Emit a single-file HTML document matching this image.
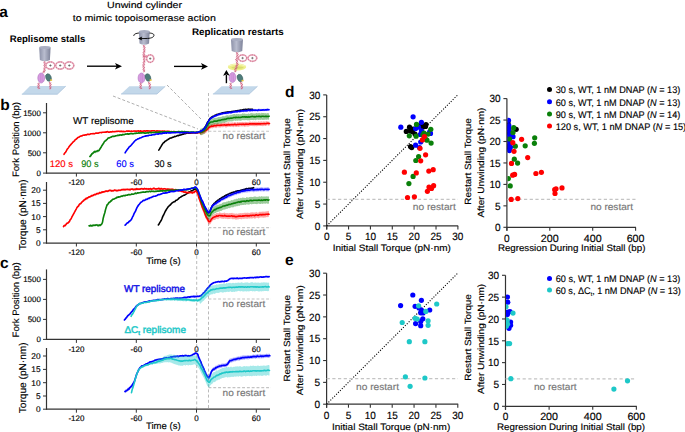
<!DOCTYPE html><html><head><meta charset="utf-8"><style>html,body{margin:0;padding:0;background:#fff;width:685px;height:432px;overflow:hidden}svg{display:block}text{font-family:"Liberation Sans",sans-serif;text-rendering:geometricPrecision;stroke-width:0.15px}</style></head><body>
<svg width="685" height="432" viewBox="0 0 685 432">
<defs><linearGradient id="cyl" x1="0" x2="1" y1="0" y2="0"><stop offset="0" stop-color="#8c91a8"/><stop offset="0.45" stop-color="#b9bdcf"/><stop offset="1" stop-color="#7d8299"/></linearGradient><clipPath id="cdR"><rect x="507.5" y="80" width="180" height="170"/></clipPath><clipPath id="ceR"><rect x="506.1" y="260" width="180" height="170"/></clipPath></defs>
<text x="-0.80" y="16.90" font-size="15.5" font-weight="bold">a</text>
<text x="107.10" y="7.80" font-size="9.1" stroke="#000" textLength="74.90" lengthAdjust="spacingAndGlyphs">Unwind cylinder</text>
<text x="72.70" y="21.00" font-size="9.1" stroke="#000" textLength="143.20" lengthAdjust="spacingAndGlyphs">to mimic topoisomerase action</text>
<text x="9.80" y="42.00" font-size="9.6" font-weight="bold" textLength="75.40" lengthAdjust="spacingAndGlyphs">Replisome stalls</text>
<text x="192.00" y="35.00" font-size="9.6" font-weight="bold" textLength="91.80" lengthAdjust="spacingAndGlyphs">Replication restarts</text>
<path d="M30,86.1 L65.8,86.1 L57.3,94.2 L21.8,94.2 Z" fill="#c3d8ea"/>
<path d="M21.8,94.2 L57.3,94.2 L65.8,86.1" fill="none" stroke="#a8c2da" stroke-width="0.8"/>
<path d="M39.00,83.00 L39.57,83.59 L39.72,84.07 L39.30,84.43 L38.50,84.69 L37.76,84.97 L37.49,85.36 L37.79,86.12 L38.60,86.38 L39.30,86.67 L39.49,87.08 L39.13,87.61 L38.50,88.21 L38.06,88.77 L38.14,89.20" fill="none" stroke="#e690aa" stroke-width="0.83"/>
<path d="M39.00,83.00 L38.23,83.27 L37.88,83.64 L38.10,84.15 L38.70,84.74 L39.24,85.32 L39.31,85.78 L38.81,85.88 L38.20,86.48 L37.70,87.04 L37.71,87.49 L38.27,87.81 L39.10,88.07 L39.74,88.37 L39.86,88.80" fill="none" stroke="#c8486a" stroke-width="0.83"/>
<path d="M50.00,82.00 L50.69,82.32 L51.04,82.68 L50.89,83.11 L50.35,83.58 L49.73,84.06 L49.38,84.51 L49.52,84.90 L50.10,85.24 L50.84,85.55 L51.36,86.14 L51.29,86.57 L50.70,86.91 L49.89,87.22 L49.33,87.57 L49.31,88.00 L49.80,88.53 L50.45,89.08" fill="none" stroke="#e690aa" stroke-width="0.83"/>
<path d="M50.00,82.00 L49.41,82.48 L49.16,82.92 L49.41,83.29 L50.05,83.62 L50.77,83.94 L51.22,84.29 L51.18,84.70 L50.70,85.16 L50.06,85.65 L49.64,85.86 L49.56,86.28 L50.02,86.80 L50.68,87.35 L51.10,87.86 L50.98,88.28 L50.35,88.62 L49.55,88.92" fill="none" stroke="#c8486a" stroke-width="0.83"/>
<path d="M44.60,61.30 L45.29,61.70 L45.59,62.11 L45.32,62.55 L44.65,63.01 L44.00,63.47 L43.76,63.90 L44.08,64.32 L44.78,64.72 L45.46,65.12 L45.73,65.53 L45.43,66.03 L44.77,66.40 L44.11,66.77 L43.79,67.15 L43.97,67.56 L44.54,67.99 L45.19,68.43 L45.58,68.85 L45.48,69.24 L44.95,69.62 L44.26,69.88 L43.60,70.12 L43.50,70.57 L43.93,71.21 L44.49,71.90 L44.70,72.47 L44.32,72.81 L43.49,73.00" fill="none" stroke="#e690aa" stroke-width="0.83"/>
<path d="M44.60,61.30 L43.94,61.76 L43.69,62.19 L43.99,62.61 L44.69,63.01 L45.38,63.41 L45.66,63.82 L45.37,64.26 L44.71,64.72 L44.06,65.18 L43.83,65.61 L44.17,65.97 L44.79,66.40 L45.41,66.83 L45.69,67.25 L45.47,67.64 L44.86,68.01 L44.17,68.37 L43.74,68.75 L43.80,69.16 L44.29,69.58 L44.94,70.12 L45.28,70.74 L45.07,71.14 L44.33,71.36 L43.45,71.52 L42.93,71.82 L43.00,72.33 L43.51,73.00" fill="none" stroke="#c8486a" stroke-width="0.83"/>
<ellipse cx="50.4" cy="65.5" rx="4.5" ry="3.6" fill="#fff" stroke="#eab4c4" stroke-width="1.7"/>
<ellipse cx="50.4" cy="65.5" rx="4.5" ry="3.6" fill="none" stroke="#cc5577" stroke-width="0.8" stroke-dasharray="1.2 1.2"/>
<line x1="49.20" y1="65.50" x2="51.60" y2="65.50" stroke="#444" stroke-width="0.6" />
<line x1="50.40" y1="64.30" x2="50.40" y2="66.70" stroke="#444" stroke-width="0.6" />
<ellipse cx="60.2" cy="65.5" rx="4.5" ry="3.6" fill="#fff" stroke="#eab4c4" stroke-width="1.7"/>
<ellipse cx="60.2" cy="65.5" rx="4.5" ry="3.6" fill="none" stroke="#cc5577" stroke-width="0.8" stroke-dasharray="1.2 1.2"/>
<line x1="59.00" y1="65.50" x2="61.40" y2="65.50" stroke="#444" stroke-width="0.6" />
<line x1="60.20" y1="64.30" x2="60.20" y2="66.70" stroke="#444" stroke-width="0.6" />
<ellipse cx="69.3" cy="65.5" rx="4.5" ry="3.6" fill="#fff" stroke="#eab4c4" stroke-width="1.7"/>
<ellipse cx="69.3" cy="65.5" rx="4.5" ry="3.6" fill="none" stroke="#cc5577" stroke-width="0.8" stroke-dasharray="1.2 1.2"/>
<line x1="68.10" y1="65.50" x2="70.50" y2="65.50" stroke="#444" stroke-width="0.6" />
<line x1="69.30" y1="64.30" x2="69.30" y2="66.70" stroke="#444" stroke-width="0.6" />
<ellipse cx="41.2" cy="78" rx="3.4" ry="5" fill="#d79be0" stroke="#b070c0" stroke-width="0.6"/>
<line x1="40.60" y1="74.00" x2="40.60" y2="82.00" stroke="#c080cc" stroke-width="0.5" />
<line x1="42.20" y1="74.00" x2="42.20" y2="82.00" stroke="#c080cc" stroke-width="0.5" />
<ellipse cx="48.5" cy="77.5" rx="2.7" ry="3.9" fill="#4f7c7a" stroke="#3a6060" stroke-width="0.5" transform="rotate(-20 48.5 77.5)"/>
<ellipse cx="51.1" cy="80.1" rx="1.2" ry="0.9" fill="#e8c840"/>
<path d="M39.2,47.5 L39.884,60 Q44.900000000000006,62.5 49.916000000000004,60 L50.6,47.5 Z" fill="url(#cyl)"/>
<ellipse cx="44.900000000000006" cy="47.5" rx="5.699999999999999" ry="1.6" fill="#a9aec2"/>
<line x1="87.00" y1="66.20" x2="117.00" y2="66.20" stroke="#000" stroke-width="1.35" />
<path d="M122,66.2 L115,62.900000000000006 L116.7,66.2 L115,69.5 Z" fill="#000"/>
<path d="M129.4,86.3 L165.3,86.3 L156.9,94 L121,94 Z" fill="#c3d8ea"/>
<path d="M121,94 L156.9,94 L165.3,86.3" fill="none" stroke="#a8c2da" stroke-width="0.8"/>
<path d="M144.00,45.00 L144.70,45.35 L145.03,45.74 L144.82,46.18 L144.21,46.66 L143.58,47.15 L143.31,47.59 L143.57,47.99 L144.25,48.34 L144.97,48.69 L145.36,49.07 L145.21,49.51 L144.63,50.03 L143.86,50.30 L143.41,50.65 L143.51,51.10 L144.04,51.64 L144.64,52.20 L144.92,52.68 L144.66,53.07 L143.96,53.36 L143.19,53.64 L142.74,53.98 L142.84,54.43 L143.37,55.03 L144.14,55.30 L144.59,55.65 L144.49,56.10 L143.96,56.64 L143.36,57.20 L143.08,57.68 L143.34,58.07 L144.04,58.36 L144.81,58.64 L145.26,58.98 L145.16,59.43 L144.63,60.03 L143.86,60.30 L143.41,60.65 L143.50,61.10 L144.03,61.64 L144.64,62.19 L144.92,62.68 L144.66,63.07 L143.97,63.36 L143.19,63.64 L142.74,63.98 L142.84,64.43 L143.36,65.01 L144.08,65.37 L144.49,65.76 L144.38,66.18 L143.84,66.63 L143.17,67.09 L142.77,67.54 L142.87,67.94 L143.43,68.32 L144.17,68.68 L144.68,69.05 L144.70,69.47 L144.23,69.91 L143.56,70.38 L143.06,70.83 L143.04,71.24 L143.51,71.62 L144.24,71.98" fill="none" stroke="#e690aa" stroke-width="0.83"/>
<path d="M144.00,45.00 L143.38,45.48 L143.14,45.93 L143.43,46.32 L144.12,46.67 L144.84,47.02 L145.19,47.41 L145.01,47.84 L144.42,48.32 L143.78,48.81 L143.48,49.26 L143.71,49.66 L144.37,49.97 L144.98,50.53 L145.26,51.02 L144.99,51.40 L144.30,51.69 L143.52,51.97 L143.08,52.32 L143.17,52.77 L143.70,53.31 L144.31,53.86 L144.59,54.35 L144.33,54.73 L143.63,54.97 L143.02,55.53 L142.74,56.02 L143.01,56.40 L143.70,56.69 L144.48,56.97 L144.92,57.32 L144.83,57.77 L144.30,58.31 L143.69,58.86 L143.41,59.35 L143.67,59.73 L144.37,59.97 L144.98,60.53 L145.26,61.02 L145.00,61.40 L144.30,61.69 L143.53,61.97 L143.08,62.32 L143.17,62.77 L143.70,63.31 L144.31,63.86 L144.59,64.35 L144.33,64.73 L143.64,64.99 L142.98,65.45 L142.63,65.89 L142.79,66.29 L143.40,66.66 L144.12,67.02 L144.59,67.41 L144.54,67.82 L144.04,68.27 L143.36,68.73 L142.91,69.18 L142.95,69.59 L143.47,69.97 L144.21,70.33 L144.76,70.70 L144.85,71.11 L144.43,71.56 L143.76,72.02" fill="none" stroke="#c8486a" stroke-width="0.83"/>
<ellipse cx="150.2" cy="58.6" rx="3.6" ry="3.8" fill="#fff" stroke="#eab4c4" stroke-width="1.7"/>
<ellipse cx="150.2" cy="58.6" rx="3.6" ry="3.8" fill="none" stroke="#cc5577" stroke-width="0.8" stroke-dasharray="1.2 1.2"/>
<line x1="149.00" y1="58.60" x2="151.40" y2="58.60" stroke="#444" stroke-width="0.6" />
<line x1="150.20" y1="57.40" x2="150.20" y2="59.80" stroke="#444" stroke-width="0.6" />
<path d="M144.20,55.50 L144.93,55.09 L145.45,55.10 L145.66,55.65 L145.71,56.53 L145.81,57.30 L146.17,57.58 L146.82,57.34" fill="none" stroke="#e690aa" stroke-width="0.68"/>
<path d="M144.20,55.50 L144.27,56.34 L144.55,56.76 L145.14,56.63 L145.89,56.18 L146.59,55.84 L147.03,55.99 L147.18,56.66" fill="none" stroke="#c8486a" stroke-width="0.68"/>
<ellipse cx="141.5" cy="78" rx="3.4" ry="5" fill="#d79be0" stroke="#b070c0" stroke-width="0.6"/>
<line x1="140.90" y1="74.00" x2="140.90" y2="82.00" stroke="#c080cc" stroke-width="0.5" />
<line x1="142.50" y1="74.00" x2="142.50" y2="82.00" stroke="#c080cc" stroke-width="0.5" />
<ellipse cx="148" cy="77.5" rx="2.7" ry="3.9" fill="#4f7c7a" stroke="#3a6060" stroke-width="0.5" transform="rotate(-20 148 77.5)"/>
<ellipse cx="150.6" cy="80.1" rx="1.2" ry="0.9" fill="#e8c840"/>
<path d="M141.00,83.00 L141.60,83.54 L141.79,84.01 L141.41,84.39 L140.65,84.70 L139.92,85.02 L139.64,85.42 L139.92,86.10 L140.70,86.41 L141.40,86.73 L141.64,87.13 L141.31,87.63 L140.66,88.18 L140.13,88.70 L140.09,89.15" fill="none" stroke="#e690aa" stroke-width="0.83"/>
<path d="M141.00,83.00 L140.25,83.32 L139.92,83.70 L140.16,84.18 L140.78,84.73 L141.36,85.26 L141.50,85.73 L141.08,85.90 L140.44,86.45 L139.88,86.98 L139.79,87.44 L140.26,87.80 L141.05,88.11 L141.72,88.44 L141.91,88.85" fill="none" stroke="#c8486a" stroke-width="0.83"/>
<path d="M149.00,82.00 L149.74,82.24 L150.12,82.57 L150.00,83.03 L149.49,83.58 L148.93,84.14 L148.69,84.63 L148.95,84.99 L149.63,85.24 L150.40,85.47 L150.91,86.15 L150.72,86.56 L150.04,86.89 L149.25,87.20 L148.79,87.56 L148.89,88.02 L149.45,88.55 L150.08,89.10" fill="none" stroke="#e690aa" stroke-width="0.83"/>
<path d="M149.00,82.00 L148.46,82.56 L148.28,83.03 L148.60,83.37 L149.31,83.62 L150.07,83.86 L150.51,84.17 L150.45,84.61 L149.97,85.16 L149.40,85.73 L149.09,85.85 L149.14,86.30 L149.67,86.83 L150.32,87.37 L150.64,87.87 L150.40,88.27 L149.69,88.59 L148.92,88.90" fill="none" stroke="#c8486a" stroke-width="0.83"/>
<path d="M133.9,36 C133.4,34.2 136,33.2 139.5,33 L149,33 C152.5,33.1 154.4,34.2 153.9,35.7" fill="none" stroke="#000" stroke-width="0.9"/>
<path d="M138.9,31.5 L139.548,43.6 Q144.3,46.1 149.052,43.6 L149.7,31.5 Z" fill="url(#cyl)"/>
<ellipse cx="144.3" cy="31.5" rx="5.3999999999999915" ry="1.6" fill="#a9aec2"/>
<path d="M153.9,35.7 C153.4,37.6 150.5,38.4 146,38.5 L141,38.6" fill="none" stroke="#000" stroke-width="0.9"/>
<path d="M138,38.6 L142.2,36.6 L141.3,38.6 L142.2,40.6 Z" fill="#000"/>
<line x1="174.00" y1="66.40" x2="203.00" y2="66.40" stroke="#000" stroke-width="1.35" />
<path d="M208,66.4 L201,63.10000000000001 L202.7,66.4 L201,69.7 Z" fill="#000"/>
<path d="M221.6,86.3 L257.5,86.3 L249.2,94 L212.9,94 Z" fill="#c3d8ea"/>
<path d="M212.9,94 L249.2,94 L257.5,86.3" fill="none" stroke="#a8c2da" stroke-width="0.8"/>
<ellipse cx="237" cy="67" rx="9.2" ry="3.4" fill="#eef08a"/>
<ellipse cx="237.5" cy="67.6" rx="6.2" ry="1.3" fill="#d8dc70"/>
<path d="M228.5,66 Q237,62.5 245.5,66" fill="none" stroke="#f6f8c0" stroke-width="1"/>
<path d="M237.00,52.00 L237.69,52.32 L238.04,52.68 L237.89,53.11 L237.35,53.58 L236.73,54.06 L236.38,54.51 L236.52,54.90 L237.10,55.24 L237.84,55.55 L238.35,56.21 L238.26,56.62 L237.70,56.90 L236.92,57.13 L236.29,57.40 L236.11,57.78 L236.42,58.28 L237.00,58.85 L237.46,59.39 L237.51,59.83 L237.05,59.86 L236.49,60.43 L235.99,60.98 L235.88,61.43 L236.28,61.75 L237.03,61.99 L237.76,62.24 L238.12,62.57 L237.98,63.03 L237.46,63.59 L236.93,63.79 L236.46,64.07 L236.52,64.55 L236.98,65.17 L237.48,65.82 L237.64,66.33 L237.27,66.65 L236.50,66.82 L235.71,66.98 L235.26,67.27 L235.32,67.83 L235.83,68.38 L236.39,68.95 L236.62,69.43 L236.34,69.78 L235.65,70.04 L234.88,70.27 L234.40,70.57 L234.41,71.00 L234.86,71.54 L235.44,72.11" fill="none" stroke="#e690aa" stroke-width="0.83"/>
<path d="M237.00,52.00 L236.41,52.48 L236.16,52.92 L236.41,53.29 L237.05,53.62 L237.77,53.94 L238.22,54.29 L238.18,54.70 L237.70,55.16 L237.06,55.65 L236.65,55.79 L236.54,56.18 L236.90,56.70 L237.48,57.27 L237.91,57.80 L237.89,58.22 L237.38,58.52 L236.60,58.75 L235.94,59.01 L235.69,59.37 L235.95,60.14 L236.71,60.37 L237.41,60.62 L237.72,60.97 L237.52,61.45 L236.97,62.01 L236.44,62.56 L236.28,63.03 L236.62,63.37 L237.34,63.61 L238.07,64.21 L238.24,64.73 L237.88,65.05 L237.12,65.23 L236.32,65.38 L235.86,65.67 L235.93,66.15 L236.40,66.78 L236.89,67.42 L237.04,67.93 L236.68,68.17 L235.97,68.42 L235.21,68.65 L234.78,68.97 L234.86,69.42 L235.35,69.96 L235.92,70.53 L236.20,71.03 L235.99,71.40 L235.34,71.66 L234.56,71.89" fill="none" stroke="#c8486a" stroke-width="0.83"/>
<ellipse cx="242.6" cy="58.1" rx="4.2" ry="3.2" fill="#fff" stroke="#eab4c4" stroke-width="1.7"/>
<ellipse cx="242.6" cy="58.1" rx="4.2" ry="3.2" fill="none" stroke="#cc5577" stroke-width="0.8" stroke-dasharray="1.2 1.2"/>
<line x1="241.40" y1="58.10" x2="243.80" y2="58.10" stroke="#444" stroke-width="0.6" />
<line x1="242.60" y1="56.90" x2="242.60" y2="59.30" stroke="#444" stroke-width="0.6" />
<ellipse cx="252.4" cy="58.1" rx="4.4" ry="3.2" fill="#fff" stroke="#eab4c4" stroke-width="1.7"/>
<ellipse cx="252.4" cy="58.1" rx="4.4" ry="3.2" fill="none" stroke="#cc5577" stroke-width="0.8" stroke-dasharray="1.2 1.2"/>
<line x1="251.20" y1="58.10" x2="253.60" y2="58.10" stroke="#444" stroke-width="0.6" />
<line x1="252.40" y1="56.90" x2="252.40" y2="59.30" stroke="#444" stroke-width="0.6" />
<ellipse cx="232.5" cy="77.5" rx="3.4" ry="5" fill="#d79be0" stroke="#b070c0" stroke-width="0.6"/>
<line x1="231.90" y1="73.50" x2="231.90" y2="81.50" stroke="#c080cc" stroke-width="0.5" />
<line x1="233.50" y1="73.50" x2="233.50" y2="81.50" stroke="#c080cc" stroke-width="0.5" />
<ellipse cx="240" cy="78" rx="2.7" ry="3.9" fill="#4f7c7a" stroke="#3a6060" stroke-width="0.5" transform="rotate(-20 240 78)"/>
<ellipse cx="242.6" cy="80.6" rx="1.2" ry="0.9" fill="#e8c840"/>
<path d="M231.00,83.00 L231.60,83.54 L231.79,84.01 L231.41,84.39 L230.65,84.70 L229.92,85.02 L229.64,85.42 L229.92,86.10 L230.70,86.41 L231.40,86.73 L231.64,87.13 L231.31,87.63 L230.66,88.18 L230.13,88.70 L230.09,89.15" fill="none" stroke="#e690aa" stroke-width="0.83"/>
<path d="M231.00,83.00 L230.25,83.32 L229.92,83.70 L230.16,84.18 L230.78,84.73 L231.36,85.26 L231.50,85.73 L231.08,85.90 L230.44,86.45 L229.88,86.98 L229.79,87.44 L230.26,87.80 L231.05,88.11 L231.72,88.44 L231.91,88.85" fill="none" stroke="#c8486a" stroke-width="0.83"/>
<path d="M241.00,82.00 L241.74,82.24 L242.12,82.57 L242.00,83.03 L241.49,83.58 L240.93,84.14 L240.69,84.63 L240.95,84.99 L241.63,85.24 L242.40,85.47 L242.91,86.15 L242.72,86.56 L242.04,86.89 L241.25,87.20 L240.79,87.56 L240.89,88.02 L241.45,88.55 L242.08,89.10" fill="none" stroke="#e690aa" stroke-width="0.83"/>
<path d="M241.00,82.00 L240.46,82.56 L240.28,83.03 L240.60,83.37 L241.31,83.62 L242.07,83.86 L242.51,84.17 L242.45,84.61 L241.97,85.16 L241.40,85.73 L241.09,85.85 L241.14,86.30 L241.67,86.83 L242.32,87.37 L242.64,87.87 L242.40,88.27 L241.69,88.59 L240.92,88.90" fill="none" stroke="#c8486a" stroke-width="0.83"/>
<path d="M231,39.5 L231.72,51 Q237.0,53.5 242.28,51 L243,39.5 Z" fill="url(#cyl)"/>
<ellipse cx="237.0" cy="39.5" rx="6.0" ry="1.6" fill="#a9aec2"/>
<line x1="226.40" y1="83.20" x2="226.40" y2="75.00" stroke="#000" stroke-width="1.4" />
<path d="M226.4,70 L223.1,75.8 L226.4,74.6 L229.7,75.8 Z" fill="#000"/>
<line x1="113.00" y1="96.00" x2="198.00" y2="129.00" stroke="#9a9a9a" stroke-width="0.8" stroke-dasharray="3 2"/>
<line x1="167.00" y1="85.00" x2="202.00" y2="120.00" stroke="#9a9a9a" stroke-width="0.8" stroke-dasharray="3 2"/>
<line x1="208.50" y1="93.00" x2="208.50" y2="409.00" stroke="#a8a8a8" stroke-width="0.8" stroke-dasharray="3 2.2"/>
<line x1="196.70" y1="131.00" x2="196.70" y2="409.00" stroke="#a8a8a8" stroke-width="0.8" stroke-dasharray="3 2.2"/>
<line x1="46.50" y1="103.00" x2="46.50" y2="173.60" stroke="#333333" stroke-width="1.2" />
<line x1="46.00" y1="173.10" x2="270.00" y2="173.10" stroke="#333333" stroke-width="1.25" />
<line x1="43.00" y1="112.80" x2="46.50" y2="112.80" stroke="#333333" stroke-width="1" />
<text x="40.80" y="115.64" font-size="7.9" stroke="#000" text-anchor="end">1500</text>
<line x1="43.00" y1="132.80" x2="46.50" y2="132.80" stroke="#333333" stroke-width="1" />
<text x="40.80" y="135.64" font-size="7.9" stroke="#000" text-anchor="end">1000</text>
<line x1="43.00" y1="152.80" x2="46.50" y2="152.80" stroke="#333333" stroke-width="1" />
<text x="40.80" y="155.64" font-size="7.9" stroke="#000" text-anchor="end">500</text>
<line x1="43.00" y1="173.10" x2="46.50" y2="173.10" stroke="#333333" stroke-width="1" />
<text x="40.80" y="175.94" font-size="7.9" stroke="#000" text-anchor="end">0</text>
<line x1="76.40" y1="173.10" x2="76.40" y2="176.60" stroke="#333333" stroke-width="1" />
<text x="76.40" y="185.00" font-size="8.0" stroke="#000" text-anchor="middle">-120</text>
<line x1="136.30" y1="173.10" x2="136.30" y2="176.60" stroke="#333333" stroke-width="1" />
<text x="136.30" y="185.00" font-size="8.0" stroke="#000" text-anchor="middle">-60</text>
<line x1="196.50" y1="173.10" x2="196.50" y2="176.60" stroke="#333333" stroke-width="1" />
<text x="196.50" y="185.00" font-size="8.0" stroke="#000" text-anchor="middle">0</text>
<line x1="256.30" y1="173.10" x2="256.30" y2="176.60" stroke="#333333" stroke-width="1" />
<text x="256.30" y="185.00" font-size="8.0" stroke="#000" text-anchor="middle">60</text>
<text transform="translate(19.10,139.50) rotate(-90)" font-size="9.3" stroke="#000" text-anchor="middle" textLength="75.00" lengthAdjust="spacingAndGlyphs">Fork Position (bp)</text>
<line x1="46.50" y1="182.00" x2="46.50" y2="243.50" stroke="#333333" stroke-width="1.2" />
<line x1="46.00" y1="243.00" x2="270.00" y2="243.00" stroke="#333333" stroke-width="1.25" />
<line x1="43.00" y1="190.20" x2="46.50" y2="190.20" stroke="#333333" stroke-width="1" />
<text x="40.50" y="193.19" font-size="8.3" stroke="#000" text-anchor="end">20</text>
<line x1="43.00" y1="203.40" x2="46.50" y2="203.40" stroke="#333333" stroke-width="1" />
<text x="40.50" y="206.39" font-size="8.3" stroke="#000" text-anchor="end">15</text>
<line x1="43.00" y1="216.60" x2="46.50" y2="216.60" stroke="#333333" stroke-width="1" />
<text x="40.50" y="219.59" font-size="8.3" stroke="#000" text-anchor="end">10</text>
<line x1="43.00" y1="229.80" x2="46.50" y2="229.80" stroke="#333333" stroke-width="1" />
<text x="40.50" y="232.79" font-size="8.3" stroke="#000" text-anchor="end">5</text>
<line x1="43.00" y1="243.00" x2="46.50" y2="243.00" stroke="#333333" stroke-width="1" />
<text x="40.50" y="245.99" font-size="8.3" stroke="#000" text-anchor="end">0</text>
<line x1="76.40" y1="243.00" x2="76.40" y2="246.50" stroke="#333333" stroke-width="1" />
<text x="76.40" y="255.20" font-size="8.0" stroke="#000" text-anchor="middle">-120</text>
<line x1="136.30" y1="243.00" x2="136.30" y2="246.50" stroke="#333333" stroke-width="1" />
<text x="136.30" y="255.20" font-size="8.0" stroke="#000" text-anchor="middle">-60</text>
<line x1="196.50" y1="243.00" x2="196.50" y2="246.50" stroke="#333333" stroke-width="1" />
<text x="196.50" y="255.20" font-size="8.0" stroke="#000" text-anchor="middle">0</text>
<line x1="256.30" y1="243.00" x2="256.30" y2="246.50" stroke="#333333" stroke-width="1" />
<text x="256.30" y="255.20" font-size="8.0" stroke="#000" text-anchor="middle">60</text>
<text transform="translate(26.30,214.80) rotate(-90)" font-size="9.9" stroke="#000" text-anchor="middle" textLength="71.00" lengthAdjust="spacingAndGlyphs">Torque (pN·nm)</text>
<line x1="46.50" y1="269.40" x2="46.50" y2="339.90" stroke="#333333" stroke-width="1.2" />
<line x1="46.00" y1="339.40" x2="270.00" y2="339.40" stroke="#333333" stroke-width="1.25" />
<line x1="43.00" y1="279.40" x2="46.50" y2="279.40" stroke="#333333" stroke-width="1" />
<text x="40.80" y="282.24" font-size="7.9" stroke="#000" text-anchor="end">1500</text>
<line x1="43.00" y1="299.40" x2="46.50" y2="299.40" stroke="#333333" stroke-width="1" />
<text x="40.80" y="302.24" font-size="7.9" stroke="#000" text-anchor="end">1000</text>
<line x1="43.00" y1="319.40" x2="46.50" y2="319.40" stroke="#333333" stroke-width="1" />
<text x="40.80" y="322.24" font-size="7.9" stroke="#000" text-anchor="end">500</text>
<line x1="43.00" y1="339.40" x2="46.50" y2="339.40" stroke="#333333" stroke-width="1" />
<text x="40.80" y="342.24" font-size="7.9" stroke="#000" text-anchor="end">0</text>
<line x1="76.40" y1="339.40" x2="76.40" y2="342.90" stroke="#333333" stroke-width="1" />
<text x="76.40" y="351.60" font-size="8.0" stroke="#000" text-anchor="middle">-120</text>
<line x1="136.30" y1="339.40" x2="136.30" y2="342.90" stroke="#333333" stroke-width="1" />
<text x="136.30" y="351.60" font-size="8.0" stroke="#000" text-anchor="middle">-60</text>
<line x1="196.50" y1="339.40" x2="196.50" y2="342.90" stroke="#333333" stroke-width="1" />
<text x="196.50" y="351.60" font-size="8.0" stroke="#000" text-anchor="middle">0</text>
<line x1="256.30" y1="339.40" x2="256.30" y2="342.90" stroke="#333333" stroke-width="1" />
<text x="256.30" y="351.60" font-size="8.0" stroke="#000" text-anchor="middle">60</text>
<text transform="translate(19.10,299.90) rotate(-90)" font-size="9.3" stroke="#000" text-anchor="middle" textLength="75.00" lengthAdjust="spacingAndGlyphs">Fork Position (bp)</text>
<line x1="46.50" y1="348.00" x2="46.50" y2="409.70" stroke="#333333" stroke-width="1.2" />
<line x1="46.00" y1="409.20" x2="270.00" y2="409.20" stroke="#333333" stroke-width="1.25" />
<line x1="43.00" y1="356.00" x2="46.50" y2="356.00" stroke="#333333" stroke-width="1" />
<text x="40.50" y="358.99" font-size="8.3" stroke="#000" text-anchor="end">20</text>
<line x1="43.00" y1="369.40" x2="46.50" y2="369.40" stroke="#333333" stroke-width="1" />
<text x="40.50" y="372.39" font-size="8.3" stroke="#000" text-anchor="end">15</text>
<line x1="43.00" y1="382.70" x2="46.50" y2="382.70" stroke="#333333" stroke-width="1" />
<text x="40.50" y="385.69" font-size="8.3" stroke="#000" text-anchor="end">10</text>
<line x1="43.00" y1="396.00" x2="46.50" y2="396.00" stroke="#333333" stroke-width="1" />
<text x="40.50" y="398.99" font-size="8.3" stroke="#000" text-anchor="end">5</text>
<line x1="43.00" y1="409.20" x2="46.50" y2="409.20" stroke="#333333" stroke-width="1" />
<text x="40.50" y="412.19" font-size="8.3" stroke="#000" text-anchor="end">0</text>
<line x1="76.40" y1="409.20" x2="76.40" y2="412.70" stroke="#333333" stroke-width="1" />
<text x="76.40" y="420.60" font-size="8.0" stroke="#000" text-anchor="middle">-120</text>
<line x1="136.30" y1="409.20" x2="136.30" y2="412.70" stroke="#333333" stroke-width="1" />
<text x="136.30" y="420.60" font-size="8.0" stroke="#000" text-anchor="middle">-60</text>
<line x1="196.50" y1="409.20" x2="196.50" y2="412.70" stroke="#333333" stroke-width="1" />
<text x="196.50" y="420.60" font-size="8.0" stroke="#000" text-anchor="middle">0</text>
<line x1="256.30" y1="409.20" x2="256.30" y2="412.70" stroke="#333333" stroke-width="1" />
<text x="256.30" y="420.60" font-size="8.0" stroke="#000" text-anchor="middle">60</text>
<text transform="translate(26.30,377.80) rotate(-90)" font-size="9.9" stroke="#000" text-anchor="middle" textLength="71.00" lengthAdjust="spacingAndGlyphs">Torque (pN·nm)</text>
<text x="0.30" y="110.30" font-size="15.5" font-weight="bold">b</text>
<text x="0.00" y="267.70" font-size="15.5" font-weight="bold">c</text>
<text x="146.20" y="263.70" font-size="9.5" stroke="#000" textLength="34.40" lengthAdjust="spacingAndGlyphs">Time (s)</text>
<text x="146.00" y="428.90" font-size="9.5" stroke="#000" textLength="34.60" lengthAdjust="spacingAndGlyphs">Time (s)</text>
<line x1="208.50" y1="131.30" x2="271.00" y2="131.30" stroke="#c4c4c4" stroke-width="1.1" stroke-dasharray="2.9 1.9"/>
<text x="222.60" y="139.40" font-size="9.6" fill="#777777" stroke="#777777" textLength="42.60" lengthAdjust="spacingAndGlyphs">no restart</text>
<line x1="208.50" y1="227.60" x2="271.00" y2="227.60" stroke="#c4c4c4" stroke-width="1.1" stroke-dasharray="2.9 1.9"/>
<text x="222.60" y="235.40" font-size="9.6" fill="#777777" stroke="#777777" textLength="42.60" lengthAdjust="spacingAndGlyphs">no restart</text>
<line x1="208.50" y1="299.00" x2="271.00" y2="299.00" stroke="#c4c4c4" stroke-width="1.1" stroke-dasharray="2.9 1.9"/>
<text x="222.60" y="307.40" font-size="9.6" fill="#777777" stroke="#777777" textLength="42.60" lengthAdjust="spacingAndGlyphs">no restart</text>
<line x1="208.50" y1="387.60" x2="271.00" y2="387.60" stroke="#c4c4c4" stroke-width="1.1" stroke-dasharray="2.9 1.9"/>
<text x="222.60" y="396.20" font-size="9.6" fill="#777777" stroke="#777777" textLength="42.60" lengthAdjust="spacingAndGlyphs">no restart</text>
<text x="73.00" y="124.20" font-size="9.7" stroke="#000" textLength="60.80" lengthAdjust="spacingAndGlyphs">WT replisome</text>
<text x="49.70" y="167.00" font-size="9.5" fill="#ff0000" stroke="#ff0000" textLength="23.30" lengthAdjust="spacingAndGlyphs">120 s</text>
<text x="81.20" y="167.00" font-size="9.5" fill="#0a800a" stroke="#0a800a" textLength="17.50" lengthAdjust="spacingAndGlyphs">90 s</text>
<text x="116.30" y="167.00" font-size="9.5" fill="#0000ff" stroke="#0000ff" textLength="17.60" lengthAdjust="spacingAndGlyphs">60 s</text>
<text x="154.40" y="167.00" font-size="9.5" fill="#000000" stroke="#000000" textLength="17.20" lengthAdjust="spacingAndGlyphs">30 s</text>
<text x="124.1" y="292.2" font-size="9.8" fill="#1414e6" stroke="#1414e6" style="stroke-width:0.45px" textLength="60.8" lengthAdjust="spacingAndGlyphs">WT replisome</text>
<text x="124.4" y="333.2" font-size="9.8" fill="#1ec8c8" stroke="#1ec8c8" style="stroke-width:0.45px" textLength="61.6" lengthAdjust="spacingAndGlyphs">&#916;C<tspan font-size="6" dy="1.8">t</tspan><tspan dy="-1.8"> replisome</tspan></text>
<path d="M158.8,150.1 L159.6,148.9 L160.3,147.6 L161.1,146.4 L161.8,145.2 L162.6,143.9 L163.3,142.9 L164.1,142.5 L164.8,141.6 L165.6,140.9 L166.3,140.7 L167.1,140.0 L167.8,139.6 L168.6,139.0 L169.3,138.7 L170.1,138.1 L170.8,138.0 L171.6,137.9 L172.3,137.4 L173.1,137.2 L173.8,137.0 L174.6,136.4 L175.3,136.6 L176.1,136.3 L176.8,135.9 L177.6,135.5 L178.3,135.7 L179.1,135.2 L179.8,135.1 L180.6,135.0 L181.3,134.7 L182.1,134.5 L182.8,134.1 L183.6,134.1 L184.3,133.7 L185.1,133.8 L185.8,133.6 L186.6,133.1 L187.3,133.0 L188.1,133.0 L188.8,133.3 L189.6,133.0 L190.3,133.1 L191.1,132.9 L191.8,132.9 L192.6,132.8 L193.3,132.7 L194.1,132.8 L194.8,132.8 L195.6,132.9 L196.3,132.7 L197.1,132.6 L197.8,132.4 L198.6,132.3 L199.3,131.9 L200.1,131.3 L200.8,131.3 L201.6,130.9 L202.3,130.4 L203.1,129.6 L203.8,128.9 L204.6,127.7 L205.3,126.9 L206.1,125.4 L206.8,123.8 L207.6,122.2 L208.3,121.3 L209.1,120.2 L209.8,118.5 L210.6,118.1 L211.3,117.4 L212.1,116.8 L212.8,116.4 L213.6,116.2 L214.3,115.9 L215.1,115.2 L215.8,115.1 L216.6,114.5 L217.3,114.6 L218.1,114.1 L218.8,114.1 L219.6,114.0 L220.3,113.5 L221.1,113.6 L221.8,113.1 L222.6,112.8 L223.3,112.9 L224.1,112.5 L224.8,112.5 L225.6,112.4 L226.3,112.4 L227.1,112.1 L227.8,111.9 L228.6,112.2 L229.3,111.8 L230.1,112.0 L230.8,111.9 L231.6,111.5 L232.3,111.5 L233.1,111.4 L233.8,111.3 L234.6,111.2 L235.3,111.0 L236.1,110.9 L236.8,111.0 L237.6,110.6 L238.3,110.5 L239.1,110.5 L239.8,110.2 L240.6,110.1 L241.3,110.3 L242.1,110.0 L242.8,109.9 L243.6,109.5 L244.3,109.6 L245.1,109.6 L245.8,109.3 L246.6,109.5 L247.3,109.5 L248.1,109.1 L248.8,109.4 L249.6,109.3 L250.3,109.4 L251.1,109.2 L251.8,109.3 L252.6,109.3" fill="none" stroke="#000000" stroke-width="1.6" stroke-linejoin="round" stroke-linecap="round"/>
<path d="M64.0,154.2 L64.8,152.5 L65.5,151.7 L66.2,150.9 L67.0,149.4 L67.8,148.4 L68.5,147.2 L69.2,145.8 L70.0,145.3 L70.8,144.1 L71.5,143.5 L72.2,142.6 L73.0,141.7 L73.8,141.0 L74.5,140.4 L75.2,139.0 L76.0,139.0 L76.8,138.6 L77.5,137.2 L78.2,136.8 L79.0,136.9 L79.8,136.2 L80.5,135.9 L81.2,135.8 L82.0,135.6 L82.8,134.7 L83.5,134.7 L84.2,134.7 L85.0,134.6 L85.8,134.4 L86.5,134.7 L87.2,133.7 L88.0,133.7 L88.8,134.2 L89.5,134.1 L90.2,133.7 L91.0,133.2 L91.8,133.4 L92.5,133.4 L93.2,133.0 L94.0,133.3 L94.8,133.0 L95.5,132.6 L96.2,132.6 L97.0,132.9 L97.8,132.9 L98.5,132.9 L99.2,132.2 L100.0,131.9 L100.8,132.2 L101.5,132.1 L102.2,132.1 L103.0,132.0 L103.8,131.6 L104.5,131.6 L105.2,131.7 L106.0,131.8 L106.8,131.1 L107.5,131.5 L108.2,131.7 L109.0,131.7 L109.8,131.9 L110.5,131.2 L111.2,131.5 L112.0,131.6 L112.8,131.2 L113.5,131.3 L114.2,131.3 L115.0,131.2 L115.8,131.1 L116.5,130.9 L117.2,131.2 L118.0,130.7 L118.8,130.8 L119.5,131.0 L120.2,130.6 L121.0,131.4 L121.8,130.9 L122.5,131.0 L123.2,131.1 L124.0,131.3 L124.8,131.0 L125.5,131.4 L126.2,130.9 L127.0,130.5 L127.8,130.7 L128.5,130.4 L129.2,130.7 L130.0,130.9 L130.8,130.9 L131.5,130.7 L132.2,130.9 L133.0,131.0 L133.8,130.5 L134.5,130.6 L135.2,130.8 L136.0,130.5 L136.8,130.6 L137.5,130.4 L138.2,130.3 L139.0,130.5 L139.8,130.6 L140.5,130.4 L141.2,130.5 L142.0,130.8 L142.8,130.5 L143.5,130.7 L144.2,130.6 L145.0,130.4 L145.8,130.6 L146.5,130.2 L147.2,130.2 L148.0,130.3 L148.8,130.6 L149.5,130.4 L150.2,130.4 L151.0,130.9 L151.8,130.1 L152.5,130.6 L153.2,130.1 L154.0,130.2 L154.8,130.1 L155.5,131.0 L156.2,130.7 L157.0,130.4 L157.8,131.0 L158.5,130.3 L159.2,130.7 L160.0,130.4 L160.8,131.1 L161.5,130.8 L162.2,130.9 L163.0,130.5 L163.8,130.9 L164.5,130.7 L165.2,130.9 L166.0,130.9 L166.8,130.9 L167.5,130.6 L168.2,130.9 L169.0,130.9 L169.8,130.9 L170.5,131.0 L171.2,131.2 L172.0,131.1 L172.8,131.5 L173.5,131.4 L174.2,131.2 L175.0,131.5 L175.8,131.4 L176.5,131.3 L177.2,131.3 L178.0,131.2 L178.8,131.5 L179.5,131.3 L180.2,131.8 L181.0,131.1 L181.8,131.9 L182.5,131.8 L183.2,132.2 L184.0,132.3 L184.8,131.6 L185.5,131.9 L186.2,131.9 L187.0,132.1 L187.8,132.3 L188.5,131.8 L189.2,132.5 L190.0,132.3 L190.8,132.7 L191.5,132.5 L192.2,132.1 L193.0,132.5 L193.8,132.2 L194.5,132.1 L195.2,132.2 L196.0,132.1 L196.8,132.2 L197.5,132.5 L198.2,132.2 L199.0,132.1 L199.8,132.1 L200.5,130.5 L201.2,129.9 L202.0,129.9 L202.8,130.2 L203.5,129.4 L204.2,129.1 L205.0,128.9 L205.8,128.3 L206.5,127.9 L207.2,127.3 L208.0,126.7 L208.8,125.0 L209.5,124.9 L210.2,124.5 L211.0,124.4 L211.8,123.7 L212.5,124.1 L213.2,123.8 L214.0,123.2 L214.8,123.1 L215.5,123.6 L216.2,123.8 L217.0,123.3 L217.8,122.8 L218.5,123.0 L219.2,123.2 L220.0,123.4 L220.8,122.9 L221.5,123.0 L222.2,122.7 L223.0,122.5 L223.8,122.8 L224.5,122.3 L225.2,122.6 L226.0,123.0 L226.8,122.8 L227.5,122.5 L228.2,122.1 L229.0,122.6 L229.8,122.7 L230.5,122.5 L231.2,122.7 L232.0,122.3 L232.8,122.5 L233.5,122.7 L234.2,122.3 L235.0,121.9 L235.8,122.6 L236.5,122.7 L237.2,122.1 L238.0,121.9 L238.8,122.6 L239.5,122.0 L240.2,122.3 L241.0,122.0 L241.8,122.2 L242.5,121.8 L243.2,122.2 L244.0,122.1 L244.8,122.3 L245.5,121.8 L246.2,121.9 L247.0,121.9 L247.8,122.3 L248.5,122.2 L249.2,121.5 L250.0,121.7 L250.8,121.4 L251.5,122.0 L252.2,121.8 L253.0,121.6 L253.8,121.9 L254.5,121.4 L255.2,121.7 L256.0,121.7 L256.8,121.8 L257.5,121.9 L258.2,121.6 L259.0,121.3 L259.8,122.0 L260.5,121.5 L261.2,121.3 L262.0,121.6 L262.8,121.7 L263.5,121.3 L264.2,121.6 L265.0,121.4 L265.8,121.5 L266.5,121.0 L267.2,121.4 L268.0,121.3 L268.8,121.7 L269.5,121.4 L269.5,125.5 L268.8,125.9 L268.0,125.3 L267.2,125.3 L266.5,125.5 L265.8,126.0 L265.0,125.9 L264.2,125.5 L263.5,125.9 L262.8,126.2 L262.0,126.1 L261.2,125.9 L260.5,125.9 L259.8,125.9 L259.0,125.8 L258.2,125.9 L257.5,125.9 L256.8,126.6 L256.0,125.7 L255.2,126.2 L254.5,126.3 L253.8,126.1 L253.0,126.2 L252.2,126.0 L251.5,126.0 L250.8,126.1 L250.0,126.1 L249.2,126.2 L248.5,126.4 L247.8,126.7 L247.0,126.2 L246.2,126.4 L245.5,126.5 L244.8,126.9 L244.0,126.5 L243.2,126.3 L242.5,126.5 L241.8,126.4 L241.0,126.3 L240.2,126.6 L239.5,126.5 L238.8,127.0 L238.0,126.7 L237.2,126.5 L236.5,127.0 L235.8,126.9 L235.0,126.6 L234.2,126.4 L233.5,127.3 L232.8,127.0 L232.0,126.6 L231.2,126.8 L230.5,126.9 L229.8,126.8 L229.0,126.8 L228.2,126.7 L227.5,127.0 L226.8,127.3 L226.0,127.7 L225.2,127.3 L224.5,126.6 L223.8,127.2 L223.0,126.9 L222.2,127.4 L221.5,127.1 L220.8,127.5 L220.0,127.4 L219.2,127.5 L218.5,127.4 L217.8,127.3 L217.0,127.4 L216.2,128.2 L215.5,128.0 L214.8,127.6 L214.0,127.7 L213.2,128.1 L212.5,128.5 L211.8,128.0 L211.0,128.5 L210.2,128.6 L209.5,129.4 L208.8,129.8 L208.0,130.7 L207.2,131.4 L206.5,132.6 L205.8,132.9 L205.0,133.4 L204.2,133.9 L203.5,133.6 L202.8,134.4 L202.0,134.4 L201.2,134.8 L200.5,135.0 L199.8,133.0 L199.0,133.3 L198.2,132.8 L197.5,133.5 L196.8,133.1 L196.0,132.6 L195.2,133.1 L194.5,133.1 L193.8,133.2 L193.0,133.4 L192.2,133.4 L191.5,133.2 L190.8,133.1 L190.0,133.2 L189.2,133.2 L188.5,132.5 L187.8,132.6 L187.0,132.5 L186.2,132.7 L185.5,133.2 L184.8,132.4 L184.0,132.9 L183.2,132.9 L182.5,132.5 L181.8,132.3 L181.0,132.1 L180.2,132.6 L179.5,132.2 L178.8,132.0 L178.0,132.0 L177.2,132.4 L176.5,132.4 L175.8,132.0 L175.0,132.0 L174.2,132.2 L173.5,132.2 L172.8,132.2 L172.0,132.0 L171.2,132.0 L170.5,132.1 L169.8,132.1 L169.0,131.8 L168.2,131.8 L167.5,131.7 L166.8,131.6 L166.0,132.1 L165.2,131.7 L164.5,131.7 L163.8,131.8 L163.0,131.6 L162.2,131.8 L161.5,131.6 L160.8,131.4 L160.0,131.4 L159.2,131.7 L158.5,131.3 L157.8,131.8 L157.0,131.4 L156.2,132.0 L155.5,132.0 L154.8,130.9 L154.0,131.0 L153.2,130.9 L152.5,131.2 L151.8,131.2 L151.0,131.5 L150.2,131.6 L149.5,131.2 L148.8,131.7 L148.0,131.4 L147.2,131.4 L146.5,130.9 L145.8,131.7 L145.0,131.5 L144.2,130.9 L143.5,131.3 L142.8,131.5 L142.0,131.8 L141.2,131.6 L140.5,131.0 L139.8,131.4 L139.0,131.2 L138.2,131.2 L137.5,131.2 L136.8,131.6 L136.0,131.6 L135.2,131.4 L134.5,131.4 L133.8,131.3 L133.0,131.7 L132.2,131.6 L131.5,131.7 L130.8,131.5 L130.0,131.6 L129.2,131.6 L128.5,131.2 L127.8,131.5 L127.0,131.1 L126.2,131.9 L125.5,132.1 L124.8,132.1 L124.0,132.1 L123.2,132.1 L122.5,132.2 L121.8,131.6 L121.0,131.9 L120.2,131.7 L119.5,131.7 L118.8,131.3 L118.0,131.9 L117.2,132.0 L116.5,131.8 L115.8,132.0 L115.0,131.7 L114.2,132.0 L113.5,132.1 L112.8,131.9 L112.0,132.0 L111.2,132.4 L110.5,132.3 L109.8,132.6 L109.0,132.5 L108.2,132.6 L107.5,132.3 L106.8,132.4 L106.0,132.9 L105.2,132.3 L104.5,132.6 L103.8,132.6 L103.0,132.7 L102.2,132.9 L101.5,133.1 L100.8,132.7 L100.0,133.1 L99.2,132.9 L98.5,133.3 L97.8,133.4 L97.0,133.7 L96.2,133.4 L95.5,133.7 L94.8,134.1 L94.0,134.4 L93.2,133.7 L92.5,134.3 L91.8,134.2 L91.0,134.0 L90.2,134.4 L89.5,134.9 L88.8,134.9 L88.0,134.6 L87.2,135.0 L86.5,135.4 L85.8,135.0 L85.0,135.6 L84.2,135.5 L83.5,135.8 L82.8,135.7 L82.0,136.4 L81.2,136.7 L80.5,136.4 L79.8,137.0 L79.0,137.5 L78.2,137.9 L77.5,138.5 L76.8,139.4 L76.0,139.4 L75.2,139.9 L74.5,141.3 L73.8,142.1 L73.0,142.4 L72.2,143.5 L71.5,143.9 L70.8,145.1 L70.0,145.8 L69.2,146.6 L68.5,148.2 L67.8,148.9 L67.0,149.8 L66.2,151.8 L65.5,152.4 L64.8,153.3 L64.0,154.9Z" fill="#ff0000" fill-opacity="0.35"/>
<path d="M64.0,154.3 L64.8,153.1 L65.5,152.2 L66.2,151.2 L67.0,149.6 L67.8,148.6 L68.5,147.6 L69.2,146.5 L70.0,145.5 L70.8,144.6 L71.5,143.8 L72.2,143.1 L73.0,142.1 L73.8,141.4 L74.5,140.9 L75.2,139.7 L76.0,139.3 L76.8,138.7 L77.5,137.9 L78.2,137.3 L79.0,137.2 L79.8,136.5 L80.5,136.1 L81.2,136.0 L82.0,135.9 L82.8,135.3 L83.5,135.2 L84.2,135.0 L85.0,135.1 L85.8,134.8 L86.5,134.9 L87.2,134.4 L88.0,134.4 L88.8,134.4 L89.5,134.5 L90.2,134.1 L91.0,133.8 L91.8,133.7 L92.5,133.8 L93.2,133.5 L94.0,133.7 L94.8,133.7 L95.5,133.2 L96.2,133.1 L97.0,133.3 L97.8,133.1 L98.5,133.1 L99.2,132.7 L100.0,132.5 L100.8,132.5 L101.5,132.7 L102.2,132.3 L103.0,132.3 L103.8,132.2 L104.5,132.2 L105.2,132.1 L106.0,132.3 L106.8,131.8 L107.5,131.6 L108.2,132.1 L109.0,132.0 L109.8,132.1 L110.5,131.7 L111.2,132.0 L112.0,131.9 L112.8,131.4 L113.5,131.7 L114.2,131.8 L115.0,131.6 L115.8,131.5 L116.5,131.4 L117.2,131.4 L118.0,131.3 L118.8,131.2 L119.5,131.5 L120.2,131.3 L121.0,131.6 L121.8,131.1 L122.5,131.6 L123.2,131.4 L124.0,131.6 L124.8,131.5 L125.5,131.5 L126.2,131.3 L127.0,130.9 L127.8,131.4 L128.5,131.0 L129.2,131.1 L130.0,131.3 L130.8,131.2 L131.5,131.1 L132.2,131.4 L133.0,131.2 L133.8,131.0 L134.5,131.0 L135.2,131.3 L136.0,131.1 L136.8,131.2 L137.5,131.0 L138.2,130.9 L139.0,131.1 L139.8,131.2 L140.5,130.8 L141.2,131.2 L142.0,131.3 L142.8,131.2 L143.5,131.2 L144.2,130.7 L145.0,131.1 L145.8,131.2 L146.5,130.7 L147.2,130.9 L148.0,130.9 L148.8,131.0 L149.5,131.0 L150.2,131.0 L151.0,131.2 L151.8,130.7 L152.5,130.8 L153.2,130.8 L154.0,130.8 L154.8,130.8 L155.5,131.3 L156.2,131.3 L157.0,130.8 L157.8,131.1 L158.5,131.0 L159.2,131.0 L160.0,131.1 L160.8,131.3 L161.5,131.3 L162.2,131.1 L163.0,131.1 L163.8,131.2 L164.5,131.1 L165.2,131.4 L166.0,131.5 L166.8,131.3 L167.5,131.2 L168.2,131.2 L169.0,131.4 L169.8,131.6 L170.5,131.7 L171.2,131.5 L172.0,131.8 L172.8,131.7 L173.5,131.6 L174.2,131.6 L175.0,131.7 L175.8,131.9 L176.5,131.8 L177.2,132.0 L178.0,131.9 L178.8,131.8 L179.5,132.0 L180.2,132.1 L181.0,131.8 L181.8,132.1 L182.5,132.1 L183.2,132.4 L184.0,132.5 L184.8,132.2 L185.5,132.6 L186.2,132.5 L187.0,132.3 L187.8,132.4 L188.5,132.3 L189.2,132.7 L190.0,132.7 L190.8,132.8 L191.5,132.8 L192.2,132.8 L193.0,132.8 L193.8,132.8 L194.5,132.5 L195.2,132.8 L196.0,132.5 L196.8,132.6 L197.5,133.0 L198.2,132.6 L199.0,132.6 L199.8,132.6 L200.5,133.0 L201.2,132.3 L202.0,132.0 L202.8,132.1 L203.5,131.3 L204.2,131.4 L205.0,130.9 L205.8,130.5 L206.5,130.1 L207.2,129.3 L208.0,128.7 L208.8,127.4 L209.5,127.2 L210.2,126.6 L211.0,126.5 L211.8,125.9 L212.5,126.2 L213.2,126.2 L214.0,125.5 L214.8,125.6 L215.5,125.6 L216.2,125.7 L217.0,125.3 L217.8,125.2 L218.5,125.2 L219.2,125.3 L220.0,125.4 L220.8,125.1 L221.5,125.1 L222.2,125.0 L223.0,125.0 L223.8,125.0 L224.5,124.7 L225.2,124.9 L226.0,125.2 L226.8,124.8 L227.5,125.0 L228.2,124.6 L229.0,124.9 L229.8,124.9 L230.5,124.8 L231.2,124.7 L232.0,124.6 L232.8,124.7 L233.5,124.8 L234.2,124.3 L235.0,124.3 L235.8,124.7 L236.5,124.7 L237.2,124.5 L238.0,124.4 L238.8,124.5 L239.5,124.2 L240.2,124.2 L241.0,124.2 L241.8,124.4 L242.5,124.2 L243.2,124.1 L244.0,124.4 L244.8,124.5 L245.5,124.1 L246.2,124.3 L247.0,124.1 L247.8,124.3 L248.5,124.2 L249.2,123.9 L250.0,123.9 L250.8,123.7 L251.5,124.0 L252.2,123.9 L253.0,123.8 L253.8,123.9 L254.5,123.8 L255.2,124.1 L256.0,123.7 L256.8,124.1 L257.5,123.8 L258.2,123.9 L259.0,123.7 L259.8,123.9 L260.5,123.9 L261.2,123.7 L262.0,123.7 L262.8,123.8 L263.5,123.8 L264.2,123.5 L265.0,123.7 L265.8,123.8 L266.5,123.5 L267.2,123.3 L268.0,123.3 L268.8,123.6 L269.5,123.5" fill="none" stroke="#ff0000" stroke-width="1.6" stroke-linejoin="round" stroke-linecap="round"/>
<path d="M89.9,155.3 L90.7,154.6 L91.4,153.3 L92.2,152.1 L92.9,152.1 L93.7,151.3 L94.4,150.5 L95.2,150.4 L95.9,150.5 L96.7,150.3 L97.4,149.4 L98.2,149.4 L98.9,149.4 L99.7,148.1 L100.4,147.7 L101.2,146.7 L101.9,145.2 L102.7,144.2 L103.4,142.9 L104.2,141.6 L104.9,140.8 L105.7,140.2 L106.4,139.6 L107.2,138.6 L107.9,137.9 L108.7,137.3 L109.4,137.5 L110.2,137.0 L110.9,136.7 L111.7,136.3 L112.4,136.0 L113.2,135.8 L113.9,135.8 L114.7,135.5 L115.4,135.4 L116.2,135.2 L116.9,134.8 L117.7,135.1 L118.4,134.8 L119.2,134.6 L119.9,134.3 L120.7,134.3 L121.4,134.6 L122.2,134.3 L122.9,133.8 L123.7,134.3 L124.4,134.0 L125.2,133.8 L125.9,133.8 L126.7,133.6 L127.4,133.1 L128.2,134.1 L128.9,133.5 L129.7,133.6 L130.4,133.0 L131.2,133.1 L131.9,133.3 L132.7,133.2 L133.4,133.1 L134.2,133.1 L134.9,132.6 L135.7,133.1 L136.4,132.7 L137.2,133.0 L137.9,132.8 L138.7,132.1 L139.4,132.8 L140.2,132.3 L140.9,132.8 L141.7,132.4 L142.4,132.1 L143.2,132.4 L143.9,132.2 L144.7,132.7 L145.4,132.4 L146.2,132.2 L146.9,132.4 L147.7,132.4 L148.4,132.3 L149.2,131.7 L149.9,132.0 L150.7,131.8 L151.4,132.1 L152.2,131.7 L152.9,132.0 L153.7,131.7 L154.4,132.0 L155.2,131.8 L155.9,131.7 L156.7,131.7 L157.4,131.8 L158.2,132.0 L158.9,131.5 L159.7,131.3 L160.4,131.4 L161.2,131.1 L161.9,131.5 L162.7,131.8 L163.4,131.6 L164.2,130.9 L164.9,131.6 L165.7,131.6 L166.4,131.7 L167.2,131.0 L167.9,131.0 L168.7,131.7 L169.4,131.6 L170.2,131.1 L170.9,131.5 L171.7,131.4 L172.4,131.3 L173.2,131.4 L173.9,131.4 L174.7,131.2 L175.4,131.1 L176.2,131.4 L176.9,131.8 L177.7,131.6 L178.4,130.8 L179.2,131.1 L179.9,131.2 L180.7,131.1 L181.4,131.1 L182.2,130.7 L182.9,131.3 L183.7,131.1 L184.4,131.0 L185.2,131.3 L185.9,131.3 L186.7,131.5 L187.4,131.5 L188.2,131.5 L188.9,131.8 L189.7,131.7 L190.4,131.4 L191.2,131.5 L191.9,131.5 L192.7,131.7 L193.4,131.5 L194.2,131.6 L194.9,132.1 L195.7,131.6 L196.4,131.8 L197.2,131.9 L197.9,131.7 L198.7,131.4 L199.4,131.5 L200.2,128.9 L200.9,128.6 L201.7,128.6 L202.4,128.0 L203.2,127.7 L203.9,127.4 L204.7,126.5 L205.4,125.7 L206.2,124.7 L206.9,123.3 L207.7,121.5 L208.4,120.7 L209.2,120.3 L209.9,119.3 L210.7,118.6 L211.4,118.7 L212.2,118.7 L212.9,118.5 L213.7,118.2 L214.4,117.7 L215.2,117.7 L215.9,117.9 L216.7,117.7 L217.4,117.5 L218.2,117.1 L218.9,117.0 L219.7,117.1 L220.4,117.1 L221.2,116.8 L221.9,116.7 L222.7,115.9 L223.4,116.2 L224.2,116.1 L224.9,116.4 L225.7,115.6 L226.4,115.4 L227.2,115.1 L227.9,115.4 L228.7,115.4 L229.4,115.3 L230.2,115.2 L230.9,114.6 L231.7,115.0 L232.4,114.4 L233.2,114.2 L233.9,114.1 L234.7,114.1 L235.4,114.4 L236.2,113.9 L236.9,114.0 L237.7,114.3 L238.4,114.1 L239.2,113.9 L239.9,114.4 L240.7,114.0 L241.4,114.2 L242.2,113.6 L242.9,113.2 L243.7,113.7 L244.4,113.6 L245.2,113.6 L245.9,114.2 L246.7,113.7 L247.4,114.0 L248.2,113.6 L248.9,113.5 L249.7,114.0 L250.4,113.2 L251.2,113.1 L251.9,113.2 L252.7,113.3 L253.4,113.5 L254.2,113.3 L254.9,113.8 L255.7,113.3 L256.4,112.9 L257.1,113.0 L257.9,113.4 L258.6,113.1 L259.4,112.9 L260.1,113.3 L260.9,113.5 L261.6,112.8 L262.4,113.0 L263.1,112.9 L263.9,112.9 L264.6,113.2 L265.4,113.1 L266.1,113.4 L266.9,113.2 L267.6,113.1 L268.4,113.4 L269.1,112.8 L269.1,119.5 L268.4,119.7 L267.6,119.6 L266.9,119.4 L266.1,120.1 L265.4,119.4 L264.6,119.8 L263.9,120.0 L263.1,119.7 L262.4,119.9 L261.6,119.5 L260.9,120.1 L260.1,119.8 L259.4,119.8 L258.6,119.9 L257.9,119.5 L257.1,119.7 L256.4,119.8 L255.7,120.3 L254.9,119.9 L254.2,119.7 L253.4,120.2 L252.7,120.0 L251.9,120.0 L251.2,120.0 L250.4,120.0 L249.7,120.6 L248.9,120.1 L248.2,120.5 L247.4,120.2 L246.7,119.9 L245.9,120.2 L245.2,119.9 L244.4,120.2 L243.7,120.3 L242.9,120.1 L242.2,120.2 L241.4,120.5 L240.7,120.7 L239.9,120.8 L239.2,120.5 L238.4,120.5 L237.7,120.7 L236.9,120.7 L236.2,120.5 L235.4,121.1 L234.7,120.6 L233.9,120.6 L233.2,121.3 L232.4,121.3 L231.7,121.4 L230.9,121.3 L230.2,121.5 L229.4,121.6 L228.7,121.6 L227.9,121.6 L227.2,121.7 L226.4,122.5 L225.7,122.3 L224.9,122.8 L224.2,122.7 L223.4,122.7 L222.7,122.6 L221.9,123.3 L221.2,123.4 L220.4,123.6 L219.7,123.6 L218.9,123.8 L218.2,123.7 L217.4,124.5 L216.7,124.7 L215.9,124.1 L215.2,124.2 L214.4,124.6 L213.7,124.4 L212.9,125.0 L212.2,125.6 L211.4,125.2 L210.7,125.5 L209.9,125.8 L209.2,126.9 L208.4,126.9 L207.7,128.3 L206.9,130.0 L206.2,130.8 L205.4,132.3 L204.7,133.5 L203.9,134.1 L203.2,134.4 L202.4,134.5 L201.7,135.3 L200.9,135.0 L200.2,135.2 L199.4,132.6 L198.7,132.4 L197.9,132.7 L197.2,133.1 L196.4,132.8 L195.7,132.4 L194.9,132.9 L194.2,133.0 L193.4,132.6 L192.7,132.7 L191.9,132.3 L191.2,132.7 L190.4,132.2 L189.7,132.5 L188.9,132.9 L188.2,132.7 L187.4,132.4 L186.7,132.2 L185.9,132.5 L185.2,132.4 L184.4,131.9 L183.7,132.3 L182.9,132.4 L182.2,131.8 L181.4,132.3 L180.7,132.4 L179.9,132.3 L179.2,132.3 L178.4,132.2 L177.7,132.1 L176.9,132.2 L176.2,132.1 L175.4,132.0 L174.7,132.1 L173.9,132.2 L173.2,131.9 L172.4,132.4 L171.7,132.1 L170.9,132.2 L170.2,132.5 L169.4,132.5 L168.7,132.1 L167.9,132.1 L167.2,132.6 L166.4,132.6 L165.7,132.4 L164.9,132.4 L164.2,132.3 L163.4,132.5 L162.7,132.7 L161.9,132.5 L161.2,132.4 L160.4,132.7 L159.7,132.4 L158.9,132.3 L158.2,133.0 L157.4,133.0 L156.7,132.5 L155.9,132.6 L155.2,133.0 L154.4,133.0 L153.7,132.9 L152.9,133.2 L152.2,133.1 L151.4,133.4 L150.7,133.1 L149.9,132.7 L149.2,132.9 L148.4,133.6 L147.7,133.2 L146.9,133.4 L146.2,133.7 L145.4,133.3 L144.7,133.9 L143.9,133.2 L143.2,133.4 L142.4,133.4 L141.7,133.5 L140.9,133.7 L140.2,133.2 L139.4,133.9 L138.7,133.5 L137.9,133.6 L137.2,133.9 L136.4,133.5 L135.7,133.8 L134.9,133.7 L134.2,134.0 L133.4,134.3 L132.7,134.4 L131.9,134.4 L131.2,134.0 L130.4,133.9 L129.7,134.4 L128.9,134.1 L128.2,134.7 L127.4,134.3 L126.7,134.6 L125.9,134.4 L125.2,134.8 L124.4,135.4 L123.7,135.1 L122.9,135.0 L122.2,135.7 L121.4,135.6 L120.7,135.8 L119.9,135.6 L119.2,135.7 L118.4,135.8 L117.7,136.1 L116.9,136.1 L116.2,136.0 L115.4,136.2 L114.7,136.5 L113.9,136.9 L113.2,136.7 L112.4,136.7 L111.7,137.2 L110.9,137.5 L110.2,137.9 L109.4,138.3 L108.7,138.4 L107.9,138.9 L107.2,139.5 L106.4,140.6 L105.7,141.4 L104.9,141.8 L104.2,142.4 L103.4,144.3 L102.7,144.8 L101.9,146.2 L101.2,147.4 L100.4,148.7 L99.7,150.8 L98.9,151.7 L98.2,152.2 L97.4,152.4 L96.7,152.6 L95.9,152.7 L95.2,153.4 L94.4,153.0 L93.7,153.7 L92.9,154.5 L92.2,155.1 L91.4,155.8 L90.7,157.2 L89.9,157.7Z" fill="#0a800a" fill-opacity="0.4"/>
<path d="M89.9,156.4 L90.7,155.8 L91.4,154.5 L92.2,153.6 L92.9,153.2 L93.7,152.5 L94.4,151.6 L95.2,151.9 L95.9,151.5 L96.7,151.3 L97.4,150.9 L98.2,150.8 L98.9,150.6 L99.7,149.3 L100.4,148.2 L101.2,147.0 L101.9,145.7 L102.7,144.5 L103.4,143.6 L104.2,142.0 L104.9,141.1 L105.7,140.7 L106.4,139.9 L107.2,139.3 L107.9,138.3 L108.7,137.9 L109.4,137.9 L110.2,137.4 L110.9,137.3 L111.7,136.8 L112.4,136.4 L113.2,136.4 L113.9,136.4 L114.7,136.2 L115.4,135.9 L116.2,135.7 L116.9,135.6 L117.7,135.4 L118.4,135.3 L119.2,135.4 L119.9,134.9 L120.7,135.0 L121.4,135.1 L122.2,134.9 L122.9,134.4 L123.7,134.8 L124.4,134.6 L125.2,134.1 L125.9,134.1 L126.7,134.0 L127.4,133.8 L128.2,134.3 L128.9,133.8 L129.7,134.0 L130.4,133.5 L131.2,133.4 L131.9,133.8 L132.7,133.7 L133.4,133.8 L134.2,133.5 L134.9,133.4 L135.7,133.5 L136.4,133.0 L137.2,133.2 L137.9,133.1 L138.7,132.9 L139.4,133.1 L140.2,132.9 L140.9,133.0 L141.7,132.9 L142.4,132.8 L143.2,132.8 L143.9,132.9 L144.7,133.1 L145.4,133.1 L146.2,133.0 L146.9,132.9 L147.7,132.6 L148.4,133.0 L149.2,132.5 L149.9,132.4 L150.7,132.6 L151.4,132.7 L152.2,132.4 L152.9,132.5 L153.7,132.3 L154.4,132.6 L155.2,132.3 L155.9,132.3 L156.7,132.2 L157.4,132.4 L158.2,132.4 L158.9,132.1 L159.7,132.0 L160.4,132.1 L161.2,131.8 L161.9,131.9 L162.7,132.2 L163.4,132.1 L164.2,131.7 L164.9,132.1 L165.7,131.8 L166.4,132.2 L167.2,131.8 L167.9,131.7 L168.7,131.9 L169.4,132.1 L170.2,131.8 L170.9,132.0 L171.7,131.9 L172.4,131.7 L173.2,131.7 L173.9,131.8 L174.7,131.7 L175.4,131.7 L176.2,131.9 L176.9,132.0 L177.7,131.8 L178.4,131.6 L179.2,131.6 L179.9,131.7 L180.7,131.8 L181.4,131.6 L182.2,131.5 L182.9,131.7 L183.7,131.7 L184.4,131.5 L185.2,131.8 L185.9,132.1 L186.7,131.8 L187.4,132.0 L188.2,132.1 L188.9,132.1 L189.7,132.2 L190.4,132.0 L191.2,132.2 L191.9,131.9 L192.7,132.4 L193.4,132.1 L194.2,132.2 L194.9,132.5 L195.7,132.2 L196.4,132.1 L197.2,132.5 L197.9,132.4 L198.7,132.0 L199.4,132.0 L200.2,132.1 L200.9,131.7 L201.7,132.0 L202.4,131.4 L203.2,131.0 L203.9,130.6 L204.7,129.9 L205.4,128.9 L206.2,127.7 L206.9,126.4 L207.7,125.0 L208.4,123.7 L209.2,123.4 L209.9,122.7 L210.7,122.0 L211.4,122.0 L212.2,122.0 L212.9,122.0 L213.7,121.2 L214.4,121.0 L215.2,121.2 L215.9,121.0 L216.7,121.1 L217.4,121.0 L218.2,120.5 L218.9,120.4 L219.7,120.4 L220.4,120.4 L221.2,119.9 L221.9,119.8 L222.7,119.5 L223.4,119.6 L224.2,119.1 L224.9,119.5 L225.7,119.1 L226.4,119.0 L227.2,118.5 L227.9,118.4 L228.7,118.4 L229.4,118.5 L230.2,118.2 L230.9,118.0 L231.7,118.3 L232.4,118.0 L233.2,117.8 L233.9,117.5 L234.7,117.5 L235.4,117.8 L236.2,117.3 L236.9,117.5 L237.7,117.5 L238.4,117.2 L239.2,117.4 L239.9,117.5 L240.7,117.4 L241.4,117.3 L242.2,116.9 L242.9,116.8 L243.7,117.0 L244.4,116.9 L245.2,116.8 L245.9,117.2 L246.7,116.8 L247.4,117.1 L248.2,117.1 L248.9,116.6 L249.7,117.1 L250.4,116.7 L251.2,116.6 L251.9,116.5 L252.7,116.4 L253.4,116.7 L254.2,116.6 L254.9,116.9 L255.7,116.8 L256.4,116.4 L257.1,116.5 L257.9,116.5 L258.6,116.4 L259.4,116.4 L260.1,116.4 L260.9,116.7 L261.6,116.4 L262.4,116.3 L263.1,116.3 L263.9,116.5 L264.6,116.5 L265.4,116.3 L266.1,116.6 L266.9,116.3 L267.6,116.5 L268.4,116.5 L269.1,116.2" fill="none" stroke="#0a800a" stroke-width="1.6" stroke-linejoin="round" stroke-linecap="round"/>
<path d="M125.1,152.8 L125.8,151.1 L126.6,150.0 L127.3,149.0 L128.1,148.4 L128.8,146.8 L129.6,145.8 L130.3,145.8 L131.1,144.8 L131.8,144.0 L132.6,143.2 L133.3,142.8 L134.1,141.2 L134.8,140.3 L135.6,140.0 L136.3,139.4 L137.1,139.1 L137.8,138.6 L138.6,138.5 L139.3,137.8 L140.1,137.8 L140.8,137.0 L141.6,136.8 L142.3,136.5 L143.1,136.5 L143.8,136.4 L144.6,136.2 L145.3,135.8 L146.1,135.3 L146.8,135.3 L147.6,135.2 L148.3,135.6 L149.1,134.8 L149.8,134.8 L150.6,134.8 L151.3,134.6 L152.1,134.2 L152.8,134.0 L153.6,134.1 L154.3,134.1 L155.1,133.9 L155.8,133.3 L156.6,133.8 L157.3,133.7 L158.1,133.8 L158.8,133.5 L159.6,133.3 L160.3,132.8 L161.1,133.2 L161.8,133.5 L162.6,133.2 L163.3,132.4 L164.1,133.0 L164.8,132.5 L165.6,132.6 L166.3,132.7 L167.1,132.2 L167.8,132.3 L168.6,132.3 L169.3,132.2 L170.1,132.3 L170.8,132.8 L171.6,132.4 L172.3,132.2 L173.1,131.9 L173.8,132.4 L174.6,132.5 L175.3,132.1 L176.1,132.0 L176.8,132.2 L177.6,132.1 L178.3,132.3 L179.1,132.0 L179.8,132.3 L180.6,132.2 L181.3,132.0 L182.1,132.4 L182.8,132.1 L183.6,132.1 L184.3,132.5 L185.1,132.0 L185.8,132.6 L186.6,132.0 L187.3,132.2 L188.1,132.1 L188.8,132.4 L189.6,132.7 L190.3,132.5 L191.1,132.1 L191.8,132.4 L192.6,132.1 L193.3,131.8 L194.1,132.5 L194.8,132.3 L195.6,132.7 L196.3,132.3 L197.1,132.1 L197.8,132.2 L198.6,131.3 L199.3,131.4 L200.1,130.2 L200.8,129.7 L201.6,130.0 L202.3,128.7 L203.1,128.7 L203.8,127.9 L204.6,127.4 L205.3,125.9 L206.1,124.4 L206.8,123.2 L207.6,121.5 L208.3,120.5 L209.1,119.5 L209.8,117.7 L210.6,117.5 L211.3,116.6 L212.1,116.4 L212.8,115.9 L213.6,115.4 L214.3,115.2 L215.1,114.8 L215.8,114.4 L216.6,114.4 L217.3,113.7 L218.1,113.3 L218.8,113.7 L219.6,112.8 L220.3,112.9 L221.1,112.5 L221.8,112.7 L222.6,112.6 L223.3,112.3 L224.1,111.9 L224.8,111.7 L225.6,111.9 L226.3,111.7 L227.1,111.5 L227.8,111.7 L228.6,111.5 L229.3,111.0 L230.1,111.6 L230.8,111.1 L231.6,111.1 L232.3,111.2 L233.1,110.6 L233.8,110.7 L234.6,110.6 L235.3,110.1 L236.1,110.3 L236.8,110.4 L237.6,110.4 L238.3,109.9 L239.1,110.2 L239.8,110.1 L240.6,109.8 L241.3,109.8 L242.1,109.8 L242.8,109.9 L243.6,109.6 L244.3,109.7 L245.1,109.1 L245.8,109.6 L246.6,109.8 L247.3,109.2 L248.1,109.4 L248.8,108.9 L249.6,109.3 L250.3,109.5 L251.1,109.3 L251.8,109.0 L252.6,109.2 L253.3,108.9 L254.1,109.1 L254.8,108.8 L255.6,108.9 L256.4,108.9 L257.1,108.9 L257.9,109.0 L258.6,108.5 L259.4,108.7 L260.1,108.8 L260.9,108.9 L261.6,108.8 L262.4,108.9 L263.1,108.7 L263.9,108.8 L264.6,108.8 L265.4,109.0 L266.1,108.3 L266.9,108.7 L267.6,108.3 L268.4,108.8 L269.1,108.2 L269.1,111.0 L268.4,110.8 L267.6,110.7 L266.9,111.3 L266.1,110.7 L265.4,110.9 L264.6,111.0 L263.9,111.5 L263.1,110.6 L262.4,111.3 L261.6,111.0 L260.9,111.2 L260.1,111.3 L259.4,111.2 L258.6,111.2 L257.9,111.8 L257.1,111.6 L256.4,111.2 L255.6,111.4 L254.8,111.7 L254.1,111.2 L253.3,111.2 L252.6,111.6 L251.8,111.3 L251.1,111.4 L250.3,111.9 L249.6,112.0 L248.8,111.6 L248.1,111.4 L247.3,111.8 L246.6,112.2 L245.8,111.8 L245.1,112.0 L244.3,112.1 L243.6,112.4 L242.8,111.8 L242.1,111.9 L241.3,112.3 L240.6,112.2 L239.8,112.9 L239.1,112.4 L238.3,112.6 L237.6,112.7 L236.8,112.8 L236.1,113.0 L235.3,112.9 L234.6,112.9 L233.8,112.9 L233.1,112.9 L232.3,113.3 L231.6,113.9 L230.8,113.9 L230.1,113.6 L229.3,113.4 L228.6,114.3 L227.8,114.1 L227.1,113.9 L226.3,114.5 L225.6,114.2 L224.8,114.5 L224.1,114.5 L223.3,114.7 L222.6,114.7 L221.8,114.7 L221.1,114.6 L220.3,115.7 L219.6,115.7 L218.8,115.5 L218.1,116.0 L217.3,116.3 L216.6,116.7 L215.8,117.0 L215.1,117.2 L214.3,117.5 L213.6,117.9 L212.8,118.5 L212.1,118.5 L211.3,119.0 L210.6,119.6 L209.8,120.1 L209.1,121.8 L208.3,122.7 L207.6,124.0 L206.8,125.5 L206.1,127.2 L205.3,128.6 L204.6,129.7 L203.8,130.1 L203.1,131.2 L202.3,131.1 L201.6,132.5 L200.8,132.5 L200.1,132.3 L199.3,132.0 L198.6,132.6 L197.8,133.1 L197.1,132.9 L196.3,132.9 L195.6,133.2 L194.8,133.2 L194.1,133.2 L193.3,132.8 L192.6,133.4 L191.8,132.7 L191.1,132.9 L190.3,132.9 L189.6,133.4 L188.8,133.3 L188.1,132.9 L187.3,132.7 L186.6,133.0 L185.8,133.6 L185.1,133.2 L184.3,133.5 L183.6,132.6 L182.8,133.0 L182.1,133.3 L181.3,133.0 L180.6,133.3 L179.8,133.3 L179.1,132.7 L178.3,133.0 L177.6,133.1 L176.8,133.1 L176.1,132.9 L175.3,133.0 L174.6,133.0 L173.8,132.9 L173.1,133.1 L172.3,133.3 L171.6,133.3 L170.8,133.7 L170.1,133.4 L169.3,133.6 L168.6,133.6 L167.8,133.3 L167.1,133.1 L166.3,133.6 L165.6,133.3 L164.8,133.7 L164.1,133.4 L163.3,133.6 L162.6,134.1 L161.8,134.0 L161.1,133.8 L160.3,133.7 L159.6,133.9 L158.8,134.2 L158.1,134.8 L157.3,134.5 L156.6,134.6 L155.8,134.2 L155.1,135.0 L154.3,134.7 L153.6,135.1 L152.8,135.3 L152.1,135.4 L151.3,135.7 L150.6,135.4 L149.8,135.9 L149.1,135.3 L148.3,136.0 L147.6,135.9 L146.8,136.5 L146.1,136.0 L145.3,136.9 L144.6,136.9 L143.8,136.9 L143.1,137.0 L142.3,137.3 L141.6,137.9 L140.8,137.9 L140.1,138.5 L139.3,138.6 L138.6,139.3 L137.8,139.4 L137.1,139.7 L136.3,140.4 L135.6,140.4 L134.8,141.2 L134.1,142.5 L133.3,143.3 L132.6,143.7 L131.8,144.6 L131.1,145.9 L130.3,146.3 L129.6,146.9 L128.8,148.0 L128.1,149.2 L127.3,150.2 L126.6,150.9 L125.8,152.1 L125.1,153.5Z" fill="#0000ff" fill-opacity="0.3"/>
<path d="M125.1,152.9 L125.8,151.6 L126.6,150.5 L127.3,149.6 L128.1,148.6 L128.8,147.5 L129.6,146.5 L130.3,146.2 L131.1,145.3 L131.8,144.4 L132.6,143.4 L133.3,142.9 L134.1,141.8 L134.8,141.0 L135.6,140.2 L136.3,139.8 L137.1,139.4 L137.8,138.9 L138.6,138.8 L139.3,138.3 L140.1,137.9 L140.8,137.7 L141.6,137.4 L142.3,137.1 L143.1,136.8 L143.8,136.6 L144.6,136.3 L145.3,136.3 L146.1,135.8 L146.8,136.0 L147.6,135.6 L148.3,135.8 L149.1,135.2 L149.8,135.3 L150.6,135.2 L151.3,135.2 L152.1,134.8 L152.8,134.7 L153.6,134.5 L154.3,134.6 L155.1,134.5 L155.8,134.0 L156.6,134.0 L157.3,133.9 L158.1,134.2 L158.8,133.8 L159.6,133.8 L160.3,133.5 L161.1,133.6 L161.8,133.6 L162.6,133.4 L163.3,132.9 L164.1,133.1 L164.8,133.1 L165.6,132.8 L166.3,133.2 L167.1,132.8 L167.8,132.8 L168.6,132.9 L169.3,132.9 L170.1,132.8 L170.8,133.0 L171.6,132.8 L172.3,132.7 L173.1,132.5 L173.8,132.8 L174.6,132.7 L175.3,132.8 L176.1,132.6 L176.8,132.4 L177.6,132.5 L178.3,132.5 L179.1,132.5 L179.8,132.9 L180.6,132.7 L181.3,132.5 L182.1,132.8 L182.8,132.7 L183.6,132.4 L184.3,132.8 L185.1,132.5 L185.8,132.9 L186.6,132.4 L187.3,132.5 L188.1,132.5 L188.8,132.8 L189.6,132.8 L190.3,132.7 L191.1,132.4 L191.8,132.6 L192.6,132.7 L193.3,132.3 L194.1,132.8 L194.8,132.8 L195.6,132.8 L196.3,132.6 L197.1,132.4 L197.8,132.5 L198.6,131.9 L199.3,131.7 L200.1,131.4 L200.8,131.1 L201.6,131.0 L202.3,130.2 L203.1,130.0 L203.8,129.0 L204.6,128.4 L205.3,127.2 L206.1,125.9 L206.8,124.6 L207.6,122.7 L208.3,121.6 L209.1,120.4 L209.8,119.2 L210.6,118.4 L211.3,118.0 L212.1,117.5 L212.8,117.2 L213.6,116.6 L214.3,116.1 L215.1,115.9 L215.8,115.7 L216.6,115.5 L217.3,114.9 L218.1,114.7 L218.8,114.6 L219.6,114.2 L220.3,114.3 L221.1,113.6 L221.8,113.8 L222.6,113.6 L223.3,113.2 L224.1,113.3 L224.8,113.1 L225.6,113.3 L226.3,113.1 L227.1,112.8 L227.8,112.9 L228.6,112.8 L229.3,112.3 L230.1,112.6 L230.8,112.5 L231.6,112.5 L232.3,112.2 L233.1,111.9 L233.8,111.7 L234.6,111.9 L235.3,111.5 L236.1,111.7 L236.8,111.5 L237.6,111.6 L238.3,111.2 L239.1,111.1 L239.8,111.4 L240.6,111.2 L241.3,110.9 L242.1,111.0 L242.8,110.8 L243.6,110.9 L244.3,110.7 L245.1,110.5 L245.8,110.9 L246.6,110.8 L247.3,110.7 L248.1,110.3 L248.8,110.2 L249.6,110.5 L250.3,110.5 L251.1,110.4 L251.8,110.1 L252.6,110.4 L253.3,110.2 L254.1,110.1 L254.8,110.2 L255.6,110.1 L256.4,110.2 L257.1,110.2 L257.9,110.4 L258.6,109.8 L259.4,110.1 L260.1,110.3 L260.9,110.1 L261.6,110.0 L262.4,110.2 L263.1,109.7 L263.9,110.1 L264.6,110.0 L265.4,109.9 L266.1,109.8 L266.9,109.9 L267.6,109.6 L268.4,109.8 L269.1,109.7" fill="none" stroke="#0000ff" stroke-width="1.6" stroke-linejoin="round" stroke-linecap="round"/>
<path d="M158.3,225.0 L159.1,224.0 L159.8,222.5 L160.6,221.4 L161.3,220.1 L162.1,218.2 L162.8,216.4 L163.6,215.0 L164.3,213.5 L165.1,211.7 L165.8,210.5 L166.6,209.2 L167.3,208.1 L168.1,206.9 L168.8,206.2 L169.6,205.2 L170.3,204.9 L171.1,203.9 L171.8,203.2 L172.6,202.6 L173.3,202.1 L174.1,201.7 L174.8,201.6 L175.6,200.7 L176.3,200.2 L177.1,199.9 L177.8,199.4 L178.6,198.7 L179.3,197.8 L180.1,197.4 L180.8,197.0 L181.6,196.4 L182.3,196.1 L183.1,195.6 L183.8,195.2 L184.6,195.1 L185.3,194.6 L186.1,194.1 L186.8,193.6 L187.6,193.2 L188.3,192.8 L189.1,191.9 L189.8,192.0 L190.6,191.3 L191.3,190.9 L192.1,190.9 L192.8,190.4 L193.6,189.7 L194.3,189.1 L195.1,189.2 L195.8,189.4 L196.6,190.0 L197.3,190.9 L198.1,192.7 L198.8,194.3 L199.6,196.4 L200.3,198.2 L201.1,199.8 L201.8,201.8 L202.6,203.0 L203.3,204.3 L204.1,205.9 L204.8,207.3 L205.6,208.9 L206.3,210.5 L207.1,211.7 L207.8,212.5 L208.6,212.8 L209.3,212.7 L210.1,211.4 L210.8,209.3 L211.6,207.4 L212.3,205.8 L213.1,204.9 L213.8,203.9 L214.6,203.1 L215.3,202.5 L216.1,201.6 L216.8,201.1 L217.6,200.4 L218.3,200.0 L219.1,199.6 L219.8,198.7 L220.6,198.5 L221.3,198.0 L222.1,197.4 L222.8,197.0 L223.6,196.9 L224.3,196.2 L225.1,195.7 L225.8,195.3 L226.6,195.1 L227.3,194.6 L228.1,194.2 L228.8,193.9 L229.6,193.5 L230.3,193.4 L231.1,193.1 L231.8,192.5 L232.6,192.6 L233.3,192.1 L234.1,192.3 L234.8,192.0 L235.6,191.3 L236.3,191.4 L237.1,191.0 L237.8,190.7 L238.6,190.9 L239.3,190.7 L240.1,190.5 L240.8,190.2 L241.6,190.2 L242.3,189.8 L243.1,189.7 L243.8,189.5 L244.6,189.4 L245.3,189.3 L246.1,188.8 L246.8,188.6 L247.6,188.7 L248.3,188.6 L249.1,188.3 L249.8,188.5 L250.6,188.4 L251.3,188.3 L252.1,188.1 L252.8,188.1 L253.6,187.7" fill="none" stroke="#000000" stroke-width="1.6" stroke-linejoin="round" stroke-linecap="round"/>
<path d="M63.5,225.7 L64.2,224.4 L65.0,224.6 L65.8,223.7 L66.5,222.6 L67.2,222.1 L68.0,221.9 L68.8,221.0 L69.5,220.7 L70.2,218.6 L71.0,218.3 L71.8,216.0 L72.5,215.1 L73.2,213.6 L74.0,212.4 L74.8,210.8 L75.5,209.3 L76.2,207.9 L77.0,206.3 L77.8,205.3 L78.5,205.3 L79.2,203.8 L80.0,202.8 L80.8,202.8 L81.5,201.5 L82.2,201.0 L83.0,199.8 L83.8,199.8 L84.5,198.7 L85.2,198.3 L86.0,197.2 L86.8,197.7 L87.5,196.9 L88.2,196.5 L89.0,196.1 L89.8,196.0 L90.5,195.4 L91.2,194.9 L92.0,194.6 L92.8,194.8 L93.5,194.3 L94.2,193.5 L95.0,193.7 L95.8,193.5 L96.5,192.8 L97.2,192.7 L98.0,193.0 L98.8,192.5 L99.5,191.8 L100.2,191.7 L101.0,191.6 L101.8,190.9 L102.5,191.2 L103.2,191.0 L104.0,190.9 L104.8,190.7 L105.5,190.3 L106.2,190.1 L107.0,190.2 L107.8,189.9 L108.5,190.0 L109.2,189.2 L110.0,189.6 L110.8,189.5 L111.5,189.8 L112.2,189.6 L113.0,189.8 L113.8,189.9 L114.5,189.3 L115.2,189.3 L116.0,189.4 L116.8,189.4 L117.5,189.7 L118.2,189.2 L119.0,189.3 L119.8,189.4 L120.5,189.6 L121.2,188.9 L122.0,188.7 L122.8,188.5 L123.5,188.6 L124.2,188.5 L125.0,188.6 L125.8,188.5 L126.5,188.7 L127.2,188.6 L128.0,188.7 L128.8,188.4 L129.5,188.3 L130.2,189.0 L131.0,188.2 L131.8,188.3 L132.5,187.9 L133.2,188.7 L134.0,188.4 L134.8,188.5 L135.5,188.4 L136.2,187.7 L137.0,188.2 L137.8,187.7 L138.5,188.4 L139.2,188.0 L140.0,188.4 L140.8,187.7 L141.5,187.6 L142.2,187.5 L143.0,188.2 L143.8,187.7 L144.5,187.4 L145.2,187.8 L146.0,187.9 L146.8,187.6 L147.5,188.2 L148.2,187.8 L149.0,187.9 L149.8,188.3 L150.5,187.5 L151.2,188.1 L152.0,187.9 L152.8,187.8 L153.5,187.5 L154.2,187.2 L155.0,188.0 L155.8,188.0 L156.5,187.9 L157.2,187.6 L158.0,187.9 L158.8,187.1 L159.5,187.5 L160.2,188.0 L161.0,187.4 L161.8,187.7 L162.5,187.9 L163.2,188.2 L164.0,188.0 L164.8,187.8 L165.5,188.4 L166.2,188.5 L167.0,188.1 L167.8,188.2 L168.5,188.3 L169.2,188.2 L170.0,188.4 L170.8,188.7 L171.5,188.1 L172.2,188.7 L173.0,188.5 L173.8,189.1 L174.5,189.3 L175.2,188.6 L176.0,188.6 L176.8,189.4 L177.5,189.4 L178.2,189.6 L179.0,189.3 L179.8,189.7 L180.5,190.0 L181.2,190.2 L182.0,190.7 L182.8,190.4 L183.5,191.1 L184.2,191.2 L185.0,190.9 L185.8,191.1 L186.5,191.5 L187.2,191.8 L188.0,191.4 L188.8,191.5 L189.5,191.4 L190.2,191.6 L191.0,191.0 L191.8,191.5 L192.5,191.8 L193.2,191.1 L194.0,191.3 L194.8,190.3 L195.5,190.2 L196.2,190.1 L197.0,191.1 L197.8,192.7 L198.5,195.5 L199.2,197.5 L200.0,197.9 L200.8,199.6 L201.5,202.0 L202.2,203.7 L203.0,206.0 L203.8,207.7 L204.5,209.3 L205.2,212.0 L206.0,213.4 L206.8,214.8 L207.5,216.4 L208.2,217.6 L209.0,218.8 L209.8,218.7 L210.5,218.3 L211.2,216.8 L212.0,215.6 L212.8,215.0 L213.5,214.5 L214.2,214.3 L215.0,213.9 L215.8,213.4 L216.5,212.9 L217.2,212.8 L218.0,213.5 L218.8,212.9 L219.5,212.3 L220.2,212.6 L221.0,213.2 L221.8,212.9 L222.5,212.9 L223.2,213.1 L224.0,212.8 L224.8,212.4 L225.5,213.2 L226.2,213.1 L227.0,213.3 L227.8,213.0 L228.5,213.5 L229.2,213.1 L230.0,213.3 L230.8,212.9 L231.5,213.0 L232.2,212.8 L233.0,213.4 L233.8,213.2 L234.5,213.4 L235.2,213.8 L236.0,213.4 L236.8,213.6 L237.5,213.8 L238.2,213.7 L239.0,213.0 L239.8,213.4 L240.5,213.1 L241.2,213.2 L242.0,213.3 L242.8,213.0 L243.5,213.3 L244.2,212.6 L245.0,213.3 L245.8,212.6 L246.5,212.9 L247.2,212.5 L248.0,213.1 L248.8,212.8 L249.5,212.9 L250.2,212.8 L251.0,212.2 L251.8,212.5 L252.5,212.3 L253.2,212.4 L254.0,212.4 L254.8,212.5 L255.5,212.4 L256.2,211.7 L257.0,212.4 L257.8,212.7 L258.5,212.5 L259.2,211.9 L260.0,211.6 L260.8,211.9 L261.5,211.8 L262.2,211.5 L263.0,211.8 L263.8,211.4 L264.5,211.7 L265.2,211.6 L266.0,211.5 L266.8,211.3 L267.5,211.3 L268.2,210.8 L269.0,211.5 L269.0,217.2 L268.2,216.6 L267.5,217.2 L266.8,217.3 L266.0,217.1 L265.2,217.7 L264.5,217.4 L263.8,217.5 L263.0,218.0 L262.2,217.2 L261.5,217.6 L260.8,217.6 L260.0,217.4 L259.2,217.9 L258.5,218.4 L257.8,218.1 L257.0,217.8 L256.2,217.7 L255.5,218.4 L254.8,218.8 L254.0,218.2 L253.2,218.1 L252.5,218.4 L251.8,218.6 L251.0,218.6 L250.2,218.3 L249.5,218.8 L248.8,218.2 L248.0,218.8 L247.2,218.7 L246.5,218.7 L245.8,218.4 L245.0,218.8 L244.2,218.8 L243.5,219.1 L242.8,218.6 L242.0,219.2 L241.2,219.2 L240.5,219.0 L239.8,219.0 L239.0,218.9 L238.2,219.4 L237.5,219.2 L236.8,219.7 L236.0,219.2 L235.2,219.7 L234.5,219.0 L233.8,219.1 L233.0,219.6 L232.2,218.9 L231.5,218.8 L230.8,218.6 L230.0,219.0 L229.2,219.1 L228.5,218.9 L227.8,219.2 L227.0,218.8 L226.2,218.7 L225.5,219.0 L224.8,218.2 L224.0,218.9 L223.2,218.7 L222.5,218.7 L221.8,218.6 L221.0,218.7 L220.2,218.1 L219.5,218.3 L218.8,218.6 L218.0,219.4 L217.2,218.8 L216.5,218.8 L215.8,219.2 L215.0,219.9 L214.2,219.9 L213.5,220.1 L212.8,220.5 L212.0,221.5 L211.2,222.5 L210.5,224.1 L209.8,224.4 L209.0,224.5 L208.2,223.3 L207.5,222.0 L206.8,220.6 L206.0,219.2 L205.2,217.7 L204.5,215.2 L203.8,213.9 L203.0,211.8 L202.2,210.0 L201.5,207.8 L200.8,205.5 L200.0,203.8 L199.2,199.4 L198.5,197.3 L197.8,194.9 L197.0,193.1 L196.2,192.7 L195.5,192.2 L194.8,192.4 L194.0,193.5 L193.2,193.0 L192.5,194.2 L191.8,193.8 L191.0,193.1 L190.2,193.4 L189.5,193.6 L188.8,193.2 L188.0,193.5 L187.2,193.5 L186.5,193.7 L185.8,193.0 L185.0,193.3 L184.2,193.2 L183.5,193.1 L182.8,192.4 L182.0,192.5 L181.2,192.0 L180.5,191.9 L179.8,191.7 L179.0,191.6 L178.2,191.5 L177.5,191.0 L176.8,191.1 L176.0,190.7 L175.2,190.4 L174.5,191.2 L173.8,190.8 L173.0,190.3 L172.2,190.6 L171.5,190.6 L170.8,190.8 L170.0,190.2 L169.2,190.7 L168.5,190.1 L167.8,190.2 L167.0,190.1 L166.2,190.5 L165.5,190.1 L164.8,189.5 L164.0,189.5 L163.2,190.1 L162.5,190.1 L161.8,189.9 L161.0,189.3 L160.2,190.0 L159.5,189.8 L158.8,189.3 L158.0,189.8 L157.2,190.0 L156.5,190.0 L155.8,190.2 L155.0,189.7 L154.2,189.4 L153.5,189.4 L152.8,189.5 L152.0,189.9 L151.2,190.2 L150.5,189.5 L149.8,190.2 L149.0,190.0 L148.2,190.3 L147.5,189.7 L146.8,189.5 L146.0,189.9 L145.2,190.0 L144.5,189.8 L143.8,190.0 L143.0,189.9 L142.2,189.7 L141.5,189.8 L140.8,189.8 L140.0,190.1 L139.2,190.2 L138.5,190.2 L137.8,189.9 L137.0,190.2 L136.2,189.9 L135.5,190.5 L134.8,190.3 L134.0,190.4 L133.2,190.5 L132.5,189.9 L131.8,190.1 L131.0,190.0 L130.2,191.1 L129.5,190.8 L128.8,190.4 L128.0,190.7 L127.2,190.1 L126.5,190.2 L125.8,190.7 L125.0,190.9 L124.2,190.6 L123.5,190.6 L122.8,190.7 L122.0,190.5 L121.2,191.1 L120.5,191.5 L119.8,191.3 L119.0,191.4 L118.2,191.2 L117.5,191.7 L116.8,191.4 L116.0,191.6 L115.2,191.1 L114.5,191.3 L113.8,191.4 L113.0,192.0 L112.2,191.9 L111.5,191.7 L110.8,191.3 L110.0,191.2 L109.2,191.6 L108.5,192.0 L107.8,192.4 L107.0,192.4 L106.2,192.1 L105.5,192.2 L104.8,192.7 L104.0,193.0 L103.2,193.0 L102.5,193.4 L101.8,193.1 L101.0,193.7 L100.2,193.8 L99.5,193.4 L98.8,194.2 L98.0,194.7 L97.2,194.2 L96.5,194.9 L95.8,195.5 L95.0,195.4 L94.2,195.3 L93.5,196.3 L92.8,196.5 L92.0,196.5 L91.2,197.2 L90.5,197.4 L89.8,198.0 L89.0,198.0 L88.2,198.8 L87.5,199.0 L86.8,199.6 L86.0,199.4 L85.2,200.6 L84.5,200.4 L83.8,201.3 L83.0,202.1 L82.2,202.8 L81.5,203.5 L80.8,204.5 L80.0,204.8 L79.2,205.5 L78.5,207.3 L77.8,207.3 L77.0,208.4 L76.2,210.0 L75.5,211.1 L74.8,213.0 L74.0,214.5 L73.2,215.4 L72.5,216.8 L71.8,218.0 L71.0,219.8 L70.2,220.7 L69.5,222.7 L68.8,223.3 L68.0,223.9 L67.2,224.0 L66.5,224.8 L65.8,226.0 L65.0,226.6 L64.2,226.3 L63.5,227.9Z" fill="#ff0000" fill-opacity="0.35"/>
<path d="M63.5,226.6 L64.2,225.5 L65.0,225.6 L65.8,224.7 L66.5,223.8 L67.2,223.2 L68.0,222.9 L68.8,222.1 L69.5,221.4 L70.2,219.7 L71.0,219.0 L71.8,217.2 L72.5,215.8 L73.2,214.6 L74.0,213.2 L74.8,211.7 L75.5,210.3 L76.2,209.1 L77.0,207.5 L77.8,206.6 L78.5,206.1 L79.2,204.6 L80.0,203.8 L80.8,203.6 L81.5,202.5 L82.2,201.8 L83.0,201.1 L83.8,200.5 L84.5,199.6 L85.2,199.5 L86.0,198.4 L86.8,198.6 L87.5,197.8 L88.2,197.6 L89.0,196.9 L89.8,196.9 L90.5,196.2 L91.2,196.1 L92.0,195.5 L92.8,195.6 L93.5,195.2 L94.2,194.5 L95.0,194.6 L95.8,194.5 L96.5,193.7 L97.2,193.4 L98.0,193.7 L98.8,193.5 L99.5,192.6 L100.2,192.9 L101.0,192.8 L101.8,192.1 L102.5,192.3 L103.2,191.7 L104.0,191.9 L104.8,191.5 L105.5,191.4 L106.2,191.0 L107.0,191.3 L107.8,191.2 L108.5,190.8 L109.2,190.5 L110.0,190.4 L110.8,190.5 L111.5,191.0 L112.2,190.7 L113.0,190.8 L113.8,190.6 L114.5,190.1 L115.2,190.2 L116.0,190.6 L116.8,190.5 L117.5,190.6 L118.2,190.4 L119.0,190.3 L119.8,190.3 L120.5,190.3 L121.2,189.9 L122.0,189.6 L122.8,189.7 L123.5,189.5 L124.2,189.6 L125.0,189.8 L125.8,189.5 L126.5,189.5 L127.2,189.3 L128.0,189.5 L128.8,189.5 L129.5,189.6 L130.2,189.8 L131.0,189.1 L131.8,189.2 L132.5,189.0 L133.2,189.6 L134.0,189.4 L134.8,189.3 L135.5,189.4 L136.2,188.7 L137.0,189.4 L137.8,188.9 L138.5,189.2 L139.2,189.0 L140.0,189.2 L140.8,188.8 L141.5,188.8 L142.2,188.7 L143.0,189.1 L143.8,188.9 L144.5,188.6 L145.2,188.7 L146.0,188.9 L146.8,188.7 L147.5,188.9 L148.2,189.1 L149.0,188.9 L149.8,189.0 L150.5,188.6 L151.2,189.1 L152.0,189.1 L152.8,188.8 L153.5,188.4 L154.2,188.4 L155.0,188.9 L155.8,189.0 L156.5,188.9 L157.2,188.7 L158.0,188.8 L158.8,188.4 L159.5,188.8 L160.2,189.2 L161.0,188.5 L161.8,188.9 L162.5,189.1 L163.2,189.0 L164.0,188.8 L164.8,188.7 L165.5,189.1 L166.2,189.3 L167.0,189.4 L167.8,189.0 L168.5,189.4 L169.2,189.5 L170.0,189.2 L170.8,189.6 L171.5,189.4 L172.2,189.4 L173.0,189.3 L173.8,190.0 L174.5,190.1 L175.2,189.7 L176.0,189.8 L176.8,190.1 L177.5,190.2 L178.2,190.7 L179.0,190.4 L179.8,190.8 L180.5,190.9 L181.2,190.9 L182.0,191.5 L182.8,191.5 L183.5,191.8 L184.2,192.2 L185.0,192.1 L185.8,192.0 L186.5,192.7 L187.2,192.6 L188.0,192.5 L188.8,192.5 L189.5,192.7 L190.2,192.4 L191.0,192.3 L191.8,192.7 L192.5,192.9 L193.2,192.2 L194.0,192.6 L194.8,191.3 L195.5,191.1 L196.2,191.4 L197.0,192.2 L197.8,193.9 L198.5,196.4 L199.2,198.7 L200.0,200.7 L200.8,202.7 L201.5,204.7 L202.2,206.9 L203.0,208.8 L203.8,210.7 L204.5,212.2 L205.2,214.6 L206.0,216.5 L206.8,217.9 L207.5,219.0 L208.2,220.5 L209.0,221.7 L209.8,221.5 L210.5,221.0 L211.2,219.4 L212.0,218.7 L212.8,217.7 L213.5,217.4 L214.2,217.1 L215.0,216.8 L215.8,216.6 L216.5,215.9 L217.2,216.0 L218.0,216.3 L218.8,215.5 L219.5,215.5 L220.2,215.5 L221.0,215.9 L221.8,215.6 L222.5,215.9 L223.2,216.0 L224.0,216.0 L224.8,215.4 L225.5,216.0 L226.2,216.1 L227.0,216.0 L227.8,216.2 L228.5,216.1 L229.2,216.0 L230.0,216.2 L230.8,216.0 L231.5,215.7 L232.2,215.9 L233.0,216.5 L233.8,216.1 L234.5,216.3 L235.2,216.7 L236.0,216.5 L236.8,216.6 L237.5,216.4 L238.2,216.4 L239.0,216.0 L239.8,216.1 L240.5,216.0 L241.2,216.3 L242.0,216.2 L242.8,215.8 L243.5,216.2 L244.2,215.7 L245.0,215.9 L245.8,215.5 L246.5,215.9 L247.2,215.5 L248.0,216.1 L248.8,215.6 L249.5,215.9 L250.2,215.5 L251.0,215.4 L251.8,215.7 L252.5,215.2 L253.2,215.3 L254.0,215.4 L254.8,215.6 L255.5,215.3 L256.2,214.7 L257.0,215.0 L257.8,215.4 L258.5,215.2 L259.2,214.8 L260.0,214.5 L260.8,214.6 L261.5,214.9 L262.2,214.4 L263.0,214.9 L263.8,214.4 L264.5,214.6 L265.2,214.6 L266.0,214.2 L266.8,214.3 L267.5,214.4 L268.2,214.0 L269.0,214.2" fill="none" stroke="#ff0000" stroke-width="1.6" stroke-linejoin="round" stroke-linecap="round"/>
<path d="M89.0,224.4 L89.8,224.9 L90.5,224.2 L91.2,225.0 L92.0,224.5 L92.8,224.3 L93.5,224.2 L94.2,224.4 L95.0,224.3 L95.8,224.0 L96.5,223.9 L97.2,223.8 L98.0,224.8 L98.8,224.1 L99.5,224.1 L100.2,224.4 L101.0,223.8 L101.8,222.9 L102.5,221.2 L103.2,216.9 L104.0,214.1 L104.8,211.4 L105.5,208.6 L106.2,206.6 L107.0,203.9 L107.8,203.5 L108.5,202.5 L109.2,201.2 L110.0,201.4 L110.8,200.0 L111.5,200.2 L112.2,198.8 L113.0,198.8 L113.8,198.7 L114.5,198.4 L115.2,198.0 L116.0,197.5 L116.8,196.5 L117.5,196.9 L118.2,196.3 L119.0,196.8 L119.8,196.1 L120.5,196.0 L121.2,195.6 L122.0,196.0 L122.8,195.1 L123.5,195.2 L124.2,194.8 L125.0,194.9 L125.8,194.6 L126.5,194.6 L127.2,194.5 L128.0,194.0 L128.8,193.8 L129.5,194.3 L130.2,194.0 L131.0,193.7 L131.8,193.5 L132.5,193.3 L133.2,193.7 L134.0,193.4 L134.8,192.9 L135.5,192.8 L136.2,192.8 L137.0,192.7 L137.8,192.1 L138.5,192.4 L139.2,192.5 L140.0,192.3 L140.8,191.9 L141.5,191.8 L142.2,191.4 L143.0,191.4 L143.8,191.6 L144.5,191.7 L145.2,191.4 L146.0,190.9 L146.8,190.9 L147.5,190.9 L148.2,191.3 L149.0,190.9 L149.8,190.5 L150.5,191.4 L151.2,190.8 L152.0,190.7 L152.8,191.1 L153.5,190.5 L154.2,190.7 L155.0,190.7 L155.8,190.5 L156.5,190.9 L157.2,190.2 L158.0,190.4 L158.8,190.2 L159.5,190.6 L160.2,190.4 L161.0,190.3 L161.8,190.1 L162.5,190.6 L163.2,190.1 L164.0,190.3 L164.8,190.4 L165.5,190.1 L166.2,190.2 L167.0,190.2 L167.8,189.5 L168.5,190.5 L169.2,189.8 L170.0,189.8 L170.8,189.9 L171.5,189.6 L172.2,189.8 L173.0,189.6 L173.8,189.8 L174.5,189.5 L175.2,189.5 L176.0,189.8 L176.8,189.2 L177.5,189.9 L178.2,189.0 L179.0,189.3 L179.8,189.6 L180.5,189.3 L181.2,189.9 L182.0,189.6 L182.8,189.3 L183.5,189.1 L184.2,189.7 L185.0,189.4 L185.8,189.1 L186.5,189.0 L187.2,189.0 L188.0,188.8 L188.8,188.7 L189.5,188.5 L190.2,188.5 L191.0,187.5 L191.8,187.4 L192.5,187.7 L193.2,187.7 L194.0,186.9 L194.8,187.2 L195.5,187.5 L196.2,188.4 L197.0,188.7 L197.8,189.5 L198.5,191.2 L199.2,193.3 L200.0,193.0 L200.8,195.6 L201.5,198.1 L202.2,199.6 L203.0,201.4 L203.8,203.1 L204.5,205.5 L205.2,206.5 L206.0,208.4 L206.8,209.8 L207.5,211.4 L208.2,211.9 L209.0,212.1 L209.8,212.3 L210.5,211.3 L211.2,209.1 L212.0,208.4 L212.8,207.6 L213.5,206.7 L214.2,206.4 L215.0,206.1 L215.8,206.1 L216.5,205.2 L217.2,205.0 L218.0,204.9 L218.8,204.4 L219.5,204.3 L220.2,203.7 L221.0,204.0 L221.8,203.5 L222.5,202.8 L223.2,202.2 L224.0,202.5 L224.8,202.0 L225.5,202.2 L226.2,201.7 L227.0,201.4 L227.8,201.6 L228.5,200.7 L229.2,201.0 L230.0,201.2 L230.8,200.5 L231.5,200.0 L232.2,200.2 L233.0,200.2 L233.8,199.4 L234.5,199.3 L235.2,199.6 L236.0,198.8 L236.8,198.8 L237.5,199.0 L238.2,198.3 L239.0,198.1 L239.8,198.6 L240.5,197.8 L241.2,198.2 L242.0,197.7 L242.8,197.6 L243.5,197.8 L244.2,197.7 L245.0,198.0 L245.8,197.9 L246.5,197.0 L247.2,197.3 L248.0,197.5 L248.8,197.5 L249.5,196.9 L250.2,196.9 L251.0,196.8 L251.8,197.0 L252.5,197.1 L253.2,197.0 L254.0,196.4 L254.8,196.5 L255.5,196.4 L256.2,196.7 L257.0,197.1 L257.8,196.7 L258.5,196.8 L259.2,196.3 L260.0,196.6 L260.8,196.7 L261.5,196.1 L262.2,196.6 L263.0,196.5 L263.8,196.5 L264.5,196.5 L265.2,196.5 L266.0,196.5 L266.8,196.2 L267.5,196.4 L268.2,196.4 L269.0,196.5 L269.0,203.5 L268.2,203.8 L267.5,203.7 L266.8,203.4 L266.0,203.3 L265.2,204.1 L264.5,203.5 L263.8,203.4 L263.0,203.7 L262.2,204.1 L261.5,203.5 L260.8,204.0 L260.0,204.0 L259.2,203.7 L258.5,203.6 L257.8,203.8 L257.0,204.2 L256.2,204.1 L255.5,203.9 L254.8,203.8 L254.0,204.1 L253.2,204.0 L252.5,204.0 L251.8,204.5 L251.0,203.9 L250.2,204.1 L249.5,204.5 L248.8,204.6 L248.0,204.7 L247.2,204.3 L246.5,204.2 L245.8,205.0 L245.0,204.8 L244.2,204.7 L243.5,205.0 L242.8,205.1 L242.0,205.1 L241.2,205.3 L240.5,205.0 L239.8,205.8 L239.0,205.8 L238.2,205.7 L237.5,206.3 L236.8,206.0 L236.0,206.5 L235.2,206.4 L234.5,206.5 L233.8,206.9 L233.0,207.4 L232.2,207.3 L231.5,207.3 L230.8,207.5 L230.0,208.1 L229.2,208.2 L228.5,207.9 L227.8,208.4 L227.0,208.9 L226.2,208.8 L225.5,209.3 L224.8,209.7 L224.0,209.3 L223.2,209.9 L222.5,210.1 L221.8,210.7 L221.0,211.1 L220.2,210.9 L219.5,211.6 L218.8,211.4 L218.0,212.0 L217.2,211.9 L216.5,212.3 L215.8,212.9 L215.0,213.1 L214.2,213.8 L213.5,213.9 L212.8,214.8 L212.0,215.5 L211.2,216.6 L210.5,218.5 L209.8,219.6 L209.0,219.8 L208.2,218.8 L207.5,218.5 L206.8,216.8 L206.0,215.4 L205.2,214.0 L204.5,212.5 L203.8,210.5 L203.0,208.5 L202.2,206.5 L201.5,205.5 L200.8,202.5 L200.0,199.9 L199.2,194.7 L198.5,192.6 L197.8,190.9 L197.0,190.3 L196.2,189.3 L195.5,188.8 L194.8,188.5 L194.0,188.1 L193.2,188.8 L192.5,188.7 L191.8,188.7 L191.0,188.7 L190.2,189.4 L189.5,189.6 L188.8,190.4 L188.0,189.8 L187.2,190.2 L186.5,190.4 L185.8,190.3 L185.0,190.2 L184.2,190.8 L183.5,190.5 L182.8,190.4 L182.0,190.8 L181.2,191.1 L180.5,190.2 L179.8,190.6 L179.0,190.8 L178.2,190.7 L177.5,191.2 L176.8,190.7 L176.0,190.6 L175.2,190.8 L174.5,191.1 L173.8,191.4 L173.0,190.7 L172.2,190.8 L171.5,190.9 L170.8,190.8 L170.0,191.3 L169.2,190.7 L168.5,191.2 L167.8,191.1 L167.0,191.4 L166.2,191.7 L165.5,191.4 L164.8,191.5 L164.0,191.5 L163.2,191.4 L162.5,191.4 L161.8,191.0 L161.0,191.8 L160.2,191.6 L159.5,191.7 L158.8,191.8 L158.0,191.9 L157.2,191.4 L156.5,191.8 L155.8,191.8 L155.0,192.0 L154.2,192.4 L153.5,192.1 L152.8,192.1 L152.0,191.7 L151.2,191.8 L150.5,192.6 L149.8,191.7 L149.0,192.1 L148.2,192.7 L147.5,192.1 L146.8,192.4 L146.0,192.5 L145.2,192.5 L144.5,192.9 L143.8,192.7 L143.0,192.5 L142.2,192.6 L141.5,193.1 L140.8,193.0 L140.0,193.1 L139.2,193.2 L138.5,193.6 L137.8,193.4 L137.0,193.8 L136.2,194.3 L135.5,193.9 L134.8,194.2 L134.0,194.4 L133.2,194.5 L132.5,194.8 L131.8,194.9 L131.0,194.8 L130.2,195.3 L129.5,195.5 L128.8,195.0 L128.0,195.4 L127.2,195.6 L126.5,195.7 L125.8,195.8 L125.0,196.0 L124.2,196.3 L123.5,195.9 L122.8,196.3 L122.0,196.9 L121.2,196.6 L120.5,197.3 L119.8,197.2 L119.0,197.6 L118.2,197.3 L117.5,198.0 L116.8,197.8 L116.0,198.8 L115.2,199.0 L114.5,199.6 L113.8,199.8 L113.0,199.9 L112.2,200.3 L111.5,201.8 L110.8,201.5 L110.0,202.5 L109.2,203.5 L108.5,204.1 L107.8,205.6 L107.0,206.3 L106.2,208.5 L105.5,211.0 L104.8,213.8 L104.0,216.0 L103.2,219.3 L102.5,223.1 L101.8,225.2 L101.0,225.7 L100.2,226.2 L99.5,226.4 L98.8,226.4 L98.0,226.7 L97.2,226.3 L96.5,225.8 L95.8,225.8 L95.0,226.3 L94.2,226.1 L93.5,226.4 L92.8,226.7 L92.0,226.5 L91.2,226.7 L90.5,226.6 L89.8,226.9 L89.0,226.6Z" fill="#0a800a" fill-opacity="0.4"/>
<path d="M89.0,225.7 L89.8,225.9 L90.5,225.4 L91.2,225.9 L92.0,225.6 L92.8,225.6 L93.5,225.3 L94.2,225.2 L95.0,225.4 L95.8,225.1 L96.5,224.9 L97.2,225.1 L98.0,225.7 L98.8,225.3 L99.5,225.1 L100.2,225.4 L101.0,224.7 L101.8,224.0 L102.5,222.3 L103.2,218.2 L104.0,215.2 L104.8,212.7 L105.5,209.8 L106.2,207.4 L107.0,205.0 L107.8,204.4 L108.5,203.3 L109.2,202.2 L110.0,202.1 L110.8,200.9 L111.5,200.9 L112.2,199.7 L113.0,199.3 L113.8,199.1 L114.5,198.8 L115.2,198.3 L116.0,198.1 L116.8,197.3 L117.5,197.5 L118.2,196.9 L119.0,197.1 L119.8,196.7 L120.5,196.6 L121.2,196.0 L122.0,196.4 L122.8,195.8 L123.5,195.6 L124.2,195.6 L125.0,195.7 L125.8,195.2 L126.5,195.2 L127.2,195.2 L128.0,194.8 L128.8,194.6 L129.5,194.6 L130.2,194.7 L131.0,194.5 L131.8,194.0 L132.5,194.2 L133.2,194.2 L134.0,193.9 L134.8,193.4 L135.5,193.1 L136.2,193.6 L137.0,193.3 L137.8,192.8 L138.5,193.0 L139.2,192.8 L140.0,192.7 L140.8,192.4 L141.5,192.5 L142.2,192.2 L143.0,192.1 L143.8,192.0 L144.5,192.2 L145.2,192.2 L146.0,191.7 L146.8,191.5 L147.5,191.6 L148.2,191.8 L149.0,191.5 L149.8,191.2 L150.5,191.7 L151.2,191.4 L152.0,191.1 L152.8,191.5 L153.5,191.3 L154.2,191.5 L155.0,191.5 L155.8,191.4 L156.5,191.4 L157.2,191.0 L158.0,191.3 L158.8,191.0 L159.5,191.1 L160.2,190.7 L161.0,191.0 L161.8,190.6 L162.5,191.1 L163.2,190.6 L164.0,190.8 L164.8,190.9 L165.5,190.9 L166.2,190.9 L167.0,190.5 L167.8,190.2 L168.5,190.8 L169.2,190.3 L170.0,190.7 L170.8,190.3 L171.5,190.3 L172.2,190.4 L173.0,190.3 L173.8,190.5 L174.5,190.3 L175.2,190.0 L176.0,190.2 L176.8,189.9 L177.5,190.4 L178.2,189.9 L179.0,190.0 L179.8,190.1 L180.5,189.9 L181.2,190.3 L182.0,190.2 L182.8,189.8 L183.5,189.8 L184.2,190.0 L185.0,189.8 L185.8,189.8 L186.5,189.5 L187.2,189.6 L188.0,189.4 L188.8,189.5 L189.5,188.9 L190.2,189.0 L191.0,188.4 L191.8,188.3 L192.5,188.1 L193.2,188.4 L194.0,187.8 L194.8,188.0 L195.5,188.3 L196.2,188.9 L197.0,189.6 L197.8,190.2 L198.5,191.9 L199.2,194.2 L200.0,196.4 L200.8,199.1 L201.5,201.9 L202.2,203.2 L203.0,205.0 L203.8,206.8 L204.5,208.9 L205.2,210.2 L206.0,211.8 L206.8,213.3 L207.5,214.9 L208.2,215.3 L209.0,216.0 L209.8,215.8 L210.5,214.7 L211.2,212.8 L212.0,212.0 L212.8,211.4 L213.5,210.4 L214.2,210.1 L215.0,209.4 L215.8,209.6 L216.5,208.6 L217.2,208.4 L218.0,208.4 L218.8,207.8 L219.5,207.7 L220.2,207.3 L221.0,207.4 L221.8,206.9 L222.5,206.4 L223.2,206.0 L224.0,206.0 L224.8,205.9 L225.5,205.6 L226.2,205.4 L227.0,205.0 L227.8,205.1 L228.5,204.5 L229.2,204.4 L230.0,204.5 L230.8,204.2 L231.5,203.8 L232.2,203.8 L233.0,203.6 L233.8,203.1 L234.5,203.0 L235.2,203.1 L236.0,202.6 L236.8,202.5 L237.5,202.4 L238.2,202.0 L239.0,201.9 L239.8,202.3 L240.5,201.6 L241.2,201.9 L242.0,201.2 L242.8,201.3 L243.5,201.3 L244.2,201.1 L245.0,201.4 L245.8,201.4 L246.5,200.8 L247.2,200.6 L248.0,201.1 L248.8,200.9 L249.5,200.7 L250.2,200.3 L251.0,200.2 L251.8,200.7 L252.5,200.6 L253.2,200.4 L254.0,200.3 L254.8,200.2 L255.5,200.3 L256.2,200.3 L257.0,200.4 L257.8,200.2 L258.5,200.1 L259.2,200.0 L260.0,200.3 L260.8,200.5 L261.5,200.0 L262.2,200.4 L263.0,200.3 L263.8,199.9 L264.5,199.9 L265.2,200.3 L266.0,199.8 L266.8,199.8 L267.5,199.8 L268.2,200.3 L269.0,199.9" fill="none" stroke="#0a800a" stroke-width="1.6" stroke-linejoin="round" stroke-linecap="round"/>
<path d="M125.1,223.9 L125.8,223.8 L126.6,222.7 L127.3,221.9 L128.1,221.9 L128.8,220.6 L129.6,220.5 L130.3,219.9 L131.1,219.1 L131.8,218.0 L132.6,215.6 L133.3,214.5 L134.1,212.8 L134.8,211.2 L135.6,209.9 L136.3,207.9 L137.1,206.2 L137.8,205.0 L138.6,204.3 L139.3,203.3 L140.1,203.0 L140.8,201.7 L141.6,201.6 L142.3,200.7 L143.1,200.3 L143.8,200.0 L144.6,199.8 L145.3,199.5 L146.1,198.6 L146.8,198.7 L147.6,198.6 L148.3,197.8 L149.1,198.5 L149.8,197.3 L150.6,197.5 L151.3,197.3 L152.1,196.8 L152.8,196.3 L153.6,196.2 L154.3,196.0 L155.1,196.0 L155.8,195.7 L156.6,195.5 L157.3,195.1 L158.1,194.2 L158.8,194.3 L159.6,194.3 L160.3,194.3 L161.1,193.6 L161.8,193.7 L162.6,193.2 L163.3,192.8 L164.1,192.7 L164.8,192.6 L165.6,192.4 L166.3,192.5 L167.1,192.3 L167.8,192.0 L168.6,191.5 L169.3,191.7 L170.1,191.4 L170.8,191.2 L171.6,191.1 L172.3,190.8 L173.1,191.3 L173.8,190.9 L174.6,190.9 L175.3,190.3 L176.1,190.2 L176.8,190.1 L177.6,190.4 L178.3,190.1 L179.1,189.6 L179.8,190.0 L180.6,189.8 L181.3,189.9 L182.1,189.5 L182.8,189.5 L183.6,189.3 L184.3,189.1 L185.1,188.9 L185.8,189.0 L186.6,189.0 L187.3,188.7 L188.1,189.1 L188.8,188.7 L189.6,188.2 L190.3,188.3 L191.1,188.1 L191.8,187.9 L192.6,188.0 L193.3,188.0 L194.1,187.4 L194.8,186.9 L195.6,186.8 L196.3,186.9 L197.1,188.2 L197.8,189.3 L198.6,191.7 L199.3,194.0 L200.1,194.0 L200.8,195.8 L201.6,197.9 L202.3,198.9 L203.1,200.3 L203.8,202.3 L204.6,203.9 L205.3,205.7 L206.1,207.2 L206.8,208.1 L207.6,209.3 L208.3,210.6 L209.1,209.8 L209.8,209.6 L210.6,207.2 L211.3,206.2 L212.1,204.1 L212.8,203.7 L213.6,202.7 L214.3,202.2 L215.1,202.0 L215.8,201.7 L216.6,200.8 L217.3,200.3 L218.1,200.0 L218.8,199.3 L219.6,199.1 L220.3,198.5 L221.1,197.5 L221.8,197.1 L222.6,197.0 L223.3,196.7 L224.1,196.5 L224.8,195.7 L225.6,195.0 L226.3,195.1 L227.1,194.5 L227.8,193.7 L228.6,193.4 L229.3,193.4 L230.1,193.0 L230.8,193.2 L231.6,193.1 L232.3,192.4 L233.1,192.2 L233.8,191.5 L234.6,191.1 L235.3,191.3 L236.1,190.8 L236.8,190.4 L237.6,190.2 L238.3,190.6 L239.1,189.6 L239.8,190.4 L240.6,190.0 L241.3,189.4 L242.1,188.7 L242.8,189.2 L243.6,188.5 L244.3,189.0 L245.1,188.4 L245.8,188.8 L246.6,188.0 L247.3,188.2 L248.1,187.9 L248.8,188.3 L249.6,188.3 L250.3,187.8 L251.1,187.7 L251.8,187.5 L252.6,187.8 L253.3,188.1 L254.1,187.7 L254.8,187.7 L255.6,187.8 L256.4,187.4 L257.1,187.8 L257.9,187.6 L258.6,187.8 L259.4,187.7 L260.1,187.3 L260.9,187.6 L261.6,187.0 L262.4,187.2 L263.1,187.7 L263.9,187.4 L264.6,187.4 L265.4,187.5 L266.1,187.2 L266.9,187.5 L267.6,187.0 L268.4,187.3 L269.1,187.4 L269.1,191.5 L268.4,191.2 L267.6,191.3 L266.9,191.7 L266.1,191.1 L265.4,191.2 L264.6,191.2 L263.9,191.6 L263.1,191.5 L262.4,191.3 L261.6,191.3 L260.9,191.8 L260.1,191.1 L259.4,191.2 L258.6,191.6 L257.9,191.6 L257.1,191.6 L256.4,191.7 L255.6,191.6 L254.8,191.5 L254.1,192.2 L253.3,192.2 L252.6,191.8 L251.8,191.6 L251.1,191.8 L250.3,191.7 L249.6,192.2 L248.8,192.4 L248.1,191.8 L247.3,192.7 L246.6,192.4 L245.8,192.4 L245.1,192.6 L244.3,192.8 L243.6,192.5 L242.8,193.4 L242.1,192.8 L241.3,193.3 L240.6,193.5 L239.8,194.0 L239.1,194.0 L238.3,194.3 L237.6,194.1 L236.8,194.7 L236.1,195.3 L235.3,195.0 L234.6,195.3 L233.8,195.8 L233.1,196.0 L232.3,196.1 L231.6,196.5 L230.8,196.9 L230.1,197.2 L229.3,197.7 L228.6,197.7 L227.8,198.0 L227.1,199.0 L226.3,198.9 L225.6,199.2 L224.8,200.3 L224.1,199.9 L223.3,200.6 L222.6,200.9 L221.8,201.0 L221.1,201.4 L220.3,202.1 L219.6,203.3 L218.8,203.2 L218.1,204.0 L217.3,204.4 L216.6,204.9 L215.8,205.8 L215.1,206.0 L214.3,206.2 L213.6,206.7 L212.8,207.6 L212.1,207.9 L211.3,209.9 L210.6,211.5 L209.8,213.5 L209.1,214.1 L208.3,214.4 L207.6,213.1 L206.8,212.0 L206.1,210.8 L205.3,209.6 L204.6,208.1 L203.8,206.2 L203.1,204.4 L202.3,203.1 L201.6,202.2 L200.8,199.8 L200.1,198.1 L199.3,194.4 L198.6,192.6 L197.8,189.9 L197.1,189.0 L196.3,187.9 L195.6,187.6 L194.8,187.2 L194.1,188.0 L193.3,188.3 L192.6,188.8 L191.8,188.6 L191.1,188.7 L190.3,189.3 L189.6,189.3 L188.8,189.0 L188.1,189.8 L187.3,189.5 L186.6,190.0 L185.8,190.0 L185.1,190.2 L184.3,189.7 L183.6,190.1 L182.8,190.5 L182.1,190.3 L181.3,190.5 L180.6,190.7 L179.8,190.9 L179.1,190.8 L178.3,191.1 L177.6,191.1 L176.8,191.0 L176.1,191.4 L175.3,191.2 L174.6,192.1 L173.8,192.1 L173.1,191.8 L172.3,191.6 L171.6,191.7 L170.8,191.9 L170.1,192.2 L169.3,192.8 L168.6,192.7 L167.8,193.0 L167.1,192.9 L166.3,193.4 L165.6,193.4 L164.8,193.9 L164.1,193.2 L163.3,193.3 L162.6,193.7 L161.8,194.2 L161.1,194.4 L160.3,194.8 L159.6,195.2 L158.8,194.8 L158.1,194.9 L157.3,196.0 L156.6,195.9 L155.8,196.1 L155.1,196.9 L154.3,196.7 L153.6,196.7 L152.8,196.9 L152.1,197.4 L151.3,197.7 L150.6,197.8 L149.8,198.0 L149.1,198.9 L148.3,198.5 L147.6,199.4 L146.8,199.5 L146.1,199.7 L145.3,200.5 L144.6,201.0 L143.8,200.9 L143.1,200.8 L142.3,201.9 L141.6,202.7 L140.8,202.6 L140.1,203.3 L139.3,205.5 L138.6,206.2 L137.8,207.2 L137.1,208.3 L136.3,209.9 L135.6,211.8 L134.8,213.2 L134.1,214.7 L133.3,216.9 L132.6,217.8 L131.8,219.6 L131.1,220.6 L130.3,221.7 L129.6,222.3 L128.8,222.8 L128.1,223.5 L127.3,223.8 L126.6,224.3 L125.8,225.4 L125.1,226.1Z" fill="#0000ff" fill-opacity="0.3"/>
<path d="M125.1,225.2 L125.8,224.6 L126.6,223.5 L127.3,222.9 L128.1,222.8 L128.8,221.8 L129.6,221.3 L130.3,220.6 L131.1,219.9 L131.8,218.8 L132.6,216.8 L133.3,215.6 L134.1,213.5 L134.8,212.3 L135.6,211.0 L136.3,209.1 L137.1,207.4 L137.8,206.3 L138.6,205.0 L139.3,204.2 L140.1,203.2 L140.8,202.3 L141.6,202.0 L142.3,201.4 L143.1,200.6 L143.8,200.3 L144.6,200.5 L145.3,199.9 L146.1,199.2 L146.8,199.4 L147.6,199.1 L148.3,198.2 L149.1,198.6 L149.8,197.7 L150.6,197.6 L151.3,197.5 L152.1,197.0 L152.8,196.6 L153.6,196.4 L154.3,196.3 L155.1,196.2 L155.8,195.9 L156.6,195.7 L157.3,195.3 L158.1,194.8 L158.8,194.5 L159.6,194.6 L160.3,194.4 L161.1,193.8 L161.8,193.9 L162.6,193.4 L163.3,193.0 L164.1,193.1 L164.8,193.2 L165.6,192.8 L166.3,192.9 L167.1,192.7 L167.8,192.6 L168.6,192.1 L169.3,192.3 L170.1,191.6 L170.8,191.8 L171.6,191.3 L172.3,191.4 L173.1,191.6 L173.8,191.5 L174.6,191.5 L175.3,191.0 L176.1,190.9 L176.8,190.5 L177.6,190.6 L178.3,190.8 L179.1,190.2 L179.8,190.5 L180.6,190.0 L181.3,190.2 L182.1,189.7 L182.8,190.1 L183.6,189.4 L184.3,189.3 L185.1,189.5 L185.8,189.6 L186.6,189.4 L187.3,189.1 L188.1,189.3 L188.8,188.8 L189.6,188.8 L190.3,188.7 L191.1,188.5 L191.8,188.3 L192.6,188.2 L193.3,188.2 L194.1,187.7 L194.8,187.0 L195.6,187.1 L196.3,187.4 L197.1,188.8 L197.8,189.8 L198.6,192.1 L199.3,194.2 L200.1,196.0 L200.8,197.9 L201.6,200.0 L202.3,201.0 L203.1,202.5 L203.8,204.4 L204.6,206.1 L205.3,207.5 L206.1,208.9 L206.8,210.2 L207.6,211.3 L208.3,212.4 L209.1,212.1 L209.8,211.6 L210.6,209.4 L211.3,207.9 L212.1,206.2 L212.8,205.8 L213.6,204.7 L214.3,204.4 L215.1,203.8 L215.8,203.6 L216.6,202.8 L217.3,202.3 L218.1,201.8 L218.8,201.2 L219.6,201.2 L220.3,200.3 L221.1,199.7 L221.8,199.2 L222.6,199.1 L223.3,198.8 L224.1,198.2 L224.8,198.0 L225.6,197.1 L226.3,197.2 L227.1,196.7 L227.8,196.0 L228.6,195.6 L229.3,195.5 L230.1,195.2 L230.8,194.9 L231.6,194.8 L232.3,194.2 L233.1,193.9 L233.8,193.7 L234.6,193.3 L235.3,193.2 L236.1,193.1 L236.8,192.6 L237.6,192.2 L238.3,192.4 L239.1,191.7 L239.8,192.1 L240.6,191.7 L241.3,191.2 L242.1,190.9 L242.8,191.3 L243.6,190.6 L244.3,190.9 L245.1,190.6 L245.8,190.6 L246.6,190.1 L247.3,190.4 L248.1,190.0 L248.8,190.1 L249.6,190.3 L250.3,190.0 L251.1,189.6 L251.8,189.6 L252.6,189.7 L253.3,189.9 L254.1,189.9 L254.8,189.6 L255.6,189.7 L256.4,189.5 L257.1,189.6 L257.9,189.4 L258.6,189.8 L259.4,189.4 L260.1,189.4 L260.9,189.6 L261.6,189.3 L262.4,189.2 L263.1,189.4 L263.9,189.7 L264.6,189.4 L265.4,189.3 L266.1,189.3 L266.9,189.5 L267.6,189.3 L268.4,189.5 L269.1,189.4" fill="none" stroke="#0000ff" stroke-width="1.6" stroke-linejoin="round" stroke-linecap="round"/>
<path d="M124.4,319.9 L125.2,319.1 L125.9,317.7 L126.7,317.1 L127.4,315.8 L128.2,315.4 L128.9,314.7 L129.7,314.0 L130.4,312.9 L131.2,312.1 L131.9,311.3 L132.7,310.7 L133.4,309.0 L134.2,308.6 L134.9,307.8 L135.7,306.9 L136.4,305.9 L137.2,305.1 L137.9,304.4 L138.7,304.0 L139.4,303.5 L140.2,303.1 L140.9,303.2 L141.7,302.7 L142.4,302.5 L143.2,302.0 L143.9,302.3 L144.7,301.6 L145.4,301.6 L146.2,301.8 L146.9,301.4 L147.7,301.4 L148.4,301.1 L149.2,301.0 L149.9,300.8 L150.7,300.9 L151.4,301.0 L152.2,300.5 L152.9,300.5 L153.7,300.3 L154.4,300.3 L155.2,300.2 L155.9,299.6 L156.7,300.0 L157.4,299.6 L158.2,299.1 L158.9,299.4 L159.7,299.5 L160.4,299.3 L161.2,299.0 L161.9,299.5 L162.7,298.8 L163.4,299.0 L164.2,298.6 L164.9,298.6 L165.7,298.8 L166.4,298.5 L167.2,298.3 L167.9,298.5 L168.7,298.5 L169.4,298.6 L170.2,298.7 L170.9,298.3 L171.7,298.3 L172.4,298.4 L173.2,298.3 L173.9,297.7 L174.7,298.5 L175.4,297.8 L176.2,298.0 L176.9,297.7 L177.7,297.8 L178.4,297.9 L179.2,298.1 L179.9,298.1 L180.7,298.1 L181.4,297.9 L182.2,297.4 L182.9,297.7 L183.7,297.3 L184.4,296.9 L185.2,297.4 L185.9,296.9 L186.7,297.4 L187.4,296.5 L188.2,297.0 L188.9,296.7 L189.7,297.0 L190.4,296.6 L191.2,296.4 L191.9,296.2 L192.7,296.3 L193.4,295.9 L194.2,296.5 L194.9,296.0 L195.7,296.1 L196.4,296.1 L197.2,295.9 L197.9,296.0 L198.7,296.1 L199.4,295.8 L200.2,295.6 L200.9,295.5 L201.7,294.4 L202.4,293.9 L203.2,292.7 L203.9,292.6 L204.7,291.6 L205.4,290.5 L206.2,290.0 L206.9,289.0 L207.7,287.8 L208.4,286.9 L209.2,286.4 L209.9,285.1 L210.7,284.1 L211.4,283.7 L212.2,283.1 L212.9,282.8 L213.7,282.8 L214.4,282.2 L215.2,282.5 L215.9,281.9 L216.7,281.7 L217.4,281.7 L218.2,281.6 L218.9,281.2 L219.7,281.4 L220.4,281.6 L221.2,281.4 L221.9,280.8 L222.7,281.1 L223.4,281.2 L224.2,281.2 L224.9,281.0 L225.7,281.0 L226.4,280.8 L227.2,280.1 L227.9,279.9 L228.7,279.2 L229.4,278.9 L230.2,278.2 L230.9,278.5 L231.7,278.3 L232.4,278.3 L233.2,278.6 L233.9,278.2 L234.7,278.2 L235.4,278.1 L236.2,278.0 L236.9,278.5 L237.7,277.8 L238.4,278.3 L239.2,278.2 L239.9,278.2 L240.7,277.9 L241.4,278.1 L242.2,277.9 L242.9,277.9 L243.7,277.4 L244.4,277.5 L245.2,277.6 L245.9,277.6 L246.7,278.1 L247.4,277.4 L248.2,277.6 L248.9,277.5 L249.7,277.3 L250.4,277.4 L251.2,277.2 L251.9,277.7 L252.7,277.3 L253.4,277.6 L254.2,277.2 L254.9,276.9 L255.7,277.5 L256.4,277.3 L257.1,276.8 L257.9,276.7 L258.6,277.0 L259.4,276.7 L260.1,276.6 L260.9,276.6 L261.6,277.1 L262.4,276.4 L263.1,276.6 L263.9,276.2 L264.6,276.7 L265.4,276.1 L266.1,276.1 L266.9,276.2 L267.6,276.4 L268.4,276.8 L269.1,276.3 L269.1,276.8 L268.4,277.2 L267.6,277.1 L266.9,276.7 L266.1,276.7 L265.4,276.9 L264.6,277.2 L263.9,276.8 L263.1,277.7 L262.4,277.1 L261.6,277.2 L260.9,277.0 L260.1,277.3 L259.4,277.2 L258.6,277.4 L257.9,277.9 L257.1,277.7 L256.4,277.5 L255.7,277.9 L254.9,277.4 L254.2,278.0 L253.4,278.3 L252.7,278.1 L251.9,277.9 L251.2,278.0 L250.4,277.8 L249.7,278.3 L248.9,278.1 L248.2,278.2 L247.4,278.0 L246.7,278.6 L245.9,278.3 L245.2,278.5 L244.4,278.0 L243.7,278.5 L242.9,278.4 L242.2,278.9 L241.4,278.9 L240.7,278.9 L239.9,278.4 L239.2,278.6 L238.4,279.1 L237.7,278.6 L236.9,279.1 L236.2,278.3 L235.4,278.6 L234.7,278.9 L233.9,278.8 L233.2,278.8 L232.4,278.7 L231.7,278.6 L230.9,278.9 L230.2,279.1 L229.4,279.7 L228.7,279.8 L227.9,280.7 L227.2,281.0 L226.4,281.2 L225.7,281.3 L224.9,281.0 L224.2,281.8 L223.4,281.8 L222.7,281.6 L221.9,281.8 L221.2,281.7 L220.4,281.7 L219.7,282.4 L218.9,281.8 L218.2,282.0 L217.4,282.1 L216.7,282.4 L215.9,282.4 L215.2,282.6 L214.4,282.8 L213.7,282.9 L212.9,283.7 L212.2,283.9 L211.4,284.4 L210.7,284.9 L209.9,286.2 L209.2,287.0 L208.4,287.5 L207.7,288.8 L206.9,289.4 L206.2,290.5 L205.4,290.9 L204.7,292.3 L203.9,293.0 L203.2,293.4 L202.4,294.5 L201.7,295.2 L200.9,296.0 L200.2,296.4 L199.4,296.5 L198.7,296.6 L197.9,296.9 L197.2,296.4 L196.4,297.1 L195.7,297.0 L194.9,296.3 L194.2,297.4 L193.4,296.7 L192.7,297.1 L191.9,296.9 L191.2,296.7 L190.4,297.1 L189.7,297.3 L188.9,297.4 L188.2,297.4 L187.4,297.5 L186.7,297.8 L185.9,298.0 L185.2,297.9 L184.4,297.6 L183.7,297.6 L182.9,298.1 L182.2,298.4 L181.4,298.5 L180.7,298.8 L179.9,298.4 L179.2,298.8 L178.4,298.4 L177.7,298.1 L176.9,298.4 L176.2,298.5 L175.4,298.4 L174.7,298.8 L173.9,298.4 L173.2,298.7 L172.4,299.0 L171.7,299.1 L170.9,298.8 L170.2,298.8 L169.4,299.0 L168.7,299.0 L167.9,298.9 L167.2,299.1 L166.4,299.3 L165.7,299.8 L164.9,299.3 L164.2,299.2 L163.4,299.6 L162.7,299.7 L161.9,299.9 L161.2,299.9 L160.4,300.4 L159.7,299.9 L158.9,300.2 L158.2,299.9 L157.4,300.1 L156.7,300.4 L155.9,300.4 L155.2,301.1 L154.4,300.6 L153.7,300.5 L152.9,301.0 L152.2,301.2 L151.4,301.5 L150.7,301.3 L149.9,301.3 L149.2,301.5 L148.4,301.3 L147.7,301.9 L146.9,302.2 L146.2,302.3 L145.4,302.3 L144.7,302.0 L143.9,302.4 L143.2,302.9 L142.4,303.2 L141.7,303.4 L140.9,303.4 L140.2,303.9 L139.4,304.2 L138.7,304.8 L137.9,305.4 L137.2,305.8 L136.4,306.5 L135.7,307.1 L134.9,308.5 L134.2,309.0 L133.4,309.5 L132.7,311.1 L131.9,311.5 L131.2,312.9 L130.4,313.5 L129.7,314.5 L128.9,314.9 L128.2,315.8 L127.4,316.8 L126.7,317.4 L125.9,318.3 L125.2,319.6 L124.4,320.4Z" fill="#0000ff" fill-opacity="0.3"/>
<path d="M124.4,320.0 L125.2,319.2 L125.9,318.1 L126.7,317.3 L127.4,316.3 L128.2,315.4 L128.9,314.8 L129.7,314.1 L130.4,313.4 L131.2,312.3 L131.9,311.5 L132.7,310.9 L133.4,309.5 L134.2,308.8 L134.9,308.2 L135.7,306.9 L136.4,306.1 L137.2,305.3 L137.9,304.9 L138.7,304.5 L139.4,303.6 L140.2,303.5 L140.9,303.4 L141.7,302.9 L142.4,303.0 L143.2,302.4 L143.9,302.3 L144.7,301.9 L145.4,302.2 L146.2,301.8 L146.9,301.9 L147.7,301.6 L148.4,301.2 L149.2,301.5 L149.9,300.9 L150.7,301.2 L151.4,301.0 L152.2,300.6 L152.9,300.7 L153.7,300.4 L154.4,300.4 L155.2,300.6 L155.9,300.2 L156.7,300.1 L157.4,299.7 L158.2,299.6 L158.9,299.8 L159.7,299.6 L160.4,299.8 L161.2,299.5 L161.9,299.6 L162.7,299.4 L163.4,299.5 L164.2,299.1 L164.9,298.8 L165.7,299.2 L166.4,299.1 L167.2,298.7 L167.9,298.7 L168.7,298.8 L169.4,299.0 L170.2,298.8 L170.9,298.6 L171.7,298.7 L172.4,298.5 L173.2,298.5 L173.9,298.3 L174.7,298.6 L175.4,298.1 L176.2,298.4 L176.9,298.1 L177.7,298.1 L178.4,298.4 L179.2,298.4 L179.9,298.1 L180.7,298.4 L181.4,298.1 L182.2,298.0 L182.9,297.9 L183.7,297.5 L184.4,297.4 L185.2,297.7 L185.9,297.4 L186.7,297.6 L187.4,297.1 L188.2,297.0 L188.9,296.9 L189.7,297.2 L190.4,296.9 L191.2,296.6 L191.9,296.5 L192.7,296.7 L193.4,296.3 L194.2,296.8 L194.9,296.3 L195.7,296.6 L196.4,296.6 L197.2,296.2 L197.9,296.4 L198.7,296.4 L199.4,296.2 L200.2,295.9 L200.9,295.9 L201.7,294.9 L202.4,294.3 L203.2,293.2 L203.9,292.7 L204.7,292.1 L205.4,290.8 L206.2,290.2 L206.9,289.0 L207.7,288.2 L208.4,287.4 L209.2,286.9 L209.9,285.7 L210.7,284.6 L211.4,284.2 L212.2,283.6 L212.9,283.2 L213.7,282.8 L214.4,282.5 L215.2,282.5 L215.9,282.1 L216.7,282.0 L217.4,281.8 L218.2,281.7 L218.9,281.7 L219.7,281.9 L220.4,281.6 L221.2,281.6 L221.9,281.4 L222.7,281.3 L223.4,281.5 L224.2,281.6 L224.9,281.0 L225.7,281.2 L226.4,281.2 L227.2,280.7 L227.9,280.5 L228.7,279.5 L229.4,279.4 L230.2,278.6 L230.9,278.5 L231.7,278.4 L232.4,278.3 L233.2,278.7 L233.9,278.4 L234.7,278.4 L235.4,278.5 L236.2,278.2 L236.9,278.5 L237.7,278.1 L238.4,278.6 L239.2,278.5 L239.9,278.2 L240.7,278.4 L241.4,278.4 L242.2,278.4 L242.9,278.0 L243.7,278.0 L244.4,277.9 L245.2,278.0 L245.9,278.0 L246.7,278.1 L247.4,277.8 L248.2,277.9 L248.9,277.7 L249.7,277.8 L250.4,277.5 L251.2,277.7 L251.9,277.7 L252.7,277.7 L253.4,277.8 L254.2,277.5 L254.9,277.4 L255.7,277.7 L256.4,277.3 L257.1,277.2 L257.9,277.3 L258.6,277.4 L259.4,277.1 L260.1,277.0 L260.9,276.9 L261.6,277.1 L262.4,277.0 L263.1,277.2 L263.9,276.8 L264.6,277.0 L265.4,276.7 L266.1,276.6 L266.9,276.5 L267.6,276.8 L268.4,276.8 L269.1,276.6" fill="none" stroke="#0000ff" stroke-width="1.7" stroke-linejoin="round" stroke-linecap="round"/>
<path d="M131.1,315.5 L131.8,314.3 L132.6,313.5 L133.3,312.4 L134.1,310.7 L134.8,309.1 L135.6,308.1 L136.3,306.2 L137.1,305.1 L137.8,304.5 L138.6,303.4 L139.3,302.8 L140.1,303.3 L140.8,302.6 L141.6,302.7 L142.3,302.6 L143.1,302.6 L143.8,302.1 L144.6,302.1 L145.3,301.9 L146.1,301.8 L146.8,301.7 L147.6,301.3 L148.3,300.8 L149.1,301.4 L149.8,301.0 L150.6,300.6 L151.3,300.4 L152.1,300.3 L152.8,300.4 L153.6,300.0 L154.3,300.0 L155.1,300.1 L155.8,299.9 L156.6,300.1 L157.3,299.7 L158.1,300.0 L158.8,299.7 L159.6,299.4 L160.3,299.2 L161.1,299.3 L161.8,299.2 L162.6,298.9 L163.3,298.8 L164.1,299.2 L164.8,298.8 L165.6,298.4 L166.3,299.3 L167.1,298.6 L167.8,298.8 L168.6,299.0 L169.3,299.0 L170.1,297.8 L170.8,297.9 L171.6,297.4 L172.3,297.8 L173.1,297.5 L173.8,297.7 L174.6,297.9 L175.3,297.7 L176.1,297.6 L176.8,297.8 L177.6,298.0 L178.3,297.6 L179.1,297.8 L179.8,298.2 L180.6,298.0 L181.3,297.5 L182.1,298.1 L182.8,297.9 L183.6,298.0 L184.3,298.1 L185.1,298.3 L185.8,298.0 L186.6,298.5 L187.3,298.2 L188.1,298.3 L188.8,298.2 L189.6,298.2 L190.3,298.8 L191.1,298.3 L191.8,299.0 L192.6,299.0 L193.3,298.7 L194.1,299.3 L194.8,298.4 L195.6,298.7 L196.3,298.4 L197.1,299.1 L197.8,298.9 L198.6,298.5 L199.3,298.7 L200.1,295.5 L200.8,294.9 L201.6,294.0 L202.3,293.1 L203.1,293.0 L203.8,292.3 L204.6,291.0 L205.3,290.2 L206.1,289.5 L206.8,288.8 L207.6,288.4 L208.3,287.3 L209.1,286.6 L209.8,286.3 L210.6,285.6 L211.3,285.4 L212.1,285.4 L212.8,285.3 L213.6,285.2 L214.3,285.3 L215.1,285.0 L215.8,285.0 L216.6,284.0 L217.3,284.8 L218.1,284.2 L218.8,284.5 L219.6,284.1 L220.3,284.0 L221.1,284.2 L221.8,283.7 L222.6,284.0 L223.3,283.5 L224.1,283.6 L224.8,283.4 L225.6,283.9 L226.3,283.1 L227.1,283.0 L227.8,283.4 L228.6,282.9 L229.3,283.0 L230.1,282.7 L230.8,283.2 L231.6,283.3 L232.3,283.1 L233.1,282.8 L233.8,282.9 L234.6,283.3 L235.3,282.7 L236.1,283.0 L236.8,282.7 L237.6,282.8 L238.3,282.6 L239.1,282.7 L239.8,282.7 L240.6,282.8 L241.3,282.3 L242.1,282.5 L242.8,282.7 L243.6,282.9 L244.3,282.8 L245.1,282.5 L245.8,282.6 L246.6,282.6 L247.3,282.3 L248.1,282.8 L248.8,282.8 L249.6,283.0 L250.3,282.6 L251.1,282.6 L251.8,282.1 L252.6,282.2 L253.3,282.8 L254.1,282.8 L254.8,282.6 L255.6,282.6 L256.4,282.7 L257.1,282.4 L257.9,282.7 L258.6,282.6 L259.4,282.7 L260.1,282.9 L260.9,282.4 L261.6,282.6 L262.4,282.4 L263.1,282.8 L263.9,282.1 L264.6,282.6 L265.4,282.6 L266.1,282.6 L266.9,282.6 L267.6,282.7 L268.4,282.4 L269.1,283.0 L269.1,291.6 L268.4,290.7 L267.6,291.2 L266.9,291.1 L266.1,290.9 L265.4,291.1 L264.6,290.9 L263.9,290.7 L263.1,291.5 L262.4,291.0 L261.6,291.4 L260.9,291.3 L260.1,291.2 L259.4,291.4 L258.6,291.6 L257.9,291.3 L257.1,290.9 L256.4,291.1 L255.6,291.2 L254.8,291.2 L254.1,291.5 L253.3,290.9 L252.6,291.4 L251.8,290.9 L251.1,291.1 L250.3,291.1 L249.6,291.2 L248.8,291.6 L248.1,291.3 L247.3,291.3 L246.6,291.6 L245.8,291.4 L245.1,291.1 L244.3,291.6 L243.6,291.4 L242.8,291.4 L242.1,291.3 L241.3,291.1 L240.6,291.5 L239.8,291.1 L239.1,291.2 L238.3,290.8 L237.6,291.3 L236.8,291.4 L236.1,291.4 L235.3,291.5 L234.6,291.9 L233.8,291.8 L233.1,291.8 L232.3,292.1 L231.6,292.1 L230.8,291.6 L230.1,291.3 L229.3,292.0 L228.6,291.9 L227.8,291.7 L227.1,291.7 L226.3,292.1 L225.6,292.2 L224.8,291.9 L224.1,292.3 L223.3,292.4 L222.6,292.7 L221.8,292.1 L221.1,292.6 L220.3,292.1 L219.6,292.5 L218.8,293.0 L218.1,292.8 L217.3,293.0 L216.6,292.7 L215.8,293.3 L215.1,293.4 L214.3,293.9 L213.6,293.5 L212.8,293.9 L212.1,294.5 L211.3,294.2 L210.6,294.4 L209.8,295.2 L209.1,295.8 L208.3,296.0 L207.6,296.8 L206.8,297.4 L206.1,298.0 L205.3,298.9 L204.6,299.5 L203.8,300.8 L203.1,301.1 L202.3,301.8 L201.6,302.4 L200.8,303.3 L200.1,304.0 L199.3,301.4 L198.6,301.7 L197.8,302.1 L197.1,301.8 L196.3,301.5 L195.6,301.8 L194.8,301.6 L194.1,302.1 L193.3,301.7 L192.6,301.8 L191.8,301.9 L191.1,301.6 L190.3,301.5 L189.6,301.2 L188.8,301.3 L188.1,300.8 L187.3,301.1 L186.6,301.4 L185.8,301.3 L185.1,301.4 L184.3,301.0 L183.6,301.4 L182.8,301.0 L182.1,301.3 L181.3,300.7 L180.6,301.2 L179.8,301.0 L179.1,300.9 L178.3,300.9 L177.6,301.2 L176.8,300.6 L176.1,300.6 L175.3,300.8 L174.6,300.9 L173.8,300.8 L173.1,300.2 L172.3,300.7 L171.6,300.8 L170.8,300.9 L170.1,301.0 L169.3,299.8 L168.6,300.2 L167.8,299.7 L167.1,299.9 L166.3,300.5 L165.6,299.8 L164.8,300.3 L164.1,300.0 L163.3,299.8 L162.6,300.3 L161.8,300.3 L161.1,300.6 L160.3,300.4 L159.6,300.4 L158.8,300.6 L158.1,301.1 L157.3,300.6 L156.6,301.5 L155.8,301.1 L155.1,301.2 L154.3,301.3 L153.6,301.4 L152.8,301.6 L152.1,301.6 L151.3,301.7 L150.6,301.7 L149.8,302.3 L149.1,302.8 L148.3,302.4 L147.6,302.4 L146.8,302.6 L146.1,303.3 L145.3,303.3 L144.6,302.9 L143.8,303.0 L143.1,303.6 L142.3,303.7 L141.6,304.0 L140.8,304.0 L140.1,304.5 L139.3,304.1 L138.6,305.0 L137.8,305.7 L137.1,306.6 L136.3,307.5 L135.6,308.9 L134.8,310.5 L134.1,311.8 L133.3,313.4 L132.6,314.7 L131.8,315.3 L131.1,316.8Z" fill="#1ec8c8" fill-opacity="0.4"/>
<path d="M131.1,316.4 L131.8,314.9 L132.6,314.0 L133.3,312.7 L134.1,311.4 L134.8,309.8 L135.6,308.5 L136.3,306.8 L137.1,305.9 L137.8,305.2 L138.6,304.1 L139.3,303.6 L140.1,303.9 L140.8,303.4 L141.6,303.4 L142.3,303.3 L143.1,303.1 L143.8,302.5 L144.6,302.5 L145.3,302.4 L146.1,302.5 L146.8,302.3 L147.6,301.9 L148.3,301.7 L149.1,301.9 L149.8,301.8 L150.6,301.2 L151.3,301.2 L152.1,301.0 L152.8,301.0 L153.6,300.6 L154.3,300.7 L155.1,300.5 L155.8,300.3 L156.6,300.7 L157.3,300.1 L158.1,300.5 L158.8,300.2 L159.6,299.9 L160.3,299.8 L161.1,299.7 L161.8,299.6 L162.6,299.7 L163.3,299.3 L164.1,299.5 L164.8,299.4 L165.6,299.2 L166.3,299.6 L167.1,299.2 L167.8,299.4 L168.6,299.4 L169.3,299.4 L170.1,299.3 L170.8,299.2 L171.6,299.2 L172.3,299.4 L173.1,299.0 L173.8,299.3 L174.6,299.5 L175.3,299.3 L176.1,299.3 L176.8,299.4 L177.6,299.5 L178.3,299.2 L179.1,299.4 L179.8,299.5 L180.6,299.5 L181.3,299.2 L182.1,299.8 L182.8,299.4 L183.6,299.6 L184.3,299.3 L185.1,299.8 L185.8,299.7 L186.6,300.0 L187.3,299.6 L188.1,299.6 L188.8,299.8 L189.6,299.9 L190.3,300.1 L191.1,300.0 L191.8,300.3 L192.6,300.4 L193.3,300.0 L194.1,300.6 L194.8,300.1 L195.6,300.2 L196.3,300.1 L197.1,300.6 L197.8,300.6 L198.6,300.0 L199.3,299.9 L200.1,299.7 L200.8,299.1 L201.6,298.1 L202.3,297.5 L203.1,297.0 L203.8,296.3 L204.6,295.3 L205.3,294.7 L206.1,293.7 L206.8,293.1 L207.6,292.7 L208.3,291.6 L209.1,291.2 L209.8,290.9 L210.6,290.1 L211.3,289.8 L212.1,289.9 L212.8,289.4 L213.6,289.4 L214.3,289.5 L215.1,289.2 L215.8,289.1 L216.6,288.6 L217.3,288.8 L218.1,288.7 L218.8,288.5 L219.6,288.4 L220.3,288.1 L221.1,288.3 L221.8,288.1 L222.6,288.2 L223.3,287.8 L224.1,288.1 L224.8,287.8 L225.6,287.9 L226.3,287.7 L227.1,287.5 L227.8,287.5 L228.6,287.3 L229.3,287.4 L230.1,287.3 L230.8,287.2 L231.6,287.6 L232.3,287.5 L233.1,287.2 L233.8,287.2 L234.6,287.4 L235.3,287.2 L236.1,287.1 L236.8,287.1 L237.6,287.3 L238.3,286.8 L239.1,287.0 L239.8,286.8 L240.6,287.1 L241.3,286.8 L242.1,287.0 L242.8,286.8 L243.6,287.0 L244.3,287.3 L245.1,286.9 L245.8,287.0 L246.6,287.2 L247.3,286.9 L248.1,286.9 L248.8,287.0 L249.6,287.1 L250.3,286.8 L251.1,286.8 L251.8,286.7 L252.6,286.8 L253.3,286.9 L254.1,287.0 L254.8,286.8 L255.6,286.9 L256.4,287.1 L257.1,286.8 L257.9,287.0 L258.6,287.1 L259.4,287.1 L260.1,287.0 L260.9,287.0 L261.6,287.0 L262.4,286.8 L263.1,287.1 L263.9,286.7 L264.6,286.8 L265.4,286.6 L266.1,286.8 L266.9,287.1 L267.6,286.9 L268.4,286.5 L269.1,287.0" fill="none" stroke="#1ec8c8" stroke-width="1.6" stroke-linejoin="round" stroke-linecap="round"/>
<path d="M125.0,390.1 L125.8,389.1 L126.5,389.4 L127.2,388.5 L128.0,387.5 L128.8,387.7 L129.5,386.7 L130.2,385.7 L131.0,384.7 L131.8,384.3 L132.5,383.0 L133.2,381.9 L134.0,380.6 L134.8,378.5 L135.5,377.2 L136.2,375.1 L137.0,372.7 L137.8,371.2 L138.5,369.7 L139.2,368.3 L140.0,367.2 L140.8,367.0 L141.5,365.5 L142.2,365.3 L143.0,365.3 L143.8,365.2 L144.5,364.1 L145.2,364.1 L146.0,363.6 L146.8,363.7 L147.5,362.9 L148.2,362.7 L149.0,361.9 L149.8,361.8 L150.5,361.6 L151.2,361.4 L152.0,361.3 L152.8,360.6 L153.5,360.7 L154.2,360.2 L155.0,359.4 L155.8,359.3 L156.5,359.7 L157.2,359.1 L158.0,359.4 L158.8,358.7 L159.5,358.8 L160.2,358.8 L161.0,358.9 L161.8,358.1 L162.5,358.7 L163.2,358.1 L164.0,357.5 L164.8,357.9 L165.5,357.6 L166.2,357.2 L167.0,357.4 L167.8,357.2 L168.5,357.5 L169.2,356.9 L170.0,356.9 L170.8,356.1 L171.5,356.5 L172.2,356.6 L173.0,356.4 L173.8,356.4 L174.5,356.0 L175.2,356.2 L176.0,356.0 L176.8,356.2 L177.5,355.4 L178.2,356.4 L179.0,355.4 L179.8,355.6 L180.5,355.5 L181.2,355.3 L182.0,355.6 L182.8,355.0 L183.5,355.3 L184.2,355.5 L185.0,355.0 L185.8,355.2 L186.5,355.1 L187.2,355.3 L188.0,355.9 L188.8,355.2 L189.5,355.9 L190.2,355.5 L191.0,355.3 L191.8,355.0 L192.5,353.9 L193.2,354.1 L194.0,353.8 L194.8,353.2 L195.5,352.5 L196.2,352.7 L197.0,353.0 L197.8,353.5 L198.5,356.8 L199.2,357.6 L200.0,358.2 L200.8,360.0 L201.5,361.6 L202.2,363.8 L203.0,365.3 L203.8,366.8 L204.5,368.7 L205.2,370.0 L206.0,372.2 L206.8,373.9 L207.5,374.1 L208.2,375.9 L209.0,375.7 L209.8,374.4 L210.5,372.2 L211.2,370.0 L212.0,368.7 L212.8,367.8 L213.5,366.9 L214.2,367.1 L215.0,366.5 L215.8,365.4 L216.5,365.8 L217.2,365.3 L218.0,364.6 L218.8,364.2 L219.5,364.2 L220.2,364.2 L221.0,363.9 L221.8,363.4 L222.5,363.4 L223.2,363.5 L224.0,363.5 L224.8,363.6 L225.5,363.0 L226.2,363.0 L227.0,362.3 L227.8,361.6 L228.5,360.6 L229.2,359.3 L230.0,358.5 L230.8,358.6 L231.5,358.2 L232.2,358.1 L233.0,357.8 L233.8,357.4 L234.5,357.5 L235.2,357.5 L236.0,357.0 L236.8,356.8 L237.5,356.7 L238.2,356.2 L239.0,356.6 L239.8,356.4 L240.5,355.8 L241.2,356.0 L242.0,355.6 L242.8,355.4 L243.5,355.3 L244.2,355.5 L245.0,355.2 L245.8,355.4 L246.5,355.6 L247.2,355.0 L248.0,355.2 L248.8,355.0 L249.5,355.5 L250.2,355.0 L251.0,355.2 L251.8,355.1 L252.5,354.7 L253.2,354.6 L254.0,354.5 L254.8,355.0 L255.5,354.6 L256.2,354.7 L257.0,354.0 L257.8,353.9 L258.5,354.6 L259.2,354.4 L260.0,354.1 L260.8,353.7 L261.5,354.4 L262.2,354.3 L263.0,354.2 L263.8,354.2 L264.5,354.2 L265.2,353.9 L266.0,353.9 L266.8,353.5 L267.5,354.0 L268.2,353.8 L269.0,353.7 L269.8,353.8 L269.8,357.4 L269.0,357.9 L268.2,358.1 L267.5,357.8 L266.8,357.4 L266.0,357.8 L265.2,357.7 L264.5,357.8 L263.8,358.1 L263.0,358.4 L262.2,358.1 L261.5,358.4 L260.8,358.2 L260.0,358.2 L259.2,358.4 L258.5,358.3 L257.8,358.4 L257.0,357.9 L256.2,358.5 L255.5,358.9 L254.8,358.6 L254.0,358.2 L253.2,358.8 L252.5,358.8 L251.8,358.9 L251.0,358.7 L250.2,358.8 L249.5,359.1 L248.8,359.5 L248.0,359.3 L247.2,359.4 L246.5,359.2 L245.8,359.3 L245.0,359.2 L244.2,359.9 L243.5,359.4 L242.8,359.7 L242.0,360.0 L241.2,359.9 L240.5,359.9 L239.8,360.6 L239.0,360.7 L238.2,360.4 L237.5,360.4 L236.8,360.9 L236.0,360.9 L235.2,361.5 L234.5,361.2 L233.8,361.5 L233.0,362.0 L232.2,362.3 L231.5,362.4 L230.8,362.6 L230.0,362.8 L229.2,363.7 L228.5,365.1 L227.8,366.0 L227.0,366.2 L226.2,367.3 L225.5,367.1 L224.8,367.3 L224.0,367.1 L223.2,367.3 L222.5,367.2 L221.8,367.4 L221.0,367.9 L220.2,368.1 L219.5,368.3 L218.8,368.4 L218.0,368.6 L217.2,368.8 L216.5,369.8 L215.8,369.6 L215.0,370.9 L214.2,371.1 L213.5,370.8 L212.8,371.8 L212.0,372.4 L211.2,374.0 L210.5,376.1 L209.8,378.4 L209.0,379.7 L208.2,379.9 L207.5,378.4 L206.8,377.5 L206.0,375.9 L205.2,374.5 L204.5,372.9 L203.8,371.0 L203.0,369.4 L202.2,367.5 L201.5,366.1 L200.8,363.9 L200.0,362.5 L199.2,358.6 L198.5,357.6 L197.8,354.9 L197.0,353.7 L196.2,353.7 L195.5,353.5 L194.8,354.1 L194.0,354.9 L193.2,354.7 L192.5,354.8 L191.8,356.0 L191.0,355.8 L190.2,356.2 L189.5,356.5 L188.8,356.1 L188.0,356.3 L187.2,356.6 L186.5,355.8 L185.8,356.3 L185.0,355.9 L184.2,356.3 L183.5,356.4 L182.8,356.3 L182.0,356.2 L181.2,356.7 L180.5,356.0 L179.8,356.9 L179.0,356.8 L178.2,357.2 L177.5,356.8 L176.8,357.0 L176.0,356.7 L175.2,357.1 L174.5,356.8 L173.8,357.1 L173.0,357.2 L172.2,357.4 L171.5,357.6 L170.8,357.2 L170.0,358.3 L169.2,357.8 L168.5,358.5 L167.8,358.4 L167.0,358.6 L166.2,358.5 L165.5,358.5 L164.8,358.4 L164.0,358.7 L163.2,359.3 L162.5,359.7 L161.8,359.2 L161.0,359.9 L160.2,359.3 L159.5,359.7 L158.8,360.1 L158.0,360.4 L157.2,360.1 L156.5,360.4 L155.8,360.8 L155.0,360.5 L154.2,361.1 L153.5,361.6 L152.8,361.5 L152.0,362.1 L151.2,362.8 L150.5,362.5 L149.8,362.5 L149.0,363.1 L148.2,363.8 L147.5,363.9 L146.8,364.1 L146.0,364.3 L145.2,364.8 L144.5,365.0 L143.8,366.2 L143.0,366.2 L142.2,366.4 L141.5,366.9 L140.8,367.6 L140.0,368.2 L139.2,369.6 L138.5,370.4 L137.8,372.5 L137.0,374.0 L136.2,376.1 L135.5,378.4 L134.8,381.9 L134.0,383.9 L133.2,384.9 L132.5,386.4 L131.8,387.6 L131.0,388.2 L130.2,388.9 L129.5,389.8 L128.8,391.0 L128.0,390.8 L127.2,391.4 L126.5,392.3 L125.8,392.8 L125.0,393.2Z" fill="#0000ff" fill-opacity="0.3"/>
<path d="M125.0,391.5 L125.8,391.0 L126.5,390.8 L127.2,390.1 L128.0,389.2 L128.8,389.3 L129.5,388.0 L130.2,387.4 L131.0,386.6 L131.8,386.0 L132.5,384.7 L133.2,383.4 L134.0,382.2 L134.8,380.3 L135.5,378.0 L136.2,375.6 L137.0,373.3 L137.8,371.8 L138.5,370.1 L139.2,368.9 L140.0,367.6 L140.8,367.3 L141.5,366.1 L142.2,365.9 L143.0,366.0 L143.8,365.5 L144.5,364.7 L145.2,364.5 L146.0,364.0 L146.8,363.9 L147.5,363.5 L148.2,363.1 L149.0,362.6 L149.8,362.0 L150.5,361.9 L151.2,362.0 L152.0,361.6 L152.8,361.3 L153.5,361.0 L154.2,360.7 L155.0,360.2 L155.8,360.1 L156.5,360.0 L157.2,359.6 L158.0,359.6 L158.8,359.4 L159.5,359.3 L160.2,359.1 L161.0,359.2 L161.8,358.8 L162.5,358.9 L163.2,358.6 L164.0,358.2 L164.8,358.2 L165.5,358.2 L166.2,357.7 L167.0,357.9 L167.8,358.0 L168.5,357.7 L169.2,357.6 L170.0,357.5 L170.8,356.9 L171.5,357.1 L172.2,356.9 L173.0,356.7 L173.8,356.7 L174.5,356.4 L175.2,356.8 L176.0,356.3 L176.8,356.4 L177.5,356.1 L178.2,356.7 L179.0,356.1 L179.8,356.2 L180.5,355.8 L181.2,355.9 L182.0,355.9 L182.8,355.6 L183.5,356.1 L184.2,355.9 L185.0,355.4 L185.8,355.7 L186.5,355.5 L187.2,355.8 L188.0,356.1 L188.8,355.7 L189.5,356.1 L190.2,355.7 L191.0,355.5 L191.8,355.4 L192.5,354.5 L193.2,354.4 L194.0,354.1 L194.8,353.5 L195.5,353.0 L196.2,353.4 L197.0,353.5 L197.8,354.3 L198.5,357.0 L199.2,358.4 L200.0,360.5 L200.8,361.9 L201.5,363.9 L202.2,365.7 L203.0,367.1 L203.8,368.9 L204.5,370.9 L205.2,372.2 L206.0,374.1 L206.8,375.8 L207.5,376.4 L208.2,377.7 L209.0,377.8 L209.8,376.5 L210.5,374.1 L211.2,372.2 L212.0,370.7 L212.8,370.0 L213.5,369.1 L214.2,369.1 L215.0,368.6 L215.8,367.6 L216.5,367.7 L217.2,367.1 L218.0,366.8 L218.8,366.5 L219.5,366.1 L220.2,366.0 L221.0,365.9 L221.8,365.6 L222.5,365.5 L223.2,365.5 L224.0,365.2 L224.8,365.4 L225.5,365.2 L226.2,365.0 L227.0,364.5 L227.8,363.8 L228.5,362.8 L229.2,361.5 L230.0,360.5 L230.8,360.7 L231.5,360.5 L232.2,360.1 L233.0,359.8 L233.8,359.4 L234.5,359.4 L235.2,359.4 L236.0,359.1 L236.8,359.0 L237.5,358.5 L238.2,358.4 L239.0,358.5 L239.8,358.6 L240.5,358.0 L241.2,358.1 L242.0,357.8 L242.8,357.5 L243.5,357.6 L244.2,357.7 L245.0,357.4 L245.8,357.4 L246.5,357.3 L247.2,357.3 L248.0,357.2 L248.8,357.2 L249.5,357.3 L250.2,357.1 L251.0,356.9 L251.8,357.1 L252.5,356.7 L253.2,356.7 L254.0,356.4 L254.8,356.7 L255.5,356.6 L256.2,356.8 L257.0,356.1 L257.8,356.2 L258.5,356.5 L259.2,356.5 L260.0,356.3 L260.8,356.0 L261.5,356.4 L262.2,356.1 L263.0,356.3 L263.8,356.2 L264.5,356.0 L265.2,355.9 L266.0,355.9 L266.8,355.5 L267.5,355.9 L268.2,356.0 L269.0,355.7 L269.8,355.7" fill="none" stroke="#0000ff" stroke-width="1.7" stroke-linejoin="round" stroke-linecap="round"/>
<path d="M131.5,392.1 L132.2,388.8 L133.0,386.5 L133.8,383.6 L134.5,381.2 L135.2,378.9 L136.0,375.9 L136.8,373.3 L137.5,371.4 L138.2,369.7 L139.0,369.5 L139.8,367.8 L140.5,367.2 L141.2,366.5 L142.0,366.6 L142.8,365.7 L143.5,365.8 L144.2,364.9 L145.0,364.5 L145.8,364.8 L146.5,364.6 L147.2,364.2 L148.0,364.6 L148.8,363.6 L149.5,363.4 L150.2,363.3 L151.0,362.8 L151.8,362.5 L152.5,362.3 L153.2,361.7 L154.0,361.3 L154.8,361.1 L155.5,360.8 L156.2,360.6 L157.0,360.2 L157.8,359.9 L158.5,358.9 L159.2,358.8 L160.0,358.7 L160.8,358.4 L161.5,358.1 L162.2,357.8 L163.0,357.1 L163.8,356.6 L164.5,355.8 L165.2,356.1 L166.0,355.4 L166.8,355.8 L167.5,355.1 L168.2,355.0 L169.0,354.6 L169.8,354.5 L170.5,354.6 L171.2,354.5 L172.0,354.6 L172.8,355.1 L173.5,354.7 L174.2,354.6 L175.0,355.3 L175.8,355.2 L176.5,355.3 L177.2,355.9 L178.0,356.0 L178.8,356.3 L179.5,356.5 L180.2,356.0 L181.0,356.8 L181.8,356.3 L182.5,356.7 L183.2,356.5 L184.0,356.1 L184.8,355.6 L185.5,356.2 L186.2,355.9 L187.0,355.7 L187.8,356.4 L188.5,356.4 L189.2,355.3 L190.0,355.9 L190.8,356.2 L191.5,355.6 L192.2,355.7 L193.0,355.6 L193.8,355.4 L194.5,355.2 L195.2,355.0 L196.0,356.3 L196.8,356.6 L197.5,356.9 L198.2,358.4 L199.0,359.6 L199.8,360.2 L200.5,361.2 L201.2,363.3 L202.0,364.3 L202.8,365.8 L203.5,367.2 L204.2,369.0 L205.0,370.1 L205.8,372.3 L206.5,374.2 L207.2,375.6 L208.0,376.3 L208.8,377.1 L209.5,377.1 L210.2,376.0 L211.0,374.7 L211.8,374.1 L212.5,373.5 L213.2,372.6 L214.0,371.9 L214.8,371.9 L215.5,371.4 L216.2,370.4 L217.0,370.3 L217.8,370.7 L218.5,369.8 L219.2,369.9 L220.0,368.7 L220.8,368.9 L221.5,368.5 L222.2,367.9 L223.0,368.0 L223.8,367.9 L224.5,367.5 L225.2,367.8 L226.0,366.9 L226.8,367.0 L227.5,367.5 L228.2,367.1 L229.0,367.1 L229.8,367.4 L230.5,366.7 L231.2,366.6 L232.0,367.4 L232.8,366.9 L233.5,366.7 L234.2,367.0 L235.0,366.6 L235.8,366.5 L236.5,366.4 L237.2,366.3 L238.0,366.5 L238.8,366.6 L239.5,366.3 L240.2,365.9 L241.0,366.8 L241.8,366.7 L242.5,366.7 L243.2,366.2 L244.0,366.2 L244.8,366.1 L245.5,366.4 L246.2,366.2 L247.0,366.1 L247.8,366.5 L248.5,366.2 L249.2,366.4 L250.0,365.9 L250.8,365.6 L251.5,366.0 L252.2,366.0 L253.0,365.6 L253.8,365.8 L254.5,365.9 L255.2,366.1 L256.0,365.8 L256.8,366.3 L257.5,365.5 L258.2,365.6 L259.0,365.9 L259.8,366.1 L260.5,365.8 L261.2,365.8 L262.0,365.7 L262.8,365.8 L263.5,365.5 L264.2,365.5 L265.0,365.7 L265.8,365.7 L266.5,365.4 L267.2,365.4 L268.0,364.9 L268.8,365.1 L269.5,365.6 L269.5,375.4 L268.8,375.6 L268.0,375.2 L267.2,375.1 L266.5,375.7 L265.8,375.5 L265.0,375.7 L264.2,375.1 L263.5,375.6 L262.8,375.8 L262.0,375.9 L261.2,375.7 L260.5,375.6 L259.8,375.7 L259.0,375.7 L258.2,375.6 L257.5,375.4 L256.8,376.1 L256.0,375.9 L255.2,375.6 L254.5,375.9 L253.8,375.8 L253.0,375.7 L252.2,376.2 L251.5,376.3 L250.8,375.9 L250.0,375.9 L249.2,376.3 L248.5,375.8 L247.8,376.1 L247.0,376.1 L246.2,376.2 L245.5,376.4 L244.8,376.0 L244.0,376.0 L243.2,376.2 L242.5,376.6 L241.8,376.5 L241.0,376.9 L240.2,375.9 L239.5,376.0 L238.8,376.8 L238.0,376.5 L237.2,376.3 L236.5,376.6 L235.8,376.7 L235.0,376.5 L234.2,376.5 L233.5,377.0 L232.8,376.7 L232.0,376.9 L231.2,376.8 L230.5,377.0 L229.8,377.4 L229.0,376.8 L228.2,377.4 L227.5,377.4 L226.8,377.3 L226.0,376.8 L225.2,377.6 L224.5,377.6 L223.8,377.7 L223.0,378.0 L222.2,377.9 L221.5,378.4 L220.8,378.8 L220.0,379.0 L219.2,379.9 L218.5,379.6 L217.8,380.3 L217.0,380.3 L216.2,380.8 L215.5,381.5 L214.8,382.3 L214.0,381.7 L213.2,382.6 L212.5,383.6 L211.8,384.1 L211.0,384.6 L210.2,385.6 L209.5,387.2 L208.8,387.5 L208.0,386.5 L207.2,385.7 L206.5,383.8 L205.8,382.3 L205.0,380.5 L204.2,378.6 L203.5,377.2 L202.8,376.1 L202.0,374.5 L201.2,373.1 L200.5,371.4 L199.8,369.9 L199.0,368.6 L198.2,367.8 L197.5,366.6 L196.8,365.5 L196.0,365.4 L195.2,364.6 L194.5,364.2 L193.8,364.3 L193.0,365.0 L192.2,364.7 L191.5,365.0 L190.8,365.3 L190.0,364.9 L189.2,365.0 L188.5,365.5 L187.8,365.2 L187.0,365.0 L186.2,364.9 L185.5,365.7 L184.8,364.9 L184.0,365.3 L183.2,365.3 L182.5,365.9 L181.8,365.6 L181.0,366.1 L180.2,365.5 L179.5,365.6 L178.8,365.4 L178.0,365.2 L177.2,364.7 L176.5,364.7 L175.8,364.5 L175.0,364.3 L174.2,364.0 L173.5,363.7 L172.8,363.3 L172.0,363.2 L171.2,362.4 L170.5,362.5 L169.8,362.3 L169.0,362.3 L168.2,362.6 L167.5,361.9 L166.8,362.5 L166.0,361.7 L165.2,362.5 L164.5,362.2 L163.8,362.3 L163.0,362.8 L162.2,362.9 L161.5,362.9 L160.8,363.2 L160.0,363.6 L159.2,363.5 L158.5,363.3 L157.8,363.8 L157.0,363.6 L156.2,364.1 L155.5,364.0 L154.8,363.9 L154.0,364.2 L153.2,363.6 L152.5,364.7 L151.8,364.6 L151.0,364.2 L150.2,364.2 L149.5,364.9 L148.8,365.0 L148.0,365.6 L147.2,365.4 L146.5,365.9 L145.8,365.9 L145.0,366.3 L144.2,366.4 L143.5,367.2 L142.8,367.1 L142.0,368.1 L141.2,368.0 L140.5,368.8 L139.8,369.3 L139.0,370.6 L138.2,371.4 L137.5,372.7 L136.8,374.8 L136.0,377.3 L135.2,379.8 L134.5,382.7 L133.8,385.2 L133.0,388.3 L132.2,390.0 L131.5,393.3Z" fill="#1ec8c8" fill-opacity="0.4"/>
<path d="M131.5,392.6 L132.2,389.5 L133.0,387.4 L133.8,384.6 L134.5,382.1 L135.2,379.3 L136.0,376.5 L136.8,374.2 L137.5,372.2 L138.2,370.5 L139.0,369.9 L139.8,368.5 L140.5,368.1 L141.2,367.3 L142.0,367.3 L142.8,366.4 L143.5,366.6 L144.2,365.7 L145.0,365.5 L145.8,365.4 L146.5,365.1 L147.2,364.7 L148.0,365.0 L148.8,364.3 L149.5,364.2 L150.2,363.7 L151.0,363.5 L151.8,363.5 L152.5,363.4 L153.2,362.7 L154.0,362.8 L154.8,362.5 L155.5,362.6 L156.2,362.4 L157.0,361.9 L157.8,361.7 L158.5,361.0 L159.2,361.1 L160.0,361.1 L160.8,360.8 L161.5,360.5 L162.2,360.2 L163.0,360.1 L163.8,359.6 L164.5,359.1 L165.2,359.2 L166.0,358.7 L166.8,359.0 L167.5,358.4 L168.2,358.7 L169.0,358.5 L169.8,358.6 L170.5,358.3 L171.2,358.6 L172.0,358.8 L172.8,359.3 L173.5,359.3 L174.2,359.5 L175.0,359.8 L175.8,359.7 L176.5,360.1 L177.2,360.3 L178.0,360.5 L178.8,360.7 L179.5,360.9 L180.2,360.8 L181.0,361.4 L181.8,360.9 L182.5,361.3 L183.2,360.9 L184.0,360.8 L184.8,360.5 L185.5,360.8 L186.2,360.5 L187.0,360.5 L187.8,360.7 L188.5,360.8 L189.2,360.1 L190.0,360.6 L190.8,360.6 L191.5,360.5 L192.2,360.3 L193.0,360.2 L193.8,359.9 L194.5,359.5 L195.2,359.8 L196.0,360.6 L196.8,360.9 L197.5,361.7 L198.2,362.9 L199.0,363.9 L199.8,365.0 L200.5,366.4 L201.2,368.3 L202.0,369.4 L202.8,371.0 L203.5,372.4 L204.2,373.7 L205.0,375.4 L205.8,377.2 L206.5,379.0 L207.2,380.6 L208.0,381.5 L208.8,382.3 L209.5,382.3 L210.2,380.8 L211.0,379.6 L211.8,379.0 L212.5,378.3 L213.2,377.8 L214.0,377.0 L214.8,377.0 L215.5,376.6 L216.2,375.7 L217.0,375.3 L217.8,375.4 L218.5,374.7 L219.2,374.6 L220.0,373.8 L220.8,374.1 L221.5,373.5 L222.2,373.0 L223.0,373.1 L223.8,372.8 L224.5,372.4 L225.2,372.8 L226.0,372.0 L226.8,372.1 L227.5,372.4 L228.2,372.4 L229.0,371.8 L229.8,372.3 L230.5,371.7 L231.2,371.8 L232.0,372.1 L232.8,371.6 L233.5,371.7 L234.2,371.7 L235.0,371.8 L235.8,371.6 L236.5,371.5 L237.2,371.6 L238.0,371.6 L238.8,371.7 L239.5,371.3 L240.2,371.2 L241.0,371.6 L241.8,371.5 L242.5,371.5 L243.2,371.5 L244.0,371.0 L244.8,371.0 L245.5,371.6 L246.2,371.2 L247.0,371.1 L247.8,371.3 L248.5,370.9 L249.2,371.4 L250.0,371.2 L250.8,370.9 L251.5,371.2 L252.2,371.0 L253.0,370.8 L253.8,370.7 L254.5,370.7 L255.2,370.9 L256.0,370.8 L256.8,371.1 L257.5,370.7 L258.2,370.8 L259.0,371.0 L259.8,370.9 L260.5,370.8 L261.2,370.9 L262.0,370.7 L262.8,370.8 L263.5,370.7 L264.2,370.3 L265.0,370.6 L265.8,370.6 L266.5,370.6 L267.2,370.4 L268.0,370.0 L268.8,370.4 L269.5,370.5" fill="none" stroke="#1ec8c8" stroke-width="1.6" stroke-linejoin="round" stroke-linecap="round"/>
<line x1="326.70" y1="94.90" x2="326.70" y2="229.40" stroke="#333333" stroke-width="1.2" />
<line x1="326.20" y1="225.90" x2="458.20" y2="225.90" stroke="#333333" stroke-width="1.25" />
<line x1="323.20" y1="225.90" x2="326.70" y2="225.90" stroke="#333333" stroke-width="1.1" />
<text x="320.30" y="229.65" font-size="10.5" stroke="#000" text-anchor="end" textLength="5.60" lengthAdjust="spacingAndGlyphs">0</text>
<line x1="323.20" y1="204.06" x2="326.70" y2="204.06" stroke="#333333" stroke-width="1.1" />
<text x="320.30" y="207.81" font-size="10.5" stroke="#000" text-anchor="end" textLength="5.60" lengthAdjust="spacingAndGlyphs">5</text>
<line x1="323.20" y1="182.23" x2="326.70" y2="182.23" stroke="#333333" stroke-width="1.1" />
<text x="320.30" y="185.98" font-size="10.5" stroke="#000" text-anchor="end" textLength="11.10" lengthAdjust="spacingAndGlyphs">10</text>
<line x1="323.20" y1="160.40" x2="326.70" y2="160.40" stroke="#333333" stroke-width="1.1" />
<text x="320.30" y="164.15" font-size="10.5" stroke="#000" text-anchor="end" textLength="11.10" lengthAdjust="spacingAndGlyphs">15</text>
<line x1="323.20" y1="138.56" x2="326.70" y2="138.56" stroke="#333333" stroke-width="1.1" />
<text x="320.30" y="142.31" font-size="10.5" stroke="#000" text-anchor="end" textLength="11.10" lengthAdjust="spacingAndGlyphs">20</text>
<line x1="323.20" y1="116.73" x2="326.70" y2="116.73" stroke="#333333" stroke-width="1.1" />
<text x="320.30" y="120.48" font-size="10.5" stroke="#000" text-anchor="end" textLength="11.10" lengthAdjust="spacingAndGlyphs">25</text>
<line x1="323.20" y1="94.89" x2="326.70" y2="94.89" stroke="#333333" stroke-width="1.1" />
<text x="320.30" y="98.64" font-size="10.5" stroke="#000" text-anchor="end" textLength="11.10" lengthAdjust="spacingAndGlyphs">30</text>
<line x1="326.70" y1="225.90" x2="326.70" y2="229.40" stroke="#333333" stroke-width="1.1" />
<text x="326.70" y="240.10" font-size="10.5" stroke="#000" text-anchor="middle" textLength="5.60" lengthAdjust="spacingAndGlyphs">0</text>
<line x1="348.56" y1="225.90" x2="348.56" y2="229.40" stroke="#333333" stroke-width="1.1" />
<text x="348.56" y="240.10" font-size="10.5" stroke="#000" text-anchor="middle" textLength="5.60" lengthAdjust="spacingAndGlyphs">5</text>
<line x1="370.43" y1="225.90" x2="370.43" y2="229.40" stroke="#333333" stroke-width="1.1" />
<text x="370.43" y="240.10" font-size="10.5" stroke="#000" text-anchor="middle" textLength="11.10" lengthAdjust="spacingAndGlyphs">10</text>
<line x1="392.29" y1="225.90" x2="392.29" y2="229.40" stroke="#333333" stroke-width="1.1" />
<text x="392.29" y="240.10" font-size="10.5" stroke="#000" text-anchor="middle" textLength="11.10" lengthAdjust="spacingAndGlyphs">15</text>
<line x1="414.16" y1="225.90" x2="414.16" y2="229.40" stroke="#333333" stroke-width="1.1" />
<text x="414.16" y="240.10" font-size="10.5" stroke="#000" text-anchor="middle" textLength="11.10" lengthAdjust="spacingAndGlyphs">20</text>
<line x1="436.02" y1="225.90" x2="436.02" y2="229.40" stroke="#333333" stroke-width="1.1" />
<text x="436.02" y="240.10" font-size="10.5" stroke="#000" text-anchor="middle" textLength="11.10" lengthAdjust="spacingAndGlyphs">25</text>
<line x1="457.89" y1="225.90" x2="457.89" y2="229.40" stroke="#333333" stroke-width="1.1" />
<text x="457.89" y="240.10" font-size="10.5" stroke="#000" text-anchor="middle" textLength="11.10" lengthAdjust="spacingAndGlyphs">30</text>
<text x="332.70" y="250.60" font-size="9.3" stroke="#000" textLength="118.20" lengthAdjust="spacingAndGlyphs">Initial Stall Torque (pN·nm)</text>
<text transform="translate(289.90,161.40) rotate(-90)" font-size="9.0" stroke="#000" text-anchor="middle" textLength="86.50" lengthAdjust="spacingAndGlyphs">Restart Stall Torque</text>
<text transform="translate(302.80,164.00) rotate(-90)" font-size="9.0" stroke="#000" text-anchor="middle" textLength="110.00" lengthAdjust="spacingAndGlyphs">After Unwinding (pN·nm)</text>
<line x1="326.70" y1="225.90" x2="457.70" y2="94.90" stroke="#000" stroke-width="1.1" stroke-dasharray="1.1 1.6"/>
<line x1="326.70" y1="199.30" x2="458.00" y2="199.30" stroke="#c4c4c4" stroke-width="1.3" stroke-dasharray="3.2 2.5"/>
<text x="412.80" y="209.70" font-size="9.6" fill="#777777" stroke="#777777" textLength="43.00" lengthAdjust="spacingAndGlyphs">no restart</text>
<text x="285.00" y="97.00" font-size="15.5" font-weight="bold">d</text>
<line x1="506.90" y1="98.50" x2="506.90" y2="230.80" stroke="#333333" stroke-width="1.2" />
<line x1="506.40" y1="227.30" x2="636.00" y2="227.30" stroke="#333333" stroke-width="1.25" />
<line x1="503.40" y1="227.30" x2="506.90" y2="227.30" stroke="#333333" stroke-width="1.1" />
<text x="500.50" y="231.05" font-size="10.5" stroke="#000" text-anchor="end" textLength="5.60" lengthAdjust="spacingAndGlyphs">0</text>
<line x1="503.40" y1="205.85" x2="506.90" y2="205.85" stroke="#333333" stroke-width="1.1" />
<text x="500.50" y="209.60" font-size="10.5" stroke="#000" text-anchor="end" textLength="5.60" lengthAdjust="spacingAndGlyphs">5</text>
<line x1="503.40" y1="184.40" x2="506.90" y2="184.40" stroke="#333333" stroke-width="1.1" />
<text x="500.50" y="188.15" font-size="10.5" stroke="#000" text-anchor="end" textLength="11.10" lengthAdjust="spacingAndGlyphs">10</text>
<line x1="503.40" y1="162.95" x2="506.90" y2="162.95" stroke="#333333" stroke-width="1.1" />
<text x="500.50" y="166.70" font-size="10.5" stroke="#000" text-anchor="end" textLength="11.10" lengthAdjust="spacingAndGlyphs">15</text>
<line x1="503.40" y1="141.50" x2="506.90" y2="141.50" stroke="#333333" stroke-width="1.1" />
<text x="500.50" y="145.25" font-size="10.5" stroke="#000" text-anchor="end" textLength="11.10" lengthAdjust="spacingAndGlyphs">20</text>
<line x1="503.40" y1="120.05" x2="506.90" y2="120.05" stroke="#333333" stroke-width="1.1" />
<text x="500.50" y="123.80" font-size="10.5" stroke="#000" text-anchor="end" textLength="11.10" lengthAdjust="spacingAndGlyphs">25</text>
<line x1="503.40" y1="98.60" x2="506.90" y2="98.60" stroke="#333333" stroke-width="1.1" />
<text x="500.50" y="102.35" font-size="10.5" stroke="#000" text-anchor="end" textLength="11.10" lengthAdjust="spacingAndGlyphs">30</text>
<line x1="506.90" y1="227.30" x2="506.90" y2="230.80" stroke="#333333" stroke-width="1.1" />
<text x="506.90" y="241.60" font-size="10.5" stroke="#000" text-anchor="middle" textLength="5.60" lengthAdjust="spacingAndGlyphs">0</text>
<line x1="549.80" y1="227.30" x2="549.80" y2="230.80" stroke="#333333" stroke-width="1.1" />
<text x="549.80" y="241.60" font-size="10.5" stroke="#000" text-anchor="middle" textLength="17.90" lengthAdjust="spacingAndGlyphs">200</text>
<line x1="592.70" y1="227.30" x2="592.70" y2="230.80" stroke="#333333" stroke-width="1.1" />
<text x="592.70" y="241.60" font-size="10.5" stroke="#000" text-anchor="middle" textLength="17.90" lengthAdjust="spacingAndGlyphs">400</text>
<line x1="635.60" y1="227.30" x2="635.60" y2="230.80" stroke="#333333" stroke-width="1.1" />
<text x="635.60" y="241.60" font-size="10.5" stroke="#000" text-anchor="middle" textLength="17.90" lengthAdjust="spacingAndGlyphs">600</text>
<text x="497.90" y="250.80" font-size="9.3" stroke="#000" textLength="147.50" lengthAdjust="spacingAndGlyphs">Regression During Initial Stall (bp)</text>
<text transform="translate(470.80,161.40) rotate(-90)" font-size="9.0" stroke="#000" text-anchor="middle" textLength="86.50" lengthAdjust="spacingAndGlyphs">Restart Stall Torque</text>
<text transform="translate(483.70,162.60) rotate(-90)" font-size="9.0" stroke="#000" text-anchor="middle" textLength="110.00" lengthAdjust="spacingAndGlyphs">After Unwinding (pN·nm)</text>
<line x1="506.90" y1="199.40" x2="636.00" y2="199.40" stroke="#c4c4c4" stroke-width="1.3" stroke-dasharray="3.2 2.5"/>
<text x="590.40" y="210.00" font-size="9.6" fill="#777777" stroke="#777777" textLength="42.60" lengthAdjust="spacingAndGlyphs">no restart</text>
<line x1="326.60" y1="273.20" x2="326.60" y2="407.70" stroke="#333333" stroke-width="1.2" />
<line x1="326.10" y1="404.20" x2="458.20" y2="404.20" stroke="#333333" stroke-width="1.25" />
<line x1="323.10" y1="404.20" x2="326.60" y2="404.20" stroke="#333333" stroke-width="1.1" />
<text x="320.20" y="407.95" font-size="10.5" stroke="#000" text-anchor="end" textLength="5.60" lengthAdjust="spacingAndGlyphs">0</text>
<line x1="323.10" y1="382.37" x2="326.60" y2="382.37" stroke="#333333" stroke-width="1.1" />
<text x="320.20" y="386.12" font-size="10.5" stroke="#000" text-anchor="end" textLength="5.60" lengthAdjust="spacingAndGlyphs">5</text>
<line x1="323.10" y1="360.53" x2="326.60" y2="360.53" stroke="#333333" stroke-width="1.1" />
<text x="320.20" y="364.28" font-size="10.5" stroke="#000" text-anchor="end" textLength="11.10" lengthAdjust="spacingAndGlyphs">10</text>
<line x1="323.10" y1="338.69" x2="326.60" y2="338.69" stroke="#333333" stroke-width="1.1" />
<text x="320.20" y="342.44" font-size="10.5" stroke="#000" text-anchor="end" textLength="11.10" lengthAdjust="spacingAndGlyphs">15</text>
<line x1="323.10" y1="316.86" x2="326.60" y2="316.86" stroke="#333333" stroke-width="1.1" />
<text x="320.20" y="320.61" font-size="10.5" stroke="#000" text-anchor="end" textLength="11.10" lengthAdjust="spacingAndGlyphs">20</text>
<line x1="323.10" y1="295.02" x2="326.60" y2="295.02" stroke="#333333" stroke-width="1.1" />
<text x="320.20" y="298.77" font-size="10.5" stroke="#000" text-anchor="end" textLength="11.10" lengthAdjust="spacingAndGlyphs">25</text>
<line x1="323.10" y1="273.19" x2="326.60" y2="273.19" stroke="#333333" stroke-width="1.1" />
<text x="320.20" y="276.94" font-size="10.5" stroke="#000" text-anchor="end" textLength="11.10" lengthAdjust="spacingAndGlyphs">30</text>
<line x1="326.60" y1="404.20" x2="326.60" y2="407.70" stroke="#333333" stroke-width="1.1" />
<text x="326.60" y="418.70" font-size="10.5" stroke="#000" text-anchor="middle" textLength="5.60" lengthAdjust="spacingAndGlyphs">0</text>
<line x1="348.47" y1="404.20" x2="348.47" y2="407.70" stroke="#333333" stroke-width="1.1" />
<text x="348.47" y="418.70" font-size="10.5" stroke="#000" text-anchor="middle" textLength="5.60" lengthAdjust="spacingAndGlyphs">5</text>
<line x1="370.33" y1="404.20" x2="370.33" y2="407.70" stroke="#333333" stroke-width="1.1" />
<text x="370.33" y="418.70" font-size="10.5" stroke="#000" text-anchor="middle" textLength="11.10" lengthAdjust="spacingAndGlyphs">10</text>
<line x1="392.20" y1="404.20" x2="392.20" y2="407.70" stroke="#333333" stroke-width="1.1" />
<text x="392.20" y="418.70" font-size="10.5" stroke="#000" text-anchor="middle" textLength="11.10" lengthAdjust="spacingAndGlyphs">15</text>
<line x1="414.06" y1="404.20" x2="414.06" y2="407.70" stroke="#333333" stroke-width="1.1" />
<text x="414.06" y="418.70" font-size="10.5" stroke="#000" text-anchor="middle" textLength="11.10" lengthAdjust="spacingAndGlyphs">20</text>
<line x1="435.93" y1="404.20" x2="435.93" y2="407.70" stroke="#333333" stroke-width="1.1" />
<text x="435.93" y="418.70" font-size="10.5" stroke="#000" text-anchor="middle" textLength="11.10" lengthAdjust="spacingAndGlyphs">25</text>
<line x1="457.79" y1="404.20" x2="457.79" y2="407.70" stroke="#333333" stroke-width="1.1" />
<text x="457.79" y="418.70" font-size="10.5" stroke="#000" text-anchor="middle" textLength="11.10" lengthAdjust="spacingAndGlyphs">30</text>
<text x="332.00" y="429.80" font-size="9.3" stroke="#000" textLength="118.30" lengthAdjust="spacingAndGlyphs">Initial Stall Torque (pN·nm)</text>
<text transform="translate(289.90,338.30) rotate(-90)" font-size="9.0" stroke="#000" text-anchor="middle" textLength="86.50" lengthAdjust="spacingAndGlyphs">Restart Stall Torque</text>
<text transform="translate(302.80,340.30) rotate(-90)" font-size="9.0" stroke="#000" text-anchor="middle" textLength="110.00" lengthAdjust="spacingAndGlyphs">After Unwinding (pN·nm)</text>
<line x1="326.60" y1="404.20" x2="457.70" y2="273.20" stroke="#000" stroke-width="1.1" stroke-dasharray="1.1 1.6"/>
<line x1="326.60" y1="378.70" x2="458.00" y2="378.70" stroke="#c4c4c4" stroke-width="1.3" stroke-dasharray="3.2 2.5"/>
<text x="356.00" y="390.00" font-size="9.6" fill="#777777" stroke="#777777" textLength="43.00" lengthAdjust="spacingAndGlyphs">no restart</text>
<text x="285.00" y="265.00" font-size="15.5" font-weight="bold">e</text>
<line x1="505.50" y1="275.30" x2="505.50" y2="409.80" stroke="#333333" stroke-width="1.2" />
<line x1="505.00" y1="406.30" x2="636.80" y2="406.30" stroke="#333333" stroke-width="1.25" />
<line x1="502.00" y1="406.30" x2="505.50" y2="406.30" stroke="#333333" stroke-width="1.1" />
<text x="499.10" y="410.05" font-size="10.5" stroke="#000" text-anchor="end" textLength="5.60" lengthAdjust="spacingAndGlyphs">0</text>
<line x1="502.00" y1="384.47" x2="505.50" y2="384.47" stroke="#333333" stroke-width="1.1" />
<text x="499.10" y="388.22" font-size="10.5" stroke="#000" text-anchor="end" textLength="5.60" lengthAdjust="spacingAndGlyphs">5</text>
<line x1="502.00" y1="362.63" x2="505.50" y2="362.63" stroke="#333333" stroke-width="1.1" />
<text x="499.10" y="366.38" font-size="10.5" stroke="#000" text-anchor="end" textLength="11.10" lengthAdjust="spacingAndGlyphs">10</text>
<line x1="502.00" y1="340.80" x2="505.50" y2="340.80" stroke="#333333" stroke-width="1.1" />
<text x="499.10" y="344.55" font-size="10.5" stroke="#000" text-anchor="end" textLength="11.10" lengthAdjust="spacingAndGlyphs">15</text>
<line x1="502.00" y1="318.96" x2="505.50" y2="318.96" stroke="#333333" stroke-width="1.1" />
<text x="499.10" y="322.71" font-size="10.5" stroke="#000" text-anchor="end" textLength="11.10" lengthAdjust="spacingAndGlyphs">20</text>
<line x1="502.00" y1="297.12" x2="505.50" y2="297.12" stroke="#333333" stroke-width="1.1" />
<text x="499.10" y="300.88" font-size="10.5" stroke="#000" text-anchor="end" textLength="11.10" lengthAdjust="spacingAndGlyphs">25</text>
<line x1="502.00" y1="275.29" x2="505.50" y2="275.29" stroke="#333333" stroke-width="1.1" />
<text x="499.10" y="279.04" font-size="10.5" stroke="#000" text-anchor="end" textLength="11.10" lengthAdjust="spacingAndGlyphs">30</text>
<line x1="505.50" y1="406.30" x2="505.50" y2="409.80" stroke="#333333" stroke-width="1.1" />
<text x="505.50" y="420.30" font-size="10.5" stroke="#000" text-anchor="middle" textLength="5.60" lengthAdjust="spacingAndGlyphs">0</text>
<line x1="549.12" y1="406.30" x2="549.12" y2="409.80" stroke="#333333" stroke-width="1.1" />
<text x="549.12" y="420.30" font-size="10.5" stroke="#000" text-anchor="middle" textLength="17.90" lengthAdjust="spacingAndGlyphs">200</text>
<line x1="592.74" y1="406.30" x2="592.74" y2="409.80" stroke="#333333" stroke-width="1.1" />
<text x="592.74" y="420.30" font-size="10.5" stroke="#000" text-anchor="middle" textLength="17.90" lengthAdjust="spacingAndGlyphs">400</text>
<line x1="636.36" y1="406.30" x2="636.36" y2="409.80" stroke="#333333" stroke-width="1.1" />
<text x="636.36" y="420.30" font-size="10.5" stroke="#000" text-anchor="middle" textLength="17.90" lengthAdjust="spacingAndGlyphs">600</text>
<text x="497.00" y="429.80" font-size="9.3" stroke="#000" textLength="148.00" lengthAdjust="spacingAndGlyphs">Regression During Initial Stall (bp)</text>
<text transform="translate(470.80,337.40) rotate(-90)" font-size="9.0" stroke="#000" text-anchor="middle" textLength="86.50" lengthAdjust="spacingAndGlyphs">Restart Stall Torque</text>
<text transform="translate(483.70,338.90) rotate(-90)" font-size="9.0" stroke="#000" text-anchor="middle" textLength="110.00" lengthAdjust="spacingAndGlyphs">After Unwinding (pN·nm)</text>
<line x1="505.50" y1="378.90" x2="636.30" y2="378.90" stroke="#c4c4c4" stroke-width="1.3" stroke-dasharray="3.2 2.5"/>
<text x="533.90" y="390.00" font-size="9.6" fill="#777777" stroke="#777777" textLength="42.80" lengthAdjust="spacingAndGlyphs">no restart</text>
<circle cx="409.5" cy="127.2" r="2.6" fill="#000000"/>
<circle cx="406.3" cy="131.4" r="2.6" fill="#000000"/>
<circle cx="410.4" cy="130.9" r="2.6" fill="#000000"/>
<circle cx="412.3" cy="131.6" r="2.6" fill="#000000"/>
<circle cx="415.0" cy="134.0" r="2.6" fill="#000000"/>
<circle cx="424.2" cy="125.9" r="2.6" fill="#000000"/>
<circle cx="426.0" cy="124.5" r="2.6" fill="#000000"/>
<circle cx="425.5" cy="126.5" r="2.6" fill="#000000"/>
<circle cx="411.7" cy="147.6" r="2.6" fill="#000000"/>
<circle cx="410.5" cy="146.5" r="2.6" fill="#000000"/>
<circle cx="413.0" cy="129.0" r="2.6" fill="#000000"/>
<circle cx="420.5" cy="125.0" r="2.6" fill="#000000"/>
<circle cx="423.0" cy="127.0" r="2.6" fill="#000000"/>
<circle cx="413.1" cy="116.8" r="2.6" fill="#0000ff"/>
<circle cx="400.8" cy="127.2" r="2.6" fill="#0000ff"/>
<circle cx="421.4" cy="122.3" r="2.6" fill="#0000ff"/>
<circle cx="415.6" cy="128.6" r="2.6" fill="#0000ff"/>
<circle cx="429.7" cy="131.9" r="2.6" fill="#0000ff"/>
<circle cx="421.4" cy="130.9" r="2.6" fill="#0000ff"/>
<circle cx="420.4" cy="134.4" r="2.6" fill="#0000ff"/>
<circle cx="420.7" cy="142.0" r="2.6" fill="#0000ff"/>
<circle cx="415.6" cy="145.2" r="2.6" fill="#0000ff"/>
<circle cx="418.5" cy="127.2" r="2.6" fill="#0000ff"/>
<circle cx="422.5" cy="132.6" r="2.6" fill="#0000ff"/>
<circle cx="430.5" cy="133.4" r="2.6" fill="#0000ff"/>
<circle cx="419.5" cy="147.5" r="2.6" fill="#0000ff"/>
<circle cx="416.5" cy="124.4" r="2.6" fill="#0a800a"/>
<circle cx="430.8" cy="129.3" r="2.6" fill="#0a800a"/>
<circle cx="409.3" cy="135.8" r="2.6" fill="#0a800a"/>
<circle cx="416.1" cy="136.2" r="2.6" fill="#0a800a"/>
<circle cx="428.1" cy="134.1" r="2.6" fill="#0a800a"/>
<circle cx="422.8" cy="135.1" r="2.6" fill="#0a800a"/>
<circle cx="427.0" cy="140.2" r="2.6" fill="#0a800a"/>
<circle cx="431.1" cy="143.1" r="2.6" fill="#0a800a"/>
<circle cx="418.6" cy="156.6" r="2.6" fill="#0a800a"/>
<circle cx="415.8" cy="160.5" r="2.6" fill="#0a800a"/>
<circle cx="413.1" cy="176.4" r="2.6" fill="#0a800a"/>
<circle cx="408.9" cy="183.6" r="2.6" fill="#0a800a"/>
<circle cx="424.0" cy="133.0" r="2.6" fill="#0a800a"/>
<circle cx="425.5" cy="139.0" r="2.6" fill="#0a800a"/>
<circle cx="424.4" cy="136.5" r="2.6" fill="#ff0000"/>
<circle cx="422.4" cy="139.9" r="2.6" fill="#ff0000"/>
<circle cx="420.0" cy="148.3" r="2.6" fill="#ff0000"/>
<circle cx="425.6" cy="154.8" r="2.6" fill="#ff0000"/>
<circle cx="420.7" cy="160.8" r="2.6" fill="#ff0000"/>
<circle cx="404.4" cy="172.2" r="2.6" fill="#ff0000"/>
<circle cx="416.3" cy="172.9" r="2.6" fill="#ff0000"/>
<circle cx="428.8" cy="171.1" r="2.6" fill="#ff0000"/>
<circle cx="433.2" cy="169.7" r="2.6" fill="#ff0000"/>
<circle cx="429.0" cy="187.1" r="2.6" fill="#ff0000"/>
<circle cx="433.6" cy="185.7" r="2.6" fill="#ff0000"/>
<circle cx="427.4" cy="191.3" r="2.6" fill="#ff0000"/>
<circle cx="407.5" cy="197.5" r="2.6" fill="#ff0000"/>
<circle cx="414.4" cy="196.8" r="2.6" fill="#ff0000"/>
<circle cx="431.5" cy="188.5" r="2.6" fill="#ff0000"/>
<g clip-path="url(#cdR)">
<circle cx="508.0" cy="122.0" r="2.6" fill="#000000"/>
<circle cx="508.5" cy="127.0" r="2.6" fill="#000000"/>
<circle cx="509.0" cy="131.0" r="2.6" fill="#000000"/>
<circle cx="516.2" cy="129.3" r="2.6" fill="#000000"/>
<circle cx="508.0" cy="135.0" r="2.6" fill="#000000"/>
<circle cx="508.5" cy="139.0" r="2.6" fill="#000000"/>
<circle cx="508.0" cy="143.0" r="2.6" fill="#000000"/>
<circle cx="507.9" cy="147.8" r="2.6" fill="#000000"/>
<circle cx="508.5" cy="125.0" r="2.6" fill="#000000"/>
<circle cx="509.0" cy="129.0" r="2.6" fill="#000000"/>
<circle cx="508.5" cy="133.0" r="2.6" fill="#000000"/>
<circle cx="508.0" cy="146.0" r="2.6" fill="#000000"/>
<circle cx="509.0" cy="150.0" r="2.6" fill="#000000"/>
<circle cx="508.5" cy="120.3" r="2.6" fill="#0000ff"/>
<circle cx="508.8" cy="125.6" r="2.6" fill="#0000ff"/>
<circle cx="508.5" cy="130.2" r="2.6" fill="#0000ff"/>
<circle cx="508.3" cy="133.4" r="2.6" fill="#0000ff"/>
<circle cx="513.0" cy="136.7" r="2.6" fill="#0000ff"/>
<circle cx="509.3" cy="144.6" r="2.6" fill="#0000ff"/>
<circle cx="509.3" cy="148.3" r="2.6" fill="#0000ff"/>
<circle cx="509.3" cy="150.6" r="2.6" fill="#0000ff"/>
<circle cx="508.5" cy="137.0" r="2.6" fill="#0000ff"/>
<circle cx="509.0" cy="141.0" r="2.6" fill="#0000ff"/>
<circle cx="510.5" cy="147.0" r="2.6" fill="#0000ff"/>
<circle cx="508.3" cy="128.0" r="2.6" fill="#0000ff"/>
<circle cx="510.0" cy="134.5" r="2.6" fill="#0000ff"/>
<circle cx="513.7" cy="127.7" r="2.6" fill="#0a800a"/>
<circle cx="513.0" cy="132.5" r="2.6" fill="#0a800a"/>
<circle cx="509.6" cy="139.0" r="2.6" fill="#0a800a"/>
<circle cx="515.3" cy="146.2" r="2.6" fill="#0a800a"/>
<circle cx="525.2" cy="145.8" r="2.6" fill="#0a800a"/>
<circle cx="534.7" cy="137.8" r="2.6" fill="#0a800a"/>
<circle cx="534.4" cy="143.3" r="2.6" fill="#0a800a"/>
<circle cx="514.3" cy="159.2" r="2.6" fill="#0a800a"/>
<circle cx="517.6" cy="163.1" r="2.6" fill="#0a800a"/>
<circle cx="508.3" cy="178.6" r="2.6" fill="#0a800a"/>
<circle cx="510.2" cy="185.9" r="2.6" fill="#0a800a"/>
<circle cx="521.6" cy="139.3" r="2.6" fill="#ff0000"/>
<circle cx="512.8" cy="142.7" r="2.6" fill="#ff0000"/>
<circle cx="514.0" cy="151.3" r="2.6" fill="#ff0000"/>
<circle cx="527.7" cy="157.6" r="2.6" fill="#ff0000"/>
<circle cx="511.5" cy="163.4" r="2.6" fill="#ff0000"/>
<circle cx="512.7" cy="175.2" r="2.6" fill="#ff0000"/>
<circle cx="514.6" cy="174.4" r="2.6" fill="#ff0000"/>
<circle cx="535.9" cy="173.5" r="2.6" fill="#ff0000"/>
<circle cx="541.4" cy="172.3" r="2.6" fill="#ff0000"/>
<circle cx="554.7" cy="189.7" r="2.6" fill="#ff0000"/>
<circle cx="556.0" cy="188.8" r="2.6" fill="#ff0000"/>
<circle cx="562.0" cy="187.9" r="2.6" fill="#ff0000"/>
<circle cx="555.0" cy="193.5" r="2.6" fill="#ff0000"/>
<circle cx="511.2" cy="199.4" r="2.6" fill="#ff0000"/>
<circle cx="517.8" cy="198.6" r="2.6" fill="#ff0000"/>
</g>
<circle cx="412.8" cy="295.0" r="2.6" fill="#0000ff"/>
<circle cx="421.4" cy="300.3" r="2.6" fill="#0000ff"/>
<circle cx="400.6" cy="305.6" r="2.6" fill="#0000ff"/>
<circle cx="415.1" cy="306.3" r="2.6" fill="#0000ff"/>
<circle cx="421.4" cy="310.0" r="2.6" fill="#0000ff"/>
<circle cx="420.7" cy="312.8" r="2.6" fill="#0000ff"/>
<circle cx="429.7" cy="310.0" r="2.6" fill="#0000ff"/>
<circle cx="422.8" cy="318.8" r="2.6" fill="#0000ff"/>
<circle cx="420.7" cy="321.4" r="2.6" fill="#0000ff"/>
<circle cx="415.6" cy="323.6" r="2.6" fill="#0000ff"/>
<circle cx="420.7" cy="325.7" r="2.6" fill="#0000ff"/>
<circle cx="419.0" cy="308.0" r="2.6" fill="#0000ff"/>
<circle cx="423.0" cy="313.0" r="2.6" fill="#0000ff"/>
<circle cx="418.6" cy="305.8" r="2.6" fill="#1ec8c8"/>
<circle cx="436.7" cy="304.0" r="2.6" fill="#1ec8c8"/>
<circle cx="425.8" cy="311.4" r="2.6" fill="#1ec8c8"/>
<circle cx="415.1" cy="318.3" r="2.6" fill="#1ec8c8"/>
<circle cx="417.2" cy="319.0" r="2.6" fill="#1ec8c8"/>
<circle cx="428.1" cy="320.8" r="2.6" fill="#1ec8c8"/>
<circle cx="428.1" cy="325.3" r="2.6" fill="#1ec8c8"/>
<circle cx="402.2" cy="322.5" r="2.6" fill="#1ec8c8"/>
<circle cx="409.3" cy="341.7" r="2.6" fill="#1ec8c8"/>
<circle cx="424.9" cy="341.7" r="2.6" fill="#1ec8c8"/>
<circle cx="405.4" cy="376.8" r="2.6" fill="#1ec8c8"/>
<circle cx="410.1" cy="386.3" r="2.6" fill="#1ec8c8"/>
<circle cx="424.9" cy="378.0" r="2.6" fill="#1ec8c8"/>
<g clip-path="url(#ceR)">
<circle cx="507.5" cy="297.0" r="2.6" fill="#0000ff"/>
<circle cx="507.8" cy="302.2" r="2.6" fill="#0000ff"/>
<circle cx="508.0" cy="312.0" r="2.6" fill="#0000ff"/>
<circle cx="510.0" cy="311.5" r="2.6" fill="#0000ff"/>
<circle cx="507.5" cy="314.5" r="2.6" fill="#0000ff"/>
<circle cx="510.6" cy="322.0" r="2.6" fill="#0000ff"/>
<circle cx="510.6" cy="325.3" r="2.6" fill="#0000ff"/>
<circle cx="509.0" cy="328.3" r="2.6" fill="#0000ff"/>
<circle cx="506.0" cy="306.8" r="2.6" fill="#1ec8c8"/>
<circle cx="513.0" cy="313.1" r="2.6" fill="#1ec8c8"/>
<circle cx="506.3" cy="319.5" r="2.6" fill="#1ec8c8"/>
<circle cx="506.3" cy="323.0" r="2.6" fill="#1ec8c8"/>
<circle cx="506.3" cy="326.3" r="2.6" fill="#1ec8c8"/>
<circle cx="507.3" cy="320.5" r="2.6" fill="#1ec8c8"/>
<circle cx="507.6" cy="324.2" r="2.6" fill="#1ec8c8"/>
<circle cx="507.8" cy="343.6" r="2.6" fill="#1ec8c8"/>
<circle cx="509.6" cy="343.6" r="2.6" fill="#1ec8c8"/>
<circle cx="510.8" cy="378.7" r="2.6" fill="#1ec8c8"/>
<circle cx="613.9" cy="389.1" r="2.6" fill="#1ec8c8"/>
<circle cx="627.5" cy="380.8" r="2.6" fill="#1ec8c8"/>
</g>
<circle cx="549.5" cy="89.5" r="2.5" fill="#000000"/>
<text x="555.7" y="93.40" font-size="9.6" stroke="#000" textLength="124.6" lengthAdjust="spacingAndGlyphs">30 s, WT, 1 nM DNAP (<tspan font-style="italic">N</tspan> = 13)</text>
<circle cx="549.5" cy="101.7" r="2.5" fill="#0000ff"/>
<text x="555.7" y="105.60" font-size="9.6" stroke="#000" textLength="124.6" lengthAdjust="spacingAndGlyphs">60 s, WT, 1 nM DNAP (<tspan font-style="italic">N</tspan> = 13)</text>
<circle cx="549.5" cy="113.9" r="2.5" fill="#0a800a"/>
<text x="555.7" y="117.80" font-size="9.6" stroke="#000" textLength="124.6" lengthAdjust="spacingAndGlyphs">90 s, WT, 1 nM DNAP (<tspan font-style="italic">N</tspan> = 14)</text>
<circle cx="549.5" cy="126.1" r="2.5" fill="#ff0000"/>
<text x="555.7" y="130.00" font-size="9.6" stroke="#000" textLength="130.5" lengthAdjust="spacingAndGlyphs">120 s, WT, 1 nM DNAP (<tspan font-style="italic">N</tspan> = 15)</text>
<circle cx="549.5" cy="278.4" r="2.5" fill="#0000ff"/>
<text x="555.7" y="282.30" font-size="9.6" stroke="#000" textLength="124.6" lengthAdjust="spacingAndGlyphs">60 s, WT, 1 nM DNAP (<tspan font-style="italic">N</tspan> = 13)</text>
<circle cx="549.5" cy="290.0" r="2.5" fill="#1ec8c8"/>
<text x="555.7" y="293.9" font-size="9.6" stroke="#000" textLength="125.2" lengthAdjust="spacingAndGlyphs">60 s, &#916;C<tspan font-size="5.5" dy="1.8">t</tspan><tspan dy="-1.8">, 1 nM DNAP (</tspan><tspan font-style="italic">N</tspan> = 13)</text>
</svg></body></html>
